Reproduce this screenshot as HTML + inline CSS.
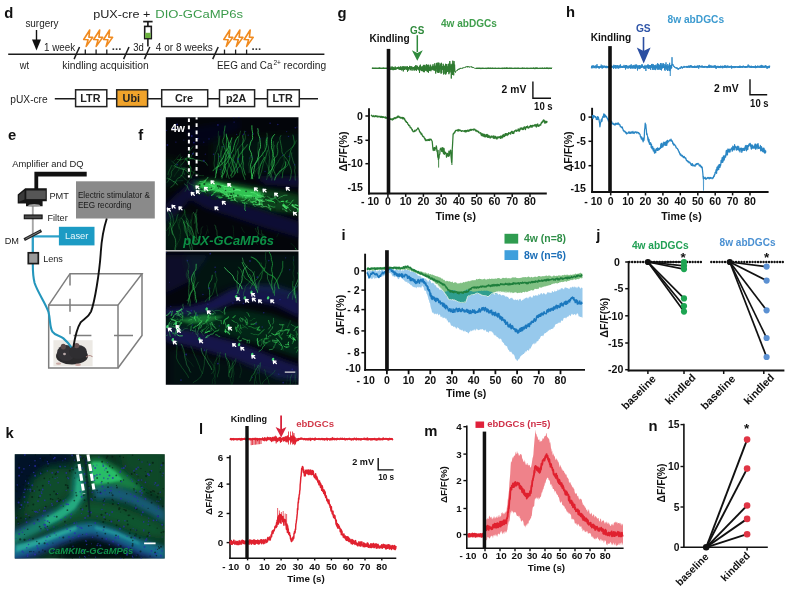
<!DOCTYPE html>
<html lang="en">
<head>
<meta charset="utf-8">
<title>Figure panels d-n</title>
<style>
html,body{margin:0;padding:0;background:#fff;}
body{width:791px;height:590px;overflow:hidden;font-family:"Liberation Sans", sans-serif;}
svg{display:block;font-family:"Liberation Sans", sans-serif;will-change:transform;}
</style>
</head>
<body>
<svg width="791" height="590" viewBox="0 0 791 590">
<defs>
<clipPath id="cf1"><rect x="165.8" y="117.2" width="132.7" height="132.9"/></clipPath>
<clipPath id="cf2"><rect x="165.8" y="251.4" width="132.7" height="133.3"/></clipPath>
<filter id="b1" x="-30%" y="-30%" width="160%" height="160%"><feGaussianBlur stdDeviation="1.2"/></filter>
<filter id="b2" x="-30%" y="-30%" width="160%" height="160%"><feGaussianBlur stdDeviation="2.4"/></filter>
<filter id="b4" x="-30%" y="-30%" width="160%" height="160%"><feGaussianBlur stdDeviation="4.5"/></filter>
<filter id="b03" x="-10%" y="-10%" width="120%" height="120%"><feGaussianBlur stdDeviation="0.35"/></filter>
<clipPath id="ck"><rect x="14.8" y="454.3" width="149.9" height="104.3"/></clipPath>
<filter id="kb1" x="-30%" y="-30%" width="160%" height="160%"><feGaussianBlur stdDeviation="1.3"/></filter>
<filter id="kb2" x="-30%" y="-30%" width="160%" height="160%"><feGaussianBlur stdDeviation="2.4"/></filter>
<filter id="kb5" x="-30%" y="-30%" width="160%" height="160%"><feGaussianBlur stdDeviation="4.5"/></filter>
</defs>
<rect x="0" y="0" width="791" height="590" fill="#ffffff"/>
<g id="panel-d">
<text x="4.3" y="17.5" font-size="14.8" fill="#111" font-weight="700" >d</text>
<text x="25.4" y="26.9" font-size="10.5" fill="#1c1c1c" textLength="33.1" lengthAdjust="spacingAndGlyphs" >surgery</text>
<line x1="36.5" y1="30" x2="36.5" y2="42" stroke="#111" stroke-width="1.4" />
<path d="M32 39.6 L41 39.6 L36.5 50.5 Z" fill="#111" />
<text x="93.2" y="18.3" font-size="10.9" fill="#1c1c1c" textLength="57.2" lengthAdjust="spacingAndGlyphs" >pUX-cre +</text>
<text x="155.3" y="18.3" font-size="10.9" fill="#3A9A4A" textLength="87.8" lengthAdjust="spacingAndGlyphs" >DIO-GCaMP6s</text>
<line x1="8.2" y1="54.2" x2="324.4" y2="54.2" stroke="#1c1c1c" stroke-width="1.4" />
<text x="44" y="51" font-size="10.5" fill="#1c1c1c" textLength="31.2" lengthAdjust="spacingAndGlyphs" >1 week</text>
<line x1="74.1" y1="59.1" x2="79.5" y2="47" stroke="#1c1c1c" stroke-width="1.5" />
<line x1="123.6" y1="59.1" x2="129" y2="47" stroke="#1c1c1c" stroke-width="1.5" />
<line x1="144.4" y1="59.1" x2="149.8" y2="47" stroke="#1c1c1c" stroke-width="1.5" />
<line x1="212.7" y1="59.1" x2="218.2" y2="47" stroke="#1c1c1c" stroke-width="1.5" />
<line x1="85.3" y1="49.6" x2="85.3" y2="54.2" stroke="#1c1c1c" stroke-width="1.3" />
<line x1="96.1" y1="49.6" x2="96.1" y2="54.2" stroke="#1c1c1c" stroke-width="1.3" />
<line x1="106.8" y1="49.6" x2="106.8" y2="54.2" stroke="#1c1c1c" stroke-width="1.3" />
<line x1="224.5" y1="49.6" x2="224.5" y2="54.2" stroke="#1c1c1c" stroke-width="1.3" />
<line x1="235.6" y1="49.6" x2="235.6" y2="54.2" stroke="#1c1c1c" stroke-width="1.3" />
<line x1="246.6" y1="49.6" x2="246.6" y2="54.2" stroke="#1c1c1c" stroke-width="1.3" />
<path d="M89.7 30 L83.7 39.5 L88.1 39.7 L86.2 46.4 L92.7 37.4 L88.9 37.3 Z" fill="#fff" stroke="#F08A1E" stroke-width="1.6" stroke-linejoin="round"/>
<path d="M99.7 30 L93.7 39.5 L98.1 39.7 L96.2 46.4 L102.7 37.4 L98.9 37.3 Z" fill="#fff" stroke="#F08A1E" stroke-width="1.6" stroke-linejoin="round"/>
<path d="M109.6 30 L103.6 39.5 L108 39.7 L106.1 46.4 L112.6 37.4 L108.8 37.3 Z" fill="#fff" stroke="#F08A1E" stroke-width="1.6" stroke-linejoin="round"/>
<path d="M229.8 30 L223.8 39.5 L228.2 39.7 L226.3 46.4 L232.8 37.4 L229 37.3 Z" fill="#fff" stroke="#F08A1E" stroke-width="1.6" stroke-linejoin="round"/>
<path d="M239.9 30 L233.9 39.5 L238.3 39.7 L236.4 46.4 L242.9 37.4 L239.1 37.3 Z" fill="#fff" stroke="#F08A1E" stroke-width="1.6" stroke-linejoin="round"/>
<path d="M250.2 30 L244.2 39.5 L248.6 39.7 L246.7 46.4 L253.2 37.4 L249.4 37.3 Z" fill="#fff" stroke="#F08A1E" stroke-width="1.6" stroke-linejoin="round"/>
<text x="111.8" y="49.6" font-size="11.5" fill="#333" font-weight="700" >...</text>
<text x="251.6" y="49.6" font-size="11.5" fill="#333" font-weight="700" >...</text>
<text x="133.2" y="51" font-size="10.5" fill="#1c1c1c" textLength="10.6" lengthAdjust="spacingAndGlyphs" >3d</text>
<text x="155.8" y="51" font-size="10.5" fill="#1c1c1c" textLength="56.9" lengthAdjust="spacingAndGlyphs" >4 or 8 weeks</text>
<line x1="143.2" y1="21.6" x2="152.6" y2="21.6" stroke="#1c1c1c" stroke-width="1.7" />
<line x1="147.9" y1="21.6" x2="147.9" y2="27" stroke="#1c1c1c" stroke-width="1.7" />
<rect x="144.7" y="26.4" width="6.6" height="12.2" fill="#fff" stroke="#1c1c1c" stroke-width="1.6" />
<rect x="145.2" y="32.8" width="5.5" height="5.3" fill="#6CB33F" />
<line x1="147.9" y1="38.6" x2="147.9" y2="46.4" stroke="#1c1c1c" stroke-width="1.6" />
<text x="19.8" y="69.2" font-size="10.5" fill="#1c1c1c" textLength="9.4" lengthAdjust="spacingAndGlyphs" >wt</text>
<text x="62.3" y="69.2" font-size="10.5" fill="#1c1c1c" textLength="86.4" lengthAdjust="spacingAndGlyphs" >kindling acquisition</text>
<text x="217" y="69.2" font-size="10.5" fill="#1c1c1c" textLength="55.4" lengthAdjust="spacingAndGlyphs" >EEG and Ca</text>
<text x="273.4" y="65" font-size="6.6" fill="#1c1c1c" >2+</text>
<text x="283.6" y="69.2" font-size="10.5" fill="#1c1c1c" textLength="42.6" lengthAdjust="spacingAndGlyphs" >recording</text>
<text x="10.3" y="102.6" font-size="10.5" fill="#1c1c1c" textLength="37.4" lengthAdjust="spacingAndGlyphs" >pUX-cre</text>
<line x1="54.8" y1="98.7" x2="318" y2="98.7" stroke="#1c1c1c" stroke-width="1.5" />
<rect x="75.6" y="89.8" width="31.2" height="16.8" fill="#fff" stroke="#222" stroke-width="1.5" />
<text x="90.4" y="101.9" font-size="10.8" fill="#222" font-weight="700" text-anchor="middle" >LTR</text>
<rect x="116.7" y="89.8" width="30.9" height="16.8" fill="#F0A32B" stroke="#222" stroke-width="1.5" />
<text x="131.3" y="101.9" font-size="10.8" fill="#222" font-weight="700" text-anchor="middle" >Ubi</text>
<rect x="161.7" y="89.8" width="46" height="16.8" fill="#fff" stroke="#222" stroke-width="1.5" />
<text x="183.9" y="101.9" font-size="10.8" fill="#222" font-weight="700" text-anchor="middle" >Cre</text>
<rect x="219.5" y="89.8" width="35.1" height="16.8" fill="#fff" stroke="#222" stroke-width="1.5" />
<text x="236.2" y="101.9" font-size="10.8" fill="#222" font-weight="700" text-anchor="middle" >p2A</text>
<rect x="267.5" y="89.8" width="31.8" height="16.8" fill="#fff" stroke="#222" stroke-width="1.5" />
<text x="282.6" y="101.9" font-size="10.8" fill="#222" font-weight="700" text-anchor="middle" >LTR</text>
</g>
<g id="panel-e">
<text x="8" y="140.3" font-size="14.8" fill="#111" font-weight="700" >e</text>
<text x="138.2" y="140.3" font-size="14.8" fill="#111" font-weight="700" >f</text>
<text x="12.3" y="166.8" font-size="9.4" fill="#222" textLength="71.3" lengthAdjust="spacingAndGlyphs" >Amplifier and DQ</text>
<path d="M34.4 171.8 L86.7 171.8 L86.7 176.5 L38.2 176.5 L38.2 190 L34.4 190 Z" fill="#111" />
<line x1="32.8" y1="205" x2="32.8" y2="253" stroke="#a6a6a6" stroke-width="1.9" />
<path d="M17.7 194.4 L25.2 188.3 L46.8 188.3 L46.8 201.2 L42.6 201.2 L42.6 206.2 L26 206.2 L26 203.4 L17.7 203.4 Z" fill="#161616" />
<rect x="26.3" y="190.5" width="19.4" height="8.6" fill="#565656" />
<path d="M19 195.2 L24.5 190.8 L24.5 199.4 L19 201.8 Z" fill="#3a3a3a" />
<ellipse cx="34.2" cy="205.3" rx="6.2" ry="1.2" fill="#9a9a9a"/>
<text x="49.4" y="198.5" font-size="9.4" fill="#222" textLength="19.5" lengthAdjust="spacingAndGlyphs" >PMT</text>
<rect x="24.3" y="215" width="17.8" height="3.7" fill="#4a4a4a" stroke="#111" stroke-width="1.1" />
<text x="47.5" y="221" font-size="9.4" fill="#222" textLength="20.2" lengthAdjust="spacingAndGlyphs" >Filter</text>
<line x1="32.8" y1="236.4" x2="59" y2="236.4" stroke="#2AA0C8" stroke-width="2.2" />
<line x1="32.8" y1="236.4" x2="32.8" y2="253" stroke="#2AA0C8" stroke-width="2.2" />
<line x1="24.2" y1="239.6" x2="41.4" y2="230.6" stroke="#222" stroke-width="3" />
<line x1="25.5" y1="238.9" x2="40.2" y2="231.2" stroke="#888" stroke-width="0.9" />
<text x="4.7" y="243.6" font-size="9.4" fill="#222" textLength="14.3" lengthAdjust="spacingAndGlyphs" >DM</text>
<rect x="58.9" y="226.8" width="35.6" height="18.6" fill="#1C9BC4" />
<text x="76.7" y="239.2" font-size="9.4" fill="#e8f6fb" text-anchor="middle" textLength="23.5" lengthAdjust="spacingAndGlyphs" >Laser</text>
<rect x="76" y="181.3" width="78.8" height="37.2" fill="#8a8a8a" />
<text x="77.9" y="198.3" font-size="8.2" fill="#1a1a1a" textLength="72" lengthAdjust="spacingAndGlyphs" >Electric stimulator &amp;</text>
<text x="77.9" y="207.8" font-size="8.2" fill="#1a1a1a" textLength="53.5" lengthAdjust="spacingAndGlyphs" >EEG recording</text>
<rect x="48.7" y="305.1" width="69.3" height="62.9" fill="none" stroke="#7e7e7e" stroke-width="1.5" />
<path d="M48.7 305.1 L70 273.7 L142 273.7 L118 305.1" fill="none" stroke="#7e7e7e" stroke-width="1.5" />
<path d="M142 273.7 L142 335.5 L118 368" fill="none" stroke="#7e7e7e" stroke-width="1.5" />
<line x1="70" y1="273.7" x2="70" y2="335.5" stroke="#7e7e7e" stroke-width="1.5" stroke-dasharray="11.9 13.1 13 14.3 8.3 100"/>
<line x1="70" y1="335.5" x2="142" y2="335.5" stroke="#7e7e7e" stroke-width="1.5" stroke-dasharray="0 3.6 17.8 22.6 19 100"/>
<rect x="53.4" y="340.2" width="39.2" height="26.1" fill="#ece9e4" />
<ellipse cx="72" cy="356" rx="16" ry="8.6" fill="#2b2a2c"/>
<ellipse cx="66" cy="353" rx="9" ry="8" fill="#343236"/>
<ellipse cx="78" cy="352" rx="9" ry="7" fill="#2f2e31"/>
<ellipse cx="63.3" cy="346.6" rx="2.6" ry="2.9" fill="#5a4a4a"/>
<ellipse cx="76.6" cy="345.6" rx="2.8" ry="2.6" fill="#6a5555"/>
<ellipse cx="64.5" cy="354" rx="1.4" ry="1.2" fill="#b9a9a9"/>
<ellipse cx="58.5" cy="363.6" rx="2.6" ry="1.2" fill="#c9a9a4"/>
<ellipse cx="78" cy="364.8" rx="3" ry="1.2" fill="#c9a9a4"/>
<path d="M86 357 Q90 354 92.5 357" fill="none" stroke="#b08a86" stroke-width="1.1"/>
<path d="M32.8 263.8 C32.8 272 33 277 34.6 283 C38 293 45.5 303 48.5 312 C50.5 320 49.6 327 52.4 331.6 C55 335.6 60 335.4 63.4 338.4 C66.6 341.2 69.6 344.6 71.4 347.4" fill="none" stroke="#2496BC" stroke-width="2.1"/>
<path d="M106.8 218.5 C103.4 229 101.6 240 100.8 252 C100 265 98.6 275 96.8 286 C95 297 93.6 305 91 311.6 C88.4 317.6 83.4 319 80.6 322.4 C77.2 327.6 74.8 338 73.4 347" fill="none" stroke="#111" stroke-width="1.9"/>
<rect x="28.3" y="252.8" width="10" height="10.8" fill="#9a9a9a" stroke="#1a1a1a" stroke-width="1.7" />
<text x="43.2" y="262.4" font-size="9.4" fill="#222" textLength="19.7" lengthAdjust="spacingAndGlyphs" >Lens</text>
</g>
<g id="panel-f">
<rect x="165.8" y="250.1" width="132.7" height="1.4" fill="#b5b5b5" />
<g clip-path="url(#cf1)">
<rect x="165" y="116.5" width="134" height="134.5" fill="#03050a" />
<g filter="url(#b2)">
<path d="M163 206.7 L176.9 193.9 L194.3 177.7 L201.3 184.7 L190.9 198.6 L176.9 214.8 L163 224.1 Z" fill="#0f0f3a" opacity="0.82"/>
<path d="M190.9 188.1 L209.4 191.6 L232.7 202.1 L260.5 209 L300 221.8 L300 238.1 L260.5 226.4 L232.7 217.2 L204.8 207.9 L188.5 198.6 Z" fill="#10103e" opacity="0.82"/>
<path d="M255.9 176.5 L300 176.5 L300 187 L265.2 184.7 Z" fill="#111140" opacity="0.8"/>
<path d="M186.2 128.9 L239.6 119.6 L239.6 128.9 L209.4 142.9 L190.9 145.2 Z" fill="#0c0c34" opacity="0.3"/>
</g>
<g filter="url(#b4)">
<path d="M211.8 140.5 L300 133.6 L300 173 L214.1 173 Z" fill="#0c4a1c" opacity="0.2"/>
<path d="M163 156.8 L186.2 163.8 L188.5 180 L163 189.3 Z" fill="#0c4a1c" opacity="0.25"/>
<path d="M163 217.2 L190.9 212.5 L193.2 252 L163 252 Z" fill="#0c4a1c" opacity="0.25"/>
</g>
<g filter="url(#b2)">
<path d="M194.3 181.9 L209.4 179.5 L232.7 183.7 L260.5 188.8 L262.8 205.6 L255.9 205.1 L232.7 200 L209.4 192.1 L194.3 189.3 Z" fill="#15802f" opacity="0.85"/>
<path d="M255.9 187.4 L283.7 191.6 L300 195.1 L300 213.7 L274.4 211.4 L255.9 206 Z" fill="#127028" opacity="0.55"/>
</g>
<g filter="url(#b1)">
<path d="M197.8 182.8 L216.4 182.3 L237.3 187.4 L255.9 190.7 L265.2 195.1 L255.9 199 L237.3 196.3 L218.7 191.6 L200.1 187.4 Z" fill="#38d85c" opacity="0.8"/>
</g>
<g fill="none" stroke-linecap="round"><path d="M237.6 172.7 L237.6 170.7 L237.4 168.7 L236.6 166.9 L236 165 L235 163.2 L234.1 161.5 L232.8 159.9 L231.4 158.5 L230.1 157 L229.4 155.1 L228.4 153.4 L227.2 151.8 L226.4 149.9 L226.3 147.9 L226.3 145.9 L226.2 143.9 L226.6 142 L226.4 140 L226.7 138 L226.6 136" stroke="#28b548" stroke-width="0.8" opacity="0.7"/><path d="M259 178.1 L259.1 176.1 L258.8 174.1 L259 172.1 L259.2 170.2 L259.7 168.2 L260.2 166.3 L260.7 164.4 L261.6 162.5 L262.4 160.7 L263.5 159.1 L264.5 157.3" stroke="#28b548" stroke-width="1" opacity="0.7"/><path d="M230.4 175.8 L231.5 174.1 L232.3 172.3 L233.7 170.8 L234.5 169 L235.3 167.2 L236.3 165.5 L236.9 163.6 L237.6 161.7 L237.7 159.7 L238.2 157.8 L239.1 156 L240 154.2 L241.4 152.7 L242.4 151 L243.7 149.4 L244.9 147.9 L246.2 146.3 L247.3 144.7" stroke="#1f9a3c" stroke-width="1.1" opacity="0.6"/><path d="M268.4 173.5 L269.6 171.9 L271 170.5 L272 168.7 L272.8 166.9 L273.8 165.2 L274.1 163.2 L274.4 161.2 L274.4 159.2 L274 157.3 L273.2 155.4 L273.1 153.4 L272.6 151.5 L272.1 149.5 L271.6 147.6 L271.8 145.6 L271.6 143.6 L271.5 141.6 L271.5 139.6 L272.2 137.7 L273.2 136 L274.6 134.5" stroke="#33cc55" stroke-width="0.9" opacity="0.9"/><path d="M270.1 176.2 L269.6 174.3 L269.4 172.3 L268.6 170.4 L268.4 168.5 L267.8 166.6 L267 164.7 L266 163 L265.2 161.2 L264.6 159.2 L264 157.3 L263 155.6 L262.6 153.6 L262.9 151.7" stroke="#1d8436" stroke-width="0.9" opacity="0.4"/><path d="M289.7 180.4 L290.4 178.5 L290.9 176.6 L291 174.6 L291.4 172.7 L291.4 170.7 L290.9 168.7 L290.3 166.8 L289.6 164.9 L289 163 L288.1 161.2 L287 159.6 L285.8 158 L284.5 156.4 L283.5 154.7 L282.3 153.1 L281.8 151.2 L281.8 149.2 L281.5 147.2 L281.1 145.3 L280.7 143.3 L280.4 141.3 L279.9 139.4 L280 137.4 L280.9 135.6" stroke="#2aa845" stroke-width="0.8" opacity="0.6"/><path d="M221.3 176.8 L222 174.9 L222.6 173 L222.8 171 L223.6 169.2 L224.2 167.2 L224.9 165.4 L226.1 163.8 L227.4 162.2 L228.3 160.5 L229.3 158.7 L229.7 156.7 L230.5 154.9 L231.2 153.1 L232.4 151.4 L233.2 149.6 L233.6 147.7 L234.1 145.7 L234.6 143.8 L235.2 141.9 L235.9 140 L236.9 138.3 L238.1 136.6" stroke="#28b548" stroke-width="1" opacity="0.8"/><path d="M275.3 175.2 L274.9 173.2 L274.1 171.4 L273.3 169.6 L272.4 167.8 L271.9 165.9 L272.2 163.9 L272.3 161.9 L273.1 160.1 L274.3 158.5 L275.8 157.1 L276.9 155.5 L277.6 153.6 L277.8 151.6 L277.7 149.6 L277.2 147.7 L277.1 145.7 L277.5 143.7 L278.4 141.9" stroke="#2aa845" stroke-width="1" opacity="0.6"/><path d="M266.5 179.7 L267.1 177.8 L267.2 175.8 L267.9 173.9 L268.4 172 L269 170.1 L269.1 168.1 L269.7 166.2 L270.6 164.4 L271.3 162.5 L272.2 160.7 L272.5 158.8" stroke="#28b548" stroke-width="0.6" opacity="0.5"/><path d="M222 178.1 L222.4 176.1 L223.3 174.3 L224.3 172.6 L224.8 170.7 L225.4 168.7 L225.3 166.7 L224.7 164.8 L224.8 162.8 L225 160.9 L225.3 158.9 L226 157 L226.6 155.1 L227.4 153.3 L228.5 151.6 L229 149.7 L229.2 147.7 L229 145.7 L228.5 143.7 L228.3 141.7 L227.8 139.8 L227.3 137.9 L226.4 136.1 L226.3 134.1" stroke="#33cc55" stroke-width="1" opacity="0.7"/><path d="M282.1 177.9 L282.5 176 L282.6 174 L282.8 172 L283.6 170.2 L284.8 168.5 L286 166.9 L287.4 165.5 L288.3 163.7 L288.8 161.8 L289.6 159.9 L289.8 158 L289.7 156 L290 154 L290.4 152 L290.9 150.1 L291.8 148.3 L293.1 146.8 L293.9 144.9 L294.3 143 L294.2 141 L293.7 139 L293.5 137 L292.9 135.1" stroke="#1f9a3c" stroke-width="0.8" opacity="0.7"/><path d="M254.1 176.5 L254.5 174.5 L254.9 172.6 L255.8 170.8 L256.8 169.1 L258.1 167.6 L259.7 166.3 L260.8 164.7 L261.9 163 L263.3 161.5 L264.8 160.2 L265.8 158.5 L266.1 156.5 L266.5 154.5 L266.3 152.6 L265.8 150.6 L265 148.8 L264.7 146.8 L264.8 144.8 L265.5 142.9 L265.7 140.9 L266.2 139" stroke="#1d8436" stroke-width="0.7" opacity="0.5"/><path d="M220.7 174.4 L221.1 172.5 L221.1 170.5 L221.2 168.5 L220.9 166.5 L221 164.5 L221.7 162.6 L222 160.7 L222.3 158.7 L222.2 156.7 L221.7 154.8 L221.1 152.9 L220.4 151 L219.8 149.1 L219.5 147.1 L219.1 145.1 L218.9 143.1 L218.4 141.2 L218.6 139.2 L218.2 137.2 L218.4 135.3 L218.3 133.3 L218.6 131.3" stroke="#1f9a3c" stroke-width="0.7" opacity="0.4"/><path d="M278.8 175.8 L279.7 173.9 L280.8 172.3 L281.5 170.4 L281.6 168.4 L282.4 166.5 L283.1 164.7 L284 162.9 L284.3 160.9 L284 158.9 L284.1 156.9 L284.2 154.9" stroke="#1f9a3c" stroke-width="0.7" opacity="0.4"/><path d="M216.3 172.5 L216.1 170.6 L215.5 168.6 L214.4 166.9 L214.2 165 L214 163 L214.3 161 L214.7 159.1 L214.5 157.1 L214.7 155.1 L215.3 153.2 L216.4 151.5 L217.1 149.6 L217.2 147.6 L217.9 145.7 L218.6 143.9 L219.2 142 L219.4 140 L219.5 138 L219.8 136" stroke="#33cc55" stroke-width="0.7" opacity="0.4"/><path d="M231 171.3 L231.1 169.3 L231.2 167.3 L232 165.4 L232.2 163.5 L232.9 161.6 L233.4 159.6 L233.9 157.7 L234.9 155.9 L235.6 154.1 L236.3 152.2 L237.1 150.4 L238.4 148.9 L239.4 147.2 L240.7 145.6 L242 144.1 L243.4 142.6 L244.4 140.9 L245.2 139.1 L245.4 137.1 L245.2 135.1 L244.5 133.2 L244.4 131.2" stroke="#33cc55" stroke-width="0.8" opacity="0.4"/><path d="M268.5 176.1 L269.6 174.4 L270.8 172.9 L271.5 171 L271.9 169 L272.1 167 L271.8 165.1 L271.6 163.1 L271.4 161.1 L272.1 159.2 L272.6 157.3 L272.6 155.3 L273.3 153.4 L273.7 151.4 L273.8 149.4 L273.9 147.4 L273.7 145.5 L273.4 143.5 L273.5 141.5" stroke="#28b548" stroke-width="0.8" opacity="0.4"/><path d="M232.2 172 L231.5 170.1 L230.7 168.3 L229.7 166.5 L228.9 164.7 L228.4 162.7 L228.2 160.8 L228.2 158.8 L228.5 156.8 L229.2 154.9 L229.6 152.9 L229.7 150.9 L230.3 149 L230.4 147 L230.7 145.1 L231.1 143.1 L230.8 141.1" stroke="#1d8436" stroke-width="1" opacity="0.7"/><path d="M274.7 179.9 L275.2 178 L276.1 176.2 L277.2 174.6 L278.5 173.1 L279.8 171.5 L281.3 170.2 L282.8 168.9 L284.3 167.6 L285.4 165.9 L285.7 163.9 L285.7 161.9" stroke="#33cc55" stroke-width="1.1" opacity="0.6"/><path d="M249.1 172.5 L249.3 170.5 L249.2 168.5 L249.2 166.5 L248.7 164.5 L249 162.6 L249.8 160.7 L250 158.7 L250.3 156.8 L251 154.9" stroke="#2aa845" stroke-width="0.7" opacity="0.4"/><path d="M232.3 177.2 L233.6 175.6 L234.7 173.9 L235.6 172.2 L236.5 170.4 L237.5 168.6 L238.8 167.1 L240 165.6 L241.4 164 L242.1 162.2 L242.4 160.2 L242.5 158.2 L243 156.3" stroke="#33cc55" stroke-width="0.9" opacity="0.5"/><path d="M252 176.2 L251.6 174.2 L251.2 172.2 L251.2 170.2 L250.9 168.2 L250.6 166.3 L250.7 164.3 L251.4 162.4 L252 160.5 L252.3 158.5 L251.9 156.5 L251.6 154.6 L251.1 152.6 L250.2 150.9 L249.4 149 L249.4 147 L250 145.1 L250.4 143.1 L251.1 141.3 L252.3 139.6 L252.7 137.7 L252.4 135.7 L252.6 133.7 L252.4 131.7 L252 129.7 L251.9 127.7 L251.9 125.7" stroke="#33cc55" stroke-width="1" opacity="0.8"/><path d="M229.2 178.4 L228.5 176.5 L227.8 174.6 L227.2 172.7 L226.5 170.9 L225.5 169.1 L224.4 167.4 L223.3 165.8 L222.8 163.8 L221.8 162.1 L221.2 160.2 L221.2 158.2 L220.7 156.3 L220.7 154.3 L221.1 152.3 L221.8 150.4 L222.1 148.4 L222.1 146.4" stroke="#2aa845" stroke-width="0.7" opacity="0.8"/><path d="M215.2 177.9 L215.8 176 L215.8 174 L216.3 172 L216.9 170.1 L217.2 168.2 L218.2 166.4 L219 164.6 L219.7 162.7 L220.7 161 L221.9 159.4 L223.1 157.8 L223.6 155.8 L224.4 154 L225.2 152.2 L226.4 150.6 L227.6 149 L228.4 147.1 L228.6 145.1 L229.6 143.4 L230.4 141.5 L231.3 139.8 L231.8 137.8" stroke="#33cc55" stroke-width="0.8" opacity="0.9"/><path d="M258.1 173.9 L258 171.9 L258.2 169.9 L258.6 168 L258.9 166 L258.8 164 L258.7 162 L258.9 160 L258.6 158 L258.6 156 L258.1 154.1 L257.7 152.1 L257.8 150.1 L258 148.1 L258.2 146.1 L258.1 144.1 L258.4 142.2" stroke="#2aa845" stroke-width="0.6" opacity="0.5"/><path d="M216.5 173.2 L216.3 171.2 L216.3 169.2 L216.8 167.3 L217.5 165.4 L218 163.5 L218.3 161.5 L218.6 159.5 L218.7 157.5 L218.7 155.5 L218.1 153.6" stroke="#33cc55" stroke-width="0.8" opacity="0.6"/><path d="M270.5 177.4 L270.8 175.5 L271.7 173.7 L272.5 171.8 L273.4 170.1 L274.3 168.3 L274.9 166.4 L275.9 164.6 L277.4 163.3 L278.3 161.5 L279.2 159.7 L280.3 158.1 L281.7 156.6 L283.4 155.5 L284.9 154.3 L285.9 152.5 L287.3 151.1 L289 150 L290.5 148.7 L291.9 147.3 L293.1 145.7 L294.6 144.3 L295.6 142.6 L296.2 140.7" stroke="#1d8436" stroke-width="0.6" opacity="0.8"/><path d="M271.8 180.1 L272 178.1 L271.6 176.1 L270.8 174.3 L270.3 172.4 L269.2 170.7 L268.7 168.8 L268.8 166.8 L269 164.8 L269.2 162.8 L269.3 160.8 L269.7 158.8 L269.5 156.8 L269 154.9 L269.3 152.9 L269 150.9 L268.5 149 L268.5 147 L267.8 145.1 L267.3 143.2 L267.5 141.2 L267.4 139.2 L267 137.2 L267.2 135.2 L266.9 133.2" stroke="#46e06a" stroke-width="0.6" opacity="0.5"/><path d="M295.3 180.1 L295.1 178.1 L295.2 176.1 L295.2 174.1 L294.8 172.1 L294.6 170.2 L295.1 168.2 L295 166.2 L294.4 164.3 L293.6 162.4 L292.9 160.6 L292.5 158.6 L291.8 156.7 L291.6 154.8 L291.7 152.8" stroke="#46e06a" stroke-width="0.5" opacity="0.6"/><path d="M226.4 177.2 L226.5 175.2 L227.2 173.3 L227.3 171.3 L227.6 169.3 L228.1 167.4 L229 165.6 L229.8 163.8 L231 162.1 L231.5 160.2 L232.1 158.3 L233.2 156.6 L233.6 154.7" stroke="#1f9a3c" stroke-width="1.1" opacity="0.5"/><path d="M213 170.8 L214.3 169.2 L215.7 167.8 L217.4 166.8 L219.3 166.1 L220.9 165 L222.2 163.4 L223.7 162.1 L225.4 161 L226.4 159.3 L227.6 157.7 L228.6 156 L229.5 154.2 L230.1 152.3 L230.4 150.3 L230.2 148.3 L229.9 146.3" stroke="#33cc55" stroke-width="0.8" opacity="0.8"/><path d="M259.1 178.7 L259.6 176.8 L260.5 175 L260.9 173.1 L261.6 171.2 L262 169.2 L262.4 167.3 L262.9 165.3 L263.2 163.4 L263.9 161.5 L264.5 159.6 L265.4 157.8 L265.9 155.8 L266.6 154 L267.2 152.1 L267.7 150.1" stroke="#2aa845" stroke-width="0.5" opacity="0.9"/><path d="M231.5 177.3 L231.5 175.3 L232.1 173.4 L232.8 171.5 L233 169.5 L233.6 167.6 L233.9 165.6 L233.8 163.6 L233.2 161.7 L233.1 159.7 L233.6 157.7 L234.2 155.8 L235.3 154.1 L235.6 152.2 L235.6 150.2 L235.6 148.2 L236.2 146.3 L237.2 144.6 L238 142.7 L238.4 140.8 L238.7 138.8 L238.9 136.8 L239.7 135 L240 133 L240.6 131.1" stroke="#1d8436" stroke-width="0.7" opacity="0.7"/><path d="M222 172.6 L222.7 170.8 L223.5 168.9 L224.2 167.1 L224.7 165.1 L224.8 163.1 L224.8 161.1 L225.1 159.2 L225.4 157.2 L225.7 155.2 L225.7 153.2 L225.6 151.2 L225.1 149.3 L224.3 147.5 L223.9 145.5 L223.2 143.6 L222.7 141.7 L223 139.7 L223.8 137.9 L224.2 135.9 L224.1 133.9 L224.1 131.9 L224.6 130 L224.8 128 L225.1 126" stroke="#1d8436" stroke-width="1" opacity="0.8"/><path d="M234.9 173.6 L234.7 171.6 L234.6 169.6 L234 167.7 L233.3 165.8 L232.5 164 L232.4 162 L232 160.1 L231.1 158.3 L230.1 156.5 L229.1 154.8 L228.3 153 L227.9 151 L227.1 149.2" stroke="#2aa845" stroke-width="1.1" opacity="0.5"/><path d="M251.3 178.8 L251.6 176.9 L251.8 174.9 L251.7 172.9 L251.4 170.9 L251.9 169 L252.6 167.1 L253.8 165.5 L254.8 163.8 L256.2 162.4 L257.5 160.8 L258.4 159 L259.6 157.4 L261.2 156.2 L262.2 154.5 L263.4 152.8 L264.6 151.2 L265.4 149.4 L266.1 147.6 L266.4 145.6 L266.5 143.6 L266.4 141.6 L266.6 139.6 L267.2 137.7" stroke="#28b548" stroke-width="1" opacity="0.8"/><path d="M245.3 174.9 L244.7 173 L244.1 171.1 L243.6 169.1 L243.1 167.2 L243.1 165.2 L243.3 163.2 L242.9 161.2 L242.7 159.3 L242.7 157.3 L242.5 155.3 L242.1 153.3 L242.4 151.3 L242.8 149.4 L243 147.4 L242.6 145.4 L242.6 143.4 L243 141.5 L243.3 139.5 L242.9 137.5 L242.8 135.5" stroke="#33cc55" stroke-width="0.9" opacity="0.6"/><path d="M244.9 179.5 L244.5 177.6 L243.6 175.8 L243 173.9 L242.4 172 L242.2 170 L241.6 168.1 L240.6 166.3 L239.4 164.7 L238.8 162.8 L238.2 160.9 L237.8 159 L238 157 L238.5 155 L238.4 153 L238.2 151.1 L237.6 149.1" stroke="#28b548" stroke-width="1.1" opacity="0.5"/><path d="M252.7 178.8 L252.3 176.8 L252.6 174.8 L253.4 173 L254 171.1 L254 169.1 L254.5 167.2 L254.8 165.2 L255.6 163.4 L256.3 161.5 L257.4 159.8 L257.8 157.8 L258.5 156 L258.7 154 L258.8 152 L259.3 150.1 L260.2 148.2 L260.5 146.3 L260.4 144.3 L260.2 142.3 L260 140.3 L259.8 138.3 L259.2 136.4 L258.4 134.6 L258 132.6 L258.2 130.6 L257.8 128.6" stroke="#46e06a" stroke-width="1" opacity="0.7"/><path d="M268.8 175.7 L269.6 173.9 L270.6 172.2 L271.7 170.5 L272.4 168.6 L272.8 166.6 L273 164.7 L273.1 162.7 L273.2 160.7 L273 158.7 L272.3 156.8 L272.4 154.8 L272.6 152.8 L272.7 150.8 L273 148.8 L273.7 147 L274.7 145.3" stroke="#2aa845" stroke-width="0.7" opacity="0.4"/></g>
<g fill="none" stroke-linecap="round"><path d="M173.7 165.5 L173 167.4 L172.7 169.3 L171.6 171 L170.7 172.8 L169.4 174.3 L168.7 176.2 L167.5 177.8 L165.8 178.9 L164.1 179.9" stroke="#28b548" stroke-width="0.4" opacity="0.3"/><path d="M180.6 175.4 L182.4 176.1 L183.9 177.4 L185.1 179 L186.7 180.1 L188.2 181.5 L189.2 183.2 L190.9 184.3 L192.8 185 L194.4 186.1 L196.4 186.7 L198 187.8 L199.9 188.5" stroke="#2aa845" stroke-width="0.5" opacity="0.5"/><path d="M188.7 160.8 L190 159.2 L190.8 157.4 L191.6 155.6 L192.8 153.9 L193.7 152.1" stroke="#33cc55" stroke-width="0.8" opacity="0.4"/><path d="M185.1 157.9 L186.2 159.6 L187.3 161.3 L188.4 163 L189 164.9 L190.4 166.4 L191.1 168.2" stroke="#1d8436" stroke-width="0.8" opacity="0.6"/><path d="M174.1 165.8 L175.7 164.6 L177.2 163.3 L178.3 161.6 L179.7 160.3 L180.6 158.4 L181.9 157" stroke="#33cc55" stroke-width="0.5" opacity="0.7"/><path d="M187.4 182.5 L188.6 180.9 L189.6 179.1 L190.8 177.6 L192 176 L193.1 174.3 L193.7 172.4 L194.4 170.5 L195.5 168.9 L196 166.9 L196.1 164.9" stroke="#46e06a" stroke-width="0.6" opacity="0.3"/><path d="M173.7 161.2 L175.2 159.9 L176.6 158.5 L177.6 156.8 L179.1 155.5 L180.4 153.9" stroke="#28b548" stroke-width="0.6" opacity="0.3"/><path d="M168 174.6 L168.4 172.6 L169.2 170.8 L170.1 169 L170.9 167.1 L171.9 165.4" stroke="#2aa845" stroke-width="0.7" opacity="0.5"/><path d="M177.3 159.5 L179.3 159.8 L181.3 159.7 L183.2 159 L185.2 159.1 L187.1 158.4 L189 158 L191 158.5 L193 158.4" stroke="#28b548" stroke-width="0.6" opacity="0.6"/><path d="M181.5 167 L182.7 168.6 L183.3 170.5 L183.7 172.5 L184.3 174.3" stroke="#46e06a" stroke-width="0.4" opacity="0.6"/><path d="M184.1 168.5 L183.5 170.4 L182.7 172.3 L182.4 174.2 L181.4 176 L179.9 177.3 L178.1 178.2 L176.7 179.5 L175.9 181.4 L174.9 183.1 L173.7 184.7 L172.4 186.2 L170.7 187.2" stroke="#33cc55" stroke-width="0.5" opacity="0.7"/><path d="M188 157 L189.7 158.2 L191.6 158.8 L193.6 158.9 L195.4 159.8 L197.4 160.1 L199.3 160.3 L201.3 160.8 L203.3 161.1 L205 162 L206.4 163.5 L207.4 165.2" stroke="#46e06a" stroke-width="0.6" opacity="0.6"/><path d="M182.8 180.4 L180.8 180.7 L178.8 180.7 L176.8 181.1 L174.9 181.4 L172.9 181.8" stroke="#28b548" stroke-width="0.5" opacity="0.3"/><path d="M167 182.5 L168.3 181 L169.2 179.2 L170.4 177.6 L171.2 175.8 L171.6 173.8 L171.6 171.8 L172.5 170.1 L174 168.7 L175.1 167.1" stroke="#46e06a" stroke-width="0.8" opacity="0.3"/><path d="M187.3 182.1 L187.1 184.1 L187.5 186 L187.1 188 L186.2 189.7 L185.1 191.4" stroke="#1d8436" stroke-width="0.7" opacity="0.5"/><path d="M167.7 178.4 L169.5 179.2 L171.4 179.9 L172.8 181.3 L174.7 182.1 L176.3 183.2 L177.4 184.9" stroke="#46e06a" stroke-width="0.6" opacity="0.6"/><path d="M180.7 155.4 L180.6 157.4 L180.5 159.4 L180.9 161.3 L181 163.3 L180.7 165.3 L179.7 167.1 L178.7 168.8 L178.1 170.7" stroke="#2aa845" stroke-width="0.4" opacity="0.4"/><path d="M184.5 184 L186.1 185.2 L187.4 186.7 L188.2 188.5 L189.1 190.3" stroke="#46e06a" stroke-width="0.5" opacity="0.7"/><path d="M171.7 161 L173 162.5 L174.7 163.6 L176 165.1 L177.1 166.7" stroke="#1f9a3c" stroke-width="0.7" opacity="0.4"/><path d="M174.9 166.4 L176.7 167.2 L178.6 167.8 L180.5 168.4 L182.4 169.1 L184.4 169.4 L186 170.5 L187.5 171.8 L188.6 173.5 L190.2 174.7" stroke="#46e06a" stroke-width="0.7" opacity="0.6"/><path d="M181.4 165 L182.6 163.4 L183.9 161.9 L185 160.2 L186 158.5 L187.4 157 L188.4 155.2 L189 153.4 L189.6 151.4 L190.5 149.7 L191.8 148.1 L193 146.6" stroke="#33cc55" stroke-width="0.5" opacity="0.6"/><path d="M186.7 159.1 L187.3 161 L188.2 162.8 L189.4 164.4 L189.8 166.4 L190.7 168.2 L190.9 170.2 L190.4 172.1 L190.6 174.1 L190.8 176.1 L191.5 178" stroke="#28b548" stroke-width="0.8" opacity="0.6"/><path d="M183.7 167.6 L185.6 168.2 L187.2 169.4 L188.9 170.5 L190.9 170.9 L192.6 171.9 L194.4 172.8 L196.3 173.3 L197.9 174.6 L199.6 175.5 L201.6 175.7 L203.6 175.7" stroke="#1d8436" stroke-width="0.6" opacity="0.6"/><path d="M188.4 167.5 L186.6 168.3 L184.6 168.6 L182.6 168.9 L180.7 169.2 L178.9 170.1 L177.4 171.4 L176.3 173.1 L175.1 174.7 L174.2 176.5" stroke="#1d8436" stroke-width="0.4" opacity="0.5"/></g>
<g fill="none" stroke-linecap="round"><path d="M191 219.8 L191.1 221.8 L191.2 223.8 L191.1 225.8 L191.1 227.8 L190.9 229.8 L190.1 231.6 L189.9 233.6 L189.5 235.6" stroke="#1f9a3c" stroke-width="0.6" opacity="0.5"/><path d="M197 209.6 L196.7 211.6 L195.9 213.4 L195.2 215.3 L195.2 217.3 L195.1 219.3 L195 221.3 L194.6 223.2" stroke="#46e06a" stroke-width="0.4" opacity="0.6"/><path d="M178.1 214.2 L177.2 216 L176.9 218 L176.5 219.9 L175.7 221.7 L174.6 223.4 L173.6 225.1 L172.5 226.8 L171.9 228.8 L171.6 230.7 L171.9 232.7 L172.7 234.5" stroke="#2aa845" stroke-width="0.7" opacity="0.6"/><path d="M184.7 210.7 L184.5 212.7 L183.7 214.5 L182.6 216.2 L181.2 217.6 L180.1 219.3 L179.8 221.3 L179.1 223.1 L179.1 225.1 L178.9 227.1 L179.2 229.1" stroke="#1d8436" stroke-width="0.7" opacity="0.4"/><path d="M196.7 214.4 L196.2 216.3 L195.8 218.3 L195.8 220.3 L195.7 222.3 L196.1 224.2 L196 226.2 L196.1 228.2 L195.7 230.2 L195.6 232.2 L195.8 234.1 L196.2 236.1 L196.7 238 L197.5 239.9 L198.7 241.4 L199.5 243.3 L200.3 245.1" stroke="#28b548" stroke-width="0.7" opacity="0.4"/><path d="M181.7 218.4 L182.9 220 L184.2 221.5 L185.6 223 L187.2 224.1 L188.6 225.5 L190.1 226.9 L191 228.7 L191.8 230.5 L192.8 232.2 L193.6 234.1 L194.2 236 L195.2 237.7 L196.7 239.1 L198.2 240.4 L199.5 241.9 L200.6 243.6 L201.1 245.5" stroke="#28b548" stroke-width="0.7" opacity="0.4"/><path d="M171.3 222.7 L170.4 224.5 L169.6 226.3 L168.5 228 L167.3 229.6 L165.9 231 L164.3 232.2 L162.6 233.4" stroke="#28b548" stroke-width="0.6" opacity="0.4"/><path d="M168.9 221.7 L169.4 223.7 L169.8 225.6 L169.7 227.6 L169.6 229.6 L169.4 231.6 L169.3 233.6 L168.6 235.5" stroke="#1d8436" stroke-width="0.6" opacity="0.5"/><path d="M183.4 222.1 L184.3 223.8 L185.1 225.7 L185.7 227.6 L185.9 229.6 L186.4 231.5 L187.1 233.4 L187.1 235.4 L187.9 237.2 L188.6 239.1 L189.1 241 L190.3 242.7 L191.3 244.4 L192 246.3 L192.1 248.3 L192.7 250.2 L192.6 252.2" stroke="#46e06a" stroke-width="0.6" opacity="0.6"/><path d="M171 212.3 L171.8 214.1 L172.4 216 L173 217.9 L173.2 219.9 L173.4 221.9 L173 223.8 L173 225.8" stroke="#33cc55" stroke-width="0.6" opacity="0.5"/><path d="M192.4 213.5 L192.1 215.4 L192 217.4 L191.9 219.4 L191.1 221.3 L190.2 223 L189.1 224.7 L188.3 226.5 L187.8 228.4 L187.6 230.4 L187.3 232.4" stroke="#1d8436" stroke-width="0.4" opacity="0.7"/><path d="M179 217.4 L179.4 219.4 L180.4 221.1 L181.7 222.6 L182.5 224.4 L183.2 226.3 L183.4 228.3 L184.3 230.1 L185.1 231.9 L185.7 233.9 L186.4 235.7 L187.5 237.4 L188.2 239.3 L188.5 241.2" stroke="#1d8436" stroke-width="0.4" opacity="0.3"/><path d="M186.3 218.5 L186.4 220.5 L186.8 222.4 L187.7 224.2 L188 226.2 L189 227.9 L189.4 229.9 L190.4 231.6 L191.5 233.3 L192.3 235.1 L192.5 237.1 L193.2 239 L194.5 240.5 L196.2 241.6 L197.6 243" stroke="#46e06a" stroke-width="0.8" opacity="0.3"/><path d="M184.3 209.6 L184.9 211.5 L184.9 213.5 L185.2 215.5 L186.1 217.3 L187.2 218.9 L188.1 220.7 L188.4 222.7 L188 224.7 L187.9 226.7 L188.1 228.7 L189 230.5 L189.6 232.4 L190.6 234.1 L192 235.6 L193.7 236.6 L195.6 237.3" stroke="#1d8436" stroke-width="0.7" opacity="0.7"/><path d="M193.4 212.3 L194.4 214.1 L195.2 215.9 L196.1 217.7 L196.6 219.6 L196.6 221.6 L196.9 223.6 L196.9 225.6 L196.8 227.6 L197.4 229.5 L197.6 231.5 L198.2 233.4" stroke="#46e06a" stroke-width="0.7" opacity="0.5"/><path d="M195.7 212.9 L195.9 214.9 L196.6 216.7 L196.8 218.7 L196.4 220.7 L196.6 222.7 L197 224.6 L196.8 226.6 L197 228.6 L196.6 230.6 L196.1 232.5 L196.3 234.5 L196.5 236.5 L196.5 238.5 L196.4 240.5" stroke="#1d8436" stroke-width="0.5" opacity="0.7"/><path d="M170.1 223.4 L170.8 225.3 L171.1 227.3 L171.5 229.2 L172.3 231.1 L172.7 233.1 L173.4 234.9 L174.3 236.7 L175.1 238.5 L175.6 240.5 L175.7 242.5 L175.8 244.5 L175.4 246.4 L175 248.4 L175.4 250.3 L176.4 252.1 L176.8 254" stroke="#46e06a" stroke-width="0.6" opacity="0.7"/><path d="M178.3 219.4 L177.8 221.3 L177.8 223.3 L178.5 225.2 L179.3 227 L180.1 228.8 L180.6 230.8 L180.6 232.8 L180 234.7 L180.2 236.7 L179.9 238.7 L179.2 240.5 L178.2 242.2 L177.2 244 L176.8 245.9 L175.9 247.8 L174.8 249.4 L173.7 251.1" stroke="#2aa845" stroke-width="0.6" opacity="0.3"/><path d="M183.8 221.1 L183.8 223.1 L184.3 225 L184.6 227 L184.8 229 L185.1 231 L185.8 232.8 L186.9 234.5 L187.5 236.4 L187.7 238.4 L188 240.4 L189 242.1 L189.4 244.1 L189.6 246.1 L190.1 248 L190.6 249.9" stroke="#33cc55" stroke-width="0.8" opacity="0.5"/><path d="M181.4 217.9 L182.4 219.6 L183.1 221.5 L184 223.3 L184.7 225.2 L185.5 227 L186.3 228.9 L187.4 230.5 L189 231.8" stroke="#2aa845" stroke-width="0.6" opacity="0.3"/><path d="M186.3 220.9 L187.2 222.7 L188 224.6 L189.3 226 L191 227.1 L192 228.9 L192.4 230.8 L192.9 232.8 L193.3 234.7 L194.1 236.6 L194.5 238.5 L195 240.5 L194.9 242.4 L194.6 244.4" stroke="#46e06a" stroke-width="0.8" opacity="0.4"/><path d="M167.7 212.1 L168.9 213.7 L169.9 215.4 L170.3 217.3 L170.8 219.3 L170.8 221.3 L170.2 223.2" stroke="#1f9a3c" stroke-width="0.8" opacity="0.6"/></g>
<g fill="none" stroke-linecap="round"><path d="M291 243.3 L292.3 244.8 L293.9 245.9 L295 247.6 L296 249.3" stroke="#28b548" stroke-width="0.7" opacity="0.2"/><path d="M295.4 248.2 L296.4 249.9 L297.5 251.5" stroke="#46e06a" stroke-width="0.9" opacity="0.4"/><path d="M202.6 226.7 L201.4 228.3 L201 230.3 L201.1 232.3 L200.7 234.3 L199.6 236 L198.5 237.6" stroke="#33cc55" stroke-width="0.7" opacity="0.3"/><path d="M263.7 234.6 L264.2 236.5 L264.9 238.4 L265.6 240.3 L265.7 242.3 L265.2 244.2" stroke="#1f9a3c" stroke-width="0.7" opacity="0.4"/><path d="M278.5 233.2 L277.6 234.9 L276.8 236.8" stroke="#1d8436" stroke-width="0.5" opacity="0.3"/><path d="M207.6 229.7 L206.9 231.6 L206.4 233.5 L205.4 235.2 L204.4 237 L203.3 238.7 L202.8 240.6" stroke="#28b548" stroke-width="0.8" opacity="0.2"/><path d="M243.4 236.3 L243.7 238.3 L244.3 240.2 L245.6 241.8" stroke="#46e06a" stroke-width="0.9" opacity="0.3"/><path d="M214.8 225.1 L215.8 226.8 L215.9 228.8 L216.8 230.6 L217 232.6 L217 234.6 L217.5 236.5 L218.1 238.4 L218.9 240.2" stroke="#33cc55" stroke-width="0.8" opacity="0.4"/><path d="M241.5 227.2 L242.2 229 L243.1 230.8 L244.4 232.4" stroke="#1d8436" stroke-width="0.9" opacity="0.2"/><path d="M262.4 233.9 L262.5 235.9 L262.1 237.9 L261.1 239.6 L260.6 241.6 L260.5 243.5" stroke="#1f9a3c" stroke-width="0.9" opacity="0.3"/><path d="M255.5 228.3 L256 230.3 L256.9 232 L258.3 233.4 L260.1 234.4 L261.6 235.7 L262.9 237.2 L264.4 238.5" stroke="#28b548" stroke-width="0.5" opacity="0.4"/><path d="M261.3 230.2 L261.5 232.2 L261.6 234.2" stroke="#1d8436" stroke-width="0.9" opacity="0.3"/><path d="M232.9 225.8 L233.3 227.8 L233.6 229.7 L233.4 231.7 L233.7 233.7 L233.7 235.7 L233.9 237.7 L234 239.7 L233.2 241.5" stroke="#1f9a3c" stroke-width="0.5" opacity="0.3"/><path d="M257.9 226.9 L257.8 228.9 L258.4 230.8 L258.4 232.8 L258 234.8 L257.1 236.6" stroke="#33cc55" stroke-width="0.8" opacity="0.4"/><path d="M256 239 L256.2 241 L256.5 243 L257.5 244.7" stroke="#46e06a" stroke-width="0.5" opacity="0.3"/><path d="M206.8 225.3 L207.5 227.1 L207.5 229.1 L208.4 230.9 L208.6 232.9" stroke="#1d8436" stroke-width="0.5" opacity="0.2"/></g>
<g fill="none" stroke-linecap="round"><path d="M258.4 200.3 L259.9 200.1 L261.5 200.6 L262.9 201.3 L264.5 201.3 L266 200.8" stroke="#5cf07c" stroke-width="1.1" opacity="0.9"/><path d="M208.9 184.3 L210.4 185.1 L211.9 185.5 L213.3 186.3 L214.7 187.1" stroke="#5cf07c" stroke-width="0.7" opacity="0.9"/><path d="M292.5 204.6 L294.1 204.8 L295.7 204.8 L297.2 205.5 L298.4 206.5 L299.9 207.1" stroke="#46e06a" stroke-width="1.3" opacity="0.9"/><path d="M283 205.1 L284.1 206.2 L285.1 207.5 L286.4 208.5" stroke="#46e06a" stroke-width="1.4" opacity="1"/><path d="M223 191.2 L224.5 191.8 L226.1 191.8 L227.7 191.8" stroke="#33cc55" stroke-width="1.1" opacity="0.6"/><path d="M240.3 194.3 L241.8 195 L242.6 196.4 L242.8 198" stroke="#46e06a" stroke-width="0.6" opacity="0.8"/><path d="M224.7 195 L226.2 195.4 L227.7 195.9 L229.3 195.9 L230.9 195.9" stroke="#5cf07c" stroke-width="0.8" opacity="0.5"/><path d="M209.2 187.4 L210.8 187.7 L212.2 188.5" stroke="#5cf07c" stroke-width="0.7" opacity="0.8"/><path d="M292 205.2 L293.3 206.1 L294.6 207.1 L296.1 207.6 L297.5 208.4 L298.7 209.4" stroke="#5cf07c" stroke-width="1.3" opacity="0.8"/><path d="M255.4 200.8 L257 200.3 L258.5 200 L260.1 199.9 L261.7 199.6 L263.2 199.1" stroke="#46e06a" stroke-width="0.9" opacity="0.6"/><path d="M253 204.6 L254.5 204.1 L256.1 204.5 L257.7 204.5 L259.2 204.3 L260.8 203.8 L262.4 204" stroke="#46e06a" stroke-width="0.8" opacity="0.9"/><path d="M213.8 184.6 L215.4 185 L216.9 185.5 L218.4 186" stroke="#33cc55" stroke-width="1.2" opacity="0.8"/><path d="M297.7 209.6 L298.7 210.9 L300 211.8 L301.5 212.3" stroke="#33cc55" stroke-width="1.3" opacity="0.9"/><path d="M250.1 200.9 L251.5 201.7 L252.6 202.8 L253.6 204.1 L254.1 205.6 L255.2 206.7" stroke="#46e06a" stroke-width="0.6" opacity="0.9"/><path d="M257 199 L258.1 200.1 L258.9 201.5 L259.2 203.1 L259.6 204.7" stroke="#5cf07c" stroke-width="1.3" opacity="0.8"/><path d="M226.9 191 L228.5 191.2 L230.1 191.5 L231.6 191 L233.2 191" stroke="#5cf07c" stroke-width="0.9" opacity="0.7"/><path d="M252.1 202.1 L253.6 201.9 L255.2 202.2 L256.8 202.3" stroke="#33cc55" stroke-width="1.3" opacity="1"/><path d="M218.5 190.3 L220 190.9 L221.4 191.6" stroke="#5cf07c" stroke-width="0.8" opacity="0.8"/><path d="M229.4 195.1 L230.9 195.7 L232.5 196 L234 196.3 L235.6 195.8 L237.2 195.7" stroke="#5cf07c" stroke-width="1.4" opacity="0.8"/><path d="M250.9 192.4 L252.5 192.6 L254.1 192.8 L255.5 193.5" stroke="#5cf07c" stroke-width="1" opacity="0.7"/><path d="M260.9 206.5 L262.4 207 L264 206.8 L265.6 206.4 L267.1 206.8" stroke="#5cf07c" stroke-width="1" opacity="0.6"/><path d="M288.2 207.8 L289 209.2 L290 210.4 L291.4 211.2 L293 211.7 L294.4 212.3 L295.9 213" stroke="#46e06a" stroke-width="0.9" opacity="0.5"/><path d="M254.9 193.3 L256.3 194.1 L257.6 195.1 L259.1 195.3 L260.7 194.7" stroke="#33cc55" stroke-width="1.2" opacity="0.5"/><path d="M228.6 198 L230.2 198 L231.8 198.1 L233.3 198.4 L234.9 198.4" stroke="#33cc55" stroke-width="1.3" opacity="0.8"/><path d="M212.3 186.1 L213.8 186.6 L215.3 187.2" stroke="#46e06a" stroke-width="0.7" opacity="0.6"/><path d="M250.6 202.1 L252.2 202 L253.6 201.3 L255.2 201.3 L256.8 201.1 L258.4 201.4" stroke="#5cf07c" stroke-width="0.8" opacity="0.5"/><path d="M261.3 204.7 L262.7 205.6 L263.9 206.6" stroke="#46e06a" stroke-width="0.6" opacity="0.9"/><path d="M256.7 205.2 L258.3 205 L259.7 204.2 L261.3 204.2 L262.7 204.8" stroke="#5cf07c" stroke-width="0.6" opacity="0.9"/><path d="M243.8 195.3 L245.3 195.8 L246.9 195.5 L248.5 195.5 L250.1 195.7 L251.7 195.9" stroke="#5cf07c" stroke-width="0.8" opacity="0.9"/><path d="M246.7 200.9 L248.3 200.5 L249.6 199.6" stroke="#5cf07c" stroke-width="0.9" opacity="0.7"/><path d="M231.7 199 L233.1 199.6 L234.7 200 L236 200.9 L237.4 201.7" stroke="#5cf07c" stroke-width="0.8" opacity="0.6"/><path d="M221.8 185.7 L223.4 185.9 L224.9 186.5 L226.5 186.4" stroke="#5cf07c" stroke-width="1" opacity="0.9"/><path d="M253.9 198 L255.3 198.7 L256.8 199.1" stroke="#5cf07c" stroke-width="0.9" opacity="1"/><path d="M218.8 197.5 L220.4 197.7 L222 197.4" stroke="#33cc55" stroke-width="1.4" opacity="0.8"/><path d="M242.3 202.7 L243.8 203.1 L245.4 202.9 L247 203.3" stroke="#33cc55" stroke-width="1" opacity="0.8"/><path d="M225.1 196.3 L226.7 196.5 L228.3 196.4 L229.9 196.1 L231.3 195.3" stroke="#46e06a" stroke-width="1.2" opacity="0.6"/><path d="M216.8 196.3 L218.4 196.1 L220 196.2 L221.6 195.7 L223.1 195.5 L224.5 194.7 L225.7 193.6" stroke="#33cc55" stroke-width="0.9" opacity="0.7"/><path d="M283.1 203.8 L284.3 204.8 L285.1 206.3 L286.4 207.2 L287.8 207.9" stroke="#33cc55" stroke-width="1.2" opacity="0.9"/><path d="M200.4 190.5 L202 190.5 L203.4 191.3 L205 191.3 L206.6 191 L208.1 190.5 L209.7 190.3" stroke="#46e06a" stroke-width="1.2" opacity="0.5"/><path d="M201.9 183.5 L203.4 182.9 L204.5 181.8 L205.6 180.7" stroke="#33cc55" stroke-width="1.4" opacity="0.8"/><path d="M220.8 191.8 L222.3 192.4 L223.8 193.1 L224.9 194.2 L226.4 194.7 L227.7 195.6 L229 196.5" stroke="#46e06a" stroke-width="1.3" opacity="0.8"/><path d="M268.1 207.7 L269.7 208.1 L271 209" stroke="#5cf07c" stroke-width="1.2" opacity="0.5"/><path d="M268 199.8 L269.5 200.3 L271.1 200.3 L272.5 201.1 L273.9 201.8 L274.9 203.1" stroke="#33cc55" stroke-width="1" opacity="0.8"/><path d="M282.6 205.8 L284.1 205.7 L285.7 206 L287.1 206.7 L288.4 207.8" stroke="#5cf07c" stroke-width="1.2" opacity="0.5"/><path d="M268.8 205.5 L270.3 206 L271.8 206.6 L273.3 207.1 L274.9 207" stroke="#46e06a" stroke-width="0.7" opacity="0.7"/><path d="M207.2 190.9 L208.7 190.4 L210.2 189.9 L211.8 189.7 L213.1 188.7 L214.5 188.1" stroke="#46e06a" stroke-width="1.3" opacity="0.7"/><path d="M228.1 198.4 L229.5 197.7 L231.1 197.5 L232.7 197.3 L234.3 197.5" stroke="#46e06a" stroke-width="1.1" opacity="0.6"/><path d="M296.7 211.6 L298.3 212 L299.8 211.6" stroke="#5cf07c" stroke-width="0.8" opacity="0.5"/><path d="M226.2 188.8 L227.8 189 L229.4 189 L231 189.1" stroke="#5cf07c" stroke-width="0.8" opacity="0.8"/><path d="M202.4 187.7 L203.1 189.1 L204.1 190.4 L204.8 191.8 L205.9 193" stroke="#33cc55" stroke-width="1" opacity="0.7"/><path d="M217 191.6 L218.5 191.1 L220 190.7 L221.6 190.9 L223.2 191.1 L224.8 190.7 L226.2 189.9" stroke="#46e06a" stroke-width="1.2" opacity="0.5"/><path d="M237.7 190.4 L239.3 190.5 L240.8 191.1 L242.2 191.9 L243.8 191.9 L245.4 192.3 L247 192.3" stroke="#33cc55" stroke-width="0.9" opacity="0.6"/><path d="M281.2 201.5 L282.8 201.3 L284.3 201.7 L285.9 201.6 L287.3 200.8" stroke="#33cc55" stroke-width="1.2" opacity="1"/><path d="M298.8 206.1 L300.2 205.3 L301.8 204.9" stroke="#5cf07c" stroke-width="1.1" opacity="0.8"/><path d="M212.2 186.4 L213.6 185.8 L215.2 185.9 L216.7 186.4 L218.3 186.7" stroke="#46e06a" stroke-width="1.2" opacity="0.5"/><path d="M282.7 209 L284.2 209.6 L285.6 210.5 L286.9 211.4" stroke="#5cf07c" stroke-width="1.3" opacity="0.5"/><path d="M198.7 193.5 L200.2 192.9 L201.3 191.8 L202.8 191.1 L204.3 190.8 L205.9 190.5" stroke="#5cf07c" stroke-width="0.7" opacity="0.7"/><path d="M244.3 202.9 L244.9 204.4 L244.9 206 L244.9 207.6 L244.7 209.2 L245.5 210.6" stroke="#33cc55" stroke-width="0.9" opacity="0.8"/><path d="M254.9 197.6 L256.4 197 L258 197.2 L259.6 197.3 L261.2 197.7" stroke="#46e06a" stroke-width="0.8" opacity="0.9"/><path d="M267.7 196.4 L268.8 197.5 L270.2 198.3 L271.8 198.6 L273.4 198.9" stroke="#5cf07c" stroke-width="0.7" opacity="0.6"/><path d="M287.7 205.8 L289.1 205 L290 203.7 L291.2 202.6 L292.1 201.3 L293.2 200.1" stroke="#33cc55" stroke-width="1" opacity="0.8"/><path d="M268.2 204.5 L268.9 205.9 L269.5 207.4 L269.7 209 L270.7 210.3" stroke="#33cc55" stroke-width="1" opacity="0.9"/><path d="M274.3 197.3 L275.7 198.1 L276.7 199.3 L277.8 200.5 L279.2 201.2 L280 202.6" stroke="#33cc55" stroke-width="1" opacity="0.5"/><path d="M235.5 196.3 L237 195.8 L238.6 195.6" stroke="#46e06a" stroke-width="1" opacity="0.6"/><path d="M211.5 195.4 L212.8 194.5 L213.7 193.1 L215 192.2 L216.2 191.1 L217.3 190 L218.8 189.4" stroke="#33cc55" stroke-width="1.1" opacity="0.9"/><path d="M210.2 188 L211.4 189.1 L212.9 189.5 L214.4 190.1 L216 190.2 L217.6 190.5 L218.9 191.4" stroke="#46e06a" stroke-width="0.6" opacity="1"/><path d="M222.3 190.1 L223.3 191.4 L224.4 192.6" stroke="#46e06a" stroke-width="1" opacity="0.5"/><path d="M223.9 187.7 L224.8 189 L225.3 190.6 L225.8 192.1 L226.8 193.3 L227.1 194.9" stroke="#5cf07c" stroke-width="1.4" opacity="0.5"/><path d="M232.4 189.4 L233.8 190.2 L235.4 190.2 L237 189.7 L238.5 189.9 L240.1 190.4" stroke="#5cf07c" stroke-width="1.3" opacity="1"/><path d="M267.8 200.5 L269.4 200.3 L270.9 199.8 L272.5 199.4 L273.9 198.7 L275.1 197.7 L276.5 196.9" stroke="#46e06a" stroke-width="0.7" opacity="0.7"/><path d="M245.1 197.7 L246.5 197 L248.1 196.6 L249.6 196.1" stroke="#46e06a" stroke-width="0.8" opacity="0.9"/><path d="M259.3 201.3 L260.8 201.9 L262.4 201.9" stroke="#5cf07c" stroke-width="0.9" opacity="0.8"/><path d="M256.9 194.2 L257.9 195.4 L259.4 196 L261 196.2 L262.5 196.4 L264.1 196.8 L265.7 196.7" stroke="#5cf07c" stroke-width="1.2" opacity="0.6"/><path d="M278.3 198.5 L279.7 197.6 L280.9 196.7 L282.5 196.2 L283.8 195.4 L285.4 195.2 L287 195.2" stroke="#5cf07c" stroke-width="0.6" opacity="0.7"/><path d="M230.5 200.3 L232.1 200.2 L233.6 199.8 L235.1 199.2" stroke="#46e06a" stroke-width="0.8" opacity="0.9"/><path d="M265.6 199.5 L267.1 200.2 L268.5 200.9 L270.1 201 L271.6 201.4 L273.2 201.4" stroke="#33cc55" stroke-width="1" opacity="1"/><path d="M232.2 199.8 L233.8 199.8 L235.4 200" stroke="#5cf07c" stroke-width="0.9" opacity="0.9"/><path d="M241.1 200.8 L242.7 200.8 L244.2 200.3 L245.6 199.4 L246.4 198.1" stroke="#46e06a" stroke-width="1.1" opacity="0.6"/><path d="M199.9 181.5 L201.4 181.4 L203 181.3 L204.5 180.7 L205.9 179.9 L207 178.7 L207.9 177.4" stroke="#46e06a" stroke-width="0.7" opacity="0.9"/><path d="M286.3 202.8 L287.8 202.3 L289.4 202.5" stroke="#33cc55" stroke-width="0.9" opacity="0.5"/></g>
<g fill="#062a10" opacity="0.75"><circle cx="230.3" cy="200.8" r="0.5"/><circle cx="246.9" cy="200.2" r="1"/><circle cx="215.5" cy="197.7" r="1"/><circle cx="206.6" cy="192.2" r="1"/><circle cx="297.6" cy="207.2" r="1.1"/><circle cx="286" cy="199.2" r="0.7"/><circle cx="263.9" cy="199.1" r="0.7"/><circle cx="269.6" cy="208.1" r="0.6"/><circle cx="199.7" cy="184.7" r="0.8"/><circle cx="282.7" cy="203.6" r="0.7"/><circle cx="232.6" cy="198.4" r="1"/><circle cx="213.3" cy="199.1" r="0.8"/><circle cx="221.1" cy="195.2" r="1"/><circle cx="246.1" cy="191.3" r="0.9"/><circle cx="263.6" cy="202.6" r="0.9"/><circle cx="254.3" cy="197.9" r="0.8"/><circle cx="225.5" cy="190.5" r="0.8"/><circle cx="207.9" cy="195.4" r="1.1"/><circle cx="213" cy="193.7" r="0.7"/><circle cx="296.7" cy="215.1" r="0.9"/><circle cx="210.2" cy="191.8" r="0.6"/><circle cx="276.3" cy="200.8" r="0.9"/><circle cx="272.3" cy="209.7" r="1"/><circle cx="284.2" cy="210.2" r="0.8"/><circle cx="233.3" cy="199" r="0.8"/><circle cx="284.7" cy="201.8" r="1"/><circle cx="288.8" cy="205.2" r="0.6"/><circle cx="277.6" cy="197.5" r="0.9"/><circle cx="199.4" cy="193.7" r="1"/><circle cx="265.9" cy="200.1" r="0.6"/><circle cx="235.8" cy="202.5" r="0.7"/><circle cx="264.2" cy="207.4" r="0.5"/><circle cx="199.9" cy="192.3" r="0.6"/><circle cx="233.6" cy="193.2" r="0.8"/><circle cx="226" cy="200.1" r="0.8"/><circle cx="296.9" cy="212.9" r="0.8"/><circle cx="292.1" cy="211.6" r="1.1"/><circle cx="211.6" cy="188.5" r="0.6"/><circle cx="198.2" cy="194.4" r="0.6"/><circle cx="230.1" cy="196.8" r="1.1"/><circle cx="219.2" cy="186.2" r="1"/><circle cx="283.8" cy="209.5" r="0.5"/><circle cx="276" cy="203.4" r="0.8"/><circle cx="211.9" cy="198.1" r="0.9"/><circle cx="279.1" cy="199.7" r="1"/><circle cx="211.3" cy="188.4" r="0.8"/><circle cx="233.3" cy="199.6" r="0.8"/><circle cx="237.9" cy="195.4" r="0.9"/><circle cx="265" cy="200.6" r="0.7"/><circle cx="288.2" cy="208.1" r="0.6"/><circle cx="261.2" cy="194.1" r="0.6"/><circle cx="257.9" cy="201.9" r="0.9"/><circle cx="271.4" cy="196.6" r="1"/><circle cx="204.3" cy="184.1" r="1.1"/><circle cx="295.9" cy="208.7" r="0.5"/><circle cx="220.4" cy="193.9" r="0.9"/><circle cx="252.9" cy="207.2" r="0.8"/><circle cx="282.6" cy="212.6" r="0.5"/><circle cx="295.8" cy="213.7" r="1.1"/><circle cx="220.4" cy="186.8" r="0.9"/><circle cx="199.4" cy="185.5" r="1.1"/><circle cx="217.7" cy="185.9" r="1"/><circle cx="294" cy="204.4" r="0.7"/><circle cx="202" cy="188.9" r="0.7"/><circle cx="231.2" cy="194" r="1.1"/><circle cx="273.1" cy="200.3" r="0.8"/><circle cx="252.4" cy="197.9" r="0.6"/><circle cx="274.7" cy="209.8" r="1"/><circle cx="288.5" cy="208.9" r="0.6"/><circle cx="248.4" cy="206.2" r="0.9"/><circle cx="271.6" cy="210.9" r="1"/><circle cx="264.8" cy="195.9" r="0.9"/><circle cx="201.2" cy="192.7" r="0.7"/><circle cx="254.2" cy="202.8" r="0.8"/><circle cx="265.3" cy="201.5" r="0.8"/><circle cx="245.6" cy="200.5" r="0.8"/><circle cx="232.4" cy="196.3" r="0.7"/><circle cx="281.1" cy="209.8" r="1"/><circle cx="233.7" cy="189.3" r="1.1"/><circle cx="224.7" cy="196.5" r="1"/><circle cx="205.1" cy="194.7" r="0.9"/><circle cx="291.1" cy="211.4" r="0.7"/><circle cx="282.8" cy="211.1" r="0.7"/><circle cx="257.4" cy="201.7" r="1.1"/><circle cx="204.5" cy="193.9" r="0.7"/><circle cx="218.5" cy="187.9" r="0.7"/><circle cx="265.9" cy="197.1" r="0.9"/><circle cx="215.8" cy="199.1" r="1"/><circle cx="263.7" cy="208.1" r="0.7"/><circle cx="234.4" cy="201.5" r="0.8"/></g>
<g fill="#22228a" opacity="0.7"><circle cx="219.6" cy="156.5" r="0.7"/><circle cx="213.6" cy="154.3" r="0.8"/><circle cx="205.3" cy="154.2" r="0.6"/><circle cx="203.8" cy="142.2" r="0.6"/><circle cx="249.3" cy="158" r="0.6"/><circle cx="233.8" cy="117.7" r="0.6"/><circle cx="230" cy="154.1" r="0.8"/><circle cx="234.6" cy="162" r="0.6"/><circle cx="238.9" cy="117.4" r="0.6"/><circle cx="243.5" cy="134.4" r="0.8"/><circle cx="286.7" cy="131.6" r="0.6"/><circle cx="223.3" cy="146.6" r="0.7"/><circle cx="177.1" cy="124.5" r="1"/><circle cx="203.8" cy="160.8" r="1"/><circle cx="260.3" cy="138.3" r="0.5"/><circle cx="265" cy="171.4" r="0.7"/><circle cx="245.7" cy="131.6" r="0.6"/><circle cx="277.8" cy="124.5" r="0.8"/><circle cx="294.7" cy="164.8" r="0.8"/><circle cx="173.7" cy="128.6" r="0.9"/><circle cx="175.9" cy="142.1" r="0.7"/><circle cx="220.2" cy="169.5" r="0.8"/><circle cx="270.1" cy="123.3" r="0.8"/><circle cx="289.1" cy="156.4" r="0.7"/><circle cx="297" cy="127.1" r="0.5"/><circle cx="217.9" cy="124.9" r="0.9"/><circle cx="166.6" cy="130.3" r="0.6"/><circle cx="237" cy="168.9" r="0.6"/><circle cx="209" cy="138.9" r="0.7"/><circle cx="177.2" cy="164.6" r="0.8"/><circle cx="167.4" cy="145" r="0.9"/><circle cx="193.9" cy="142.6" r="0.9"/><circle cx="191.8" cy="136" r="0.9"/><circle cx="238.2" cy="159" r="0.9"/><circle cx="183.9" cy="140" r="0.5"/><circle cx="248.2" cy="135.2" r="0.6"/><circle cx="295.3" cy="127.7" r="0.8"/><circle cx="234.1" cy="122.1" r="0.7"/><circle cx="253.2" cy="134" r="0.7"/><circle cx="282.6" cy="155.3" r="0.7"/><circle cx="198.2" cy="138.5" r="0.7"/><circle cx="236.7" cy="134.3" r="0.6"/><circle cx="192.8" cy="153.7" r="1"/><circle cx="252.2" cy="156.9" r="0.6"/><circle cx="288.5" cy="136.4" r="0.7"/></g>
<line x1="188.9" y1="118.5" x2="188.9" y2="177.4" stroke="#fff" stroke-width="2" stroke-dasharray="3.6 3.5"/>
<line x1="196.6" y1="116" x2="196.6" y2="176.2" stroke="#fff" stroke-width="2" stroke-dasharray="3.6 3.7"/>
<text x="171" y="131.9" font-size="10.5" fill="#fff" font-weight="700" >4w</text>
<path d="M167.4 208.3 l3.0 2.8 M167.4 208.3 l2.7 0.3 M167.4 208.3 l0.3 2.7" stroke="#fff" stroke-width="1.35" fill="none" stroke-linecap="round"/>
<path d="M172.1 205.3 l3.0 2.8 M172.1 205.3 l2.7 0.3 M172.1 205.3 l0.3 2.7" stroke="#fff" stroke-width="1.35" fill="none" stroke-linecap="round"/>
<path d="M179 206.9 l3.0 2.8 M179 206.9 l2.7 0.3 M179 206.9 l0.3 2.7" stroke="#fff" stroke-width="1.35" fill="none" stroke-linecap="round"/>
<path d="M191.3 192.5 l3.0 2.8 M191.3 192.5 l2.7 0.3 M191.3 192.5 l0.3 2.7" stroke="#fff" stroke-width="1.35" fill="none" stroke-linecap="round"/>
<path d="M196 186 l3.0 2.8 M196 186 l2.7 0.3 M196 186 l0.3 2.7" stroke="#fff" stroke-width="1.35" fill="none" stroke-linecap="round"/>
<path d="M196.4 190.7 l3.0 2.8 M196.4 190.7 l2.7 0.3 M196.4 190.7 l0.3 2.7" stroke="#fff" stroke-width="1.35" fill="none" stroke-linecap="round"/>
<path d="M204.6 187.4 l3.0 2.8 M204.6 187.4 l2.7 0.3 M204.6 187.4 l0.3 2.7" stroke="#fff" stroke-width="1.35" fill="none" stroke-linecap="round"/>
<path d="M211.1 180.9 l3.0 2.8 M211.1 180.9 l2.7 0.3 M211.1 180.9 l0.3 2.7" stroke="#fff" stroke-width="1.35" fill="none" stroke-linecap="round"/>
<path d="M215 206.9 l3.0 2.8 M215 206.9 l2.7 0.3 M215 206.9 l0.3 2.7" stroke="#fff" stroke-width="1.35" fill="none" stroke-linecap="round"/>
<path d="M222.4 201.4 l3.0 2.8 M222.4 201.4 l2.7 0.3 M222.4 201.4 l0.3 2.7" stroke="#fff" stroke-width="1.35" fill="none" stroke-linecap="round"/>
<path d="M227.8 183.7 l3.0 2.8 M227.8 183.7 l2.7 0.3 M227.8 183.7 l0.3 2.7" stroke="#fff" stroke-width="1.35" fill="none" stroke-linecap="round"/>
<path d="M254.5 187.9 l3.0 2.8 M254.5 187.9 l2.7 0.3 M254.5 187.9 l0.3 2.7" stroke="#fff" stroke-width="1.35" fill="none" stroke-linecap="round"/>
<path d="M263.1 189.1 l3.0 2.8 M263.1 189.1 l2.7 0.3 M263.1 189.1 l0.3 2.7" stroke="#fff" stroke-width="1.35" fill="none" stroke-linecap="round"/>
<path d="M274.7 193.2 l3.0 2.8 M274.7 193.2 l2.7 0.3 M274.7 193.2 l0.3 2.7" stroke="#fff" stroke-width="1.35" fill="none" stroke-linecap="round"/>
<path d="M286.3 187.4 l3.0 2.8 M286.3 187.4 l2.7 0.3 M286.3 187.4 l0.3 2.7" stroke="#fff" stroke-width="1.35" fill="none" stroke-linecap="round"/>
<path d="M293.5 212.3 l3.0 2.8 M293.5 212.3 l2.7 0.3 M293.5 212.3 l0.3 2.7" stroke="#fff" stroke-width="1.35" fill="none" stroke-linecap="round"/>
<text x="183.3" y="245.4" font-size="12.6" fill="#0c8f45" font-weight="700" font-style="italic" textLength="90.6" lengthAdjust="spacingAndGlyphs" >pUX-GCaMP6s</text>
</g>
<g clip-path="url(#cf2)">
<rect x="165" y="251" width="134" height="134.5" fill="#03050c" />
<g filter="url(#b2)">
<path d="M164.9 309 L189.5 306 L209.2 301.1 L231.3 288.8 L253.4 284.4 L275.5 284.9 L300.1 293 L300.1 317.6 L275.5 305.3 L253.4 301.1 L233.7 302.8 L209.2 313.4 L189.5 315.9 L164.9 315.4 Z" fill="#181858" opacity="0.85"/>
<path d="M164.9 325 L196.9 331.6 L233.7 340.9 L265.7 353.2 L287.8 361.8 L300.1 365.5 L300.1 380.3 L278 379 L258.3 369.9 L233.7 359.4 L196.9 348.3 L164.9 340.9 Z" fill="#171754" opacity="0.85"/>
<path d="M164.9 254.9 L209.2 254.9 L189.5 281.9 L164.9 294.2 Z" fill="#0c0c3a" opacity="0.6"/>
</g>
<g filter="url(#b4)">
<path d="M184.6 254.9 L300.1 254.9 L300.1 296.7 L233.7 286.9 L196.9 299.2 Z" fill="#0c4a1c" opacity="0.2"/>
<path d="M169.8 348.3 L300.1 377.8 L300.1 387.6 L169.8 387.6 Z" fill="#0c4a1c" opacity="0.18"/>
</g>
<g filter="url(#b2)">
<path d="M164.9 318.3 L187 313.9 L209.2 310.9 L238.6 309 L270.6 314.4 L300.1 325 L300.1 358.1 L270.6 348.3 L241.1 339 L209.2 331.6 L187 329.1 L164.9 326.7 Z" fill="#0f5a22" opacity="0.38"/>
</g>
<g filter="url(#b1)">
<path d="M177.2 320 L204.2 314.4 L223.9 316.4 L209.2 322.5 L189.5 323.7 Z" fill="#2ab84c" opacity="0.5"/>
</g>
<g fill="none" stroke-linecap="round"><path d="M237.1 293.6 L237.8 291.8 L238.7 290 L239.1 288 L239.6 286.1 L240.3 284.2 L241.4 282.6 L241.9 280.6 L242.2 278.6 L242 276.7 L242.4 274.7 L243.2 272.8 L243.3 270.9 L244.2 269.1 L245.6 267.6 L247 266.3" stroke="#46e06a" stroke-width="0.9" opacity="0.7"/><path d="M279 288.6 L278.3 286.7 L278 284.7 L277.4 282.9 L276.8 280.9 L275.8 279.2 L274.5 277.7 L273.1 276.3 L271.3 275.3 L269.4 274.7 L267.8 273.6 L266.2 272.3 L264.7 270.9 L264 269.1 L262.7 267.6 L261.2 266.2 L260.1 264.5 L259.2 262.8 L257.7 261.4 L256.4 259.9 L254.8 258.7 L253 257.8 L251.2 257" stroke="#1f9a3c" stroke-width="1.1" opacity="0.8"/><path d="M187.1 300.7 L188.4 299.1 L189.5 297.5 L189.9 295.5 L190.6 293.6 L191.7 291.9 L192.3 290.1 L192.5 288.1 L192.5 286.1 L193.2 284.2 L194.3 282.6 L194.9 280.6 L195.1 278.6 L194.8 276.6 L194.1 274.8 L194.2 272.8" stroke="#28b548" stroke-width="0.9" opacity="0.5"/><path d="M243.3 296.1 L243.6 294.1 L243.8 292.1 L244.8 290.4 L244.9 288.4 L245.6 286.5 L246.9 284.9 L248.1 283.4 L249.7 282.2 L250.6 280.4 L251 278.4 L252 276.7 L253.1 275 L254.2 273.3 L254.5 271.4" stroke="#28b548" stroke-width="0.6" opacity="0.5"/><path d="M272.5 289.4 L271.6 287.7 L270.9 285.8 L269.9 284 L269.2 282.2 L268.3 280.4 L267.5 278.5 L267.5 276.5 L267.3 274.5" stroke="#46e06a" stroke-width="0.6" opacity="0.6"/><path d="M256.4 287.5 L256.2 285.5 L255.5 283.6 L255 281.7 L254.6 279.7 L254.5 277.7 L254.1 275.8 L253.7 273.8 L252.7 272.1 L251.2 270.7 L249.6 269.6 L248.1 268.2 L246.6 266.9 L245.5 265.2 L244.4 263.6 L243.3 261.9 L242.9 259.9 L242.4 258" stroke="#46e06a" stroke-width="0.6" opacity="0.8"/><path d="M194.6 300.3 L194.9 298.3 L194.8 296.3 L195.4 294.4 L195.4 292.4 L194.8 290.5 L194 288.7 L193.3 286.8 L192.2 285.2 L190.9 283.6 L189.7 282 L188.8 280.2 L187.7 278.6 L186.6 276.9 L186.2 274.9 L186.7 273 L187.3 271.1 L188 269.2 L188.8 267.4 L188.9 265.4 L188.3 263.5 L187.3 261.8 L187 259.8" stroke="#1d8436" stroke-width="0.7" opacity="0.4"/><path d="M253.2 285.4 L252 283.8 L250.4 282.6 L248.9 281.2 L247.4 279.9 L245.7 279 L244.5 277.3 L243.7 275.5 L242.5 273.9 L241.9 272 L241.1 270.2 L239.8 268.7 L238.6 267.1" stroke="#1f9a3c" stroke-width="1" opacity="0.6"/><path d="M274.5 295.2 L274.4 293.2 L274.5 291.2 L274.8 289.2 L274.5 287.2 L274.4 285.2 L275.1 283.4 L276.1 281.7 L277.3 280 L278.1 278.2 L279.2 276.5 L280.1 274.7 L280.8 272.9 L281.9 271.2 L282.2 269.2 L282.8 267.3 L282.7 265.3 L282.7 263.3 L282.8 261.3" stroke="#28b548" stroke-width="1.1" opacity="0.5"/><path d="M273.3 292.9 L273.1 290.9 L272.4 289 L272 287.1 L271.7 285.1 L271.8 283.1 L271.7 281.1 L272.2 279.2 L272.6 277.2 L272.5 275.2 L272.4 273.2 L271.8 271.3 L271.6 269.3 L271.9 267.3 L272.4 265.4 L272.5 263.4 L272 261.4 L271.3 259.5 L271.3 257.5 L270.9 255.6 L270.1 253.8 L269.2 252 L269.1 250" stroke="#1f9a3c" stroke-width="0.9" opacity="0.9"/><path d="M217.6 295.8 L217.1 293.8 L216.6 291.9 L216.3 289.9 L216.1 287.9 L215.6 286 L215.7 284 L216.4 282.1 L217 280.2 L216.7 278.2 L215.9 276.4 L215.7 274.4 L214.9 272.6" stroke="#1d8436" stroke-width="0.7" opacity="0.6"/><path d="M258.8 290 L258.6 288 L258.9 286 L258.9 284 L259.3 282 L260.1 280.2 L261.3 278.6 L261.9 276.7 L261.9 274.7 L262 272.7 L262.3 270.8 L262.4 268.8 L262 266.8 L261.2 265 L261.1 263" stroke="#33cc55" stroke-width="0.6" opacity="0.4"/><path d="M239.3 294.5 L238.5 292.7 L238 290.7 L237.6 288.8 L237.2 286.8 L237.2 284.8 L237 282.8 L237 280.8 L237.6 278.9 L237.3 276.9 L237.6 274.9 L238 273 L237.7 271" stroke="#2aa845" stroke-width="0.6" opacity="0.8"/><path d="M187.8 304 L188.5 302.1 L188.9 300.1 L189 298.1 L189.9 296.3 L190 294.3 L190.7 292.5 L191.8 290.7 L193.1 289.3 L193.8 287.4 L194.1 285.4 L194.2 283.4 L193.7 281.5 L193.2 279.6 L193.5 277.6 L194.3 275.8 L194.7 273.8" stroke="#1d8436" stroke-width="1" opacity="0.6"/><path d="M196.2 302.3 L196.3 300.3 L195.7 298.4 L195.6 296.4 L195 294.5 L195 292.5 L194.5 290.5 L193.9 288.6 L193.8 286.6 L193.3 284.7 L192.4 282.9 L191.7 281 L191.5 279 L191.8 277.1 L192.4 275.1 L193.4 273.4 L194.3 271.6 L195.6 270.1 L196.1 268.2 L196.1 266.2 L196.2 264.2" stroke="#33cc55" stroke-width="1" opacity="0.7"/><path d="M205.2 301.8 L206.2 300.1 L207.6 298.7 L209.2 297.5 L210.8 296.3 L212.1 294.8 L212.8 292.9 L213.5 291.1 L214 289.1 L214.5 287.2 L214.9 285.2 L214.8 283.2" stroke="#1f9a3c" stroke-width="0.9" opacity="0.4"/><path d="M294.2 297.8 L294.2 295.8 L294 293.8 L294.2 291.8 L293.6 289.9 L293.2 288 L292.7 286 L293 284 L293.7 282.2 L293.9 280.2 L294.1 278.2 L293.6 276.2 L293.1 274.3 L293.1 272.3 L293.6 270.4 L294 268.4 L294 266.4 L293.5 264.5 L293.2 262.5 L293.6 260.5 L293.3 258.5 L293.5 256.6" stroke="#1f9a3c" stroke-width="0.5" opacity="0.5"/><path d="M188.3 301.3 L188.7 299.4 L189.1 297.4 L189.7 295.5 L190.6 293.7 L191.6 292 L192.8 290.4 L194.1 288.8 L195.6 287.5 L196.3 285.7 L197.2 283.8 L198.3 282.2" stroke="#46e06a" stroke-width="0.6" opacity="0.5"/><path d="M256.9 290.7 L257.1 288.7 L257.7 286.8 L257.9 284.8 L258.4 282.9 L259.3 281.1 L260.5 279.5 L261.2 277.6 L261.6 275.7 L262.4 273.9 L262.8 271.9 L263.7 270.1 L265 268.6 L265.5 266.7 L265.6 264.7 L266 262.7 L266 260.7 L265.5 258.8 L265.5 256.8 L265.4 254.8 L265.8 252.8 L265.6 250.8 L265.2 248.9" stroke="#1d8436" stroke-width="1" opacity="0.4"/><path d="M250.1 288.6 L250.9 286.7 L251.9 285 L252.6 283.1 L253.8 281.6 L255.3 280.3 L257 279.1 L258.4 277.7 L259.1 275.9 L260.2 274.2 L261.2 272.5 L262.7 271.1 L264 269.5 L264.7 267.7" stroke="#1f9a3c" stroke-width="0.6" opacity="0.8"/><path d="M296.6 302.5 L296.5 300.5 L296.2 298.6 L296.2 296.6 L295.9 294.6 L295.4 292.7 L294.9 290.7 L294.2 288.8 L293.7 286.9" stroke="#1f9a3c" stroke-width="0.9" opacity="0.4"/><path d="M209.2 300.1 L209.5 298.1 L209.9 296.1 L209.6 294.2 L209.7 292.2 L209.5 290.2 L208.7 288.3 L208.5 286.4 L208.8 284.4 L209.6 282.5 L210.7 280.9 L211.7 279.1 L212 277.2 L212.3 275.2" stroke="#33cc55" stroke-width="1" opacity="0.5"/><path d="M287.8 298.1 L288.2 296.1 L289.1 294.3 L290.4 292.8 L291.8 291.4 L293.3 290 L294.9 288.8 L296.2 287.3 L297.6 285.9 L298.3 284 L298.8 282.1 L299.2 280.1 L298.9 278.2 L298.6 276.2 L298.7 274.2 L299 272.2 L298.9 270.2 L299.6 268.3 L300.5 266.5 L301.1 264.6 L301.9 262.8 L302.7 261" stroke="#46e06a" stroke-width="0.5" opacity="0.7"/><path d="M242.1 288.8 L241.5 286.9 L240.4 285.2 L239 283.8 L237.4 282.6 L235.9 281.3 L234.6 279.8 L233.7 278 L233 276.1 L231.7 274.6 L230.3 273.2 L228.8 271.9 L227.2 270.6 L225.9 269.1 L224.6 267.6" stroke="#46e06a" stroke-width="0.8" opacity="0.9"/><path d="M257.6 292.4 L257.2 290.4 L256.1 288.7 L255.7 286.8 L254.8 285 L253.8 283.2 L252.5 281.7 L251.3 280.1 L250.3 278.4 L248.9 277 L248.1 275.1 L247.3 273.3 L246.4 271.5 L245.8 269.6 L244.9 267.8 L243.8 266.2 L243 264.3 L242.2 262.5" stroke="#33cc55" stroke-width="0.9" opacity="0.8"/><path d="M190 306 L190 304 L190.3 302 L190 300.1 L189.5 298.1 L188.9 296.2 L188.7 294.2 L188.8 292.2 L188.7 290.2 L189 288.3 L188.9 286.3 L189.2 284.3 L189.1 282.3 L189.4 280.3 L189.1 278.4 L188.2 276.5 L188 274.5 L188.5 272.6 L188.4 270.6" stroke="#28b548" stroke-width="0.9" opacity="0.5"/><path d="M256.1 288.9 L255.6 287 L254.6 285.3 L253.6 283.5 L252.9 281.6 L252.2 279.8 L251.3 278 L250.5 276.2 L249.6 274.4" stroke="#1d8436" stroke-width="0.8" opacity="0.9"/><path d="M292.4 299.4 L292.5 297.4 L292.9 295.5 L293.3 293.5 L293.3 291.5 L292.9 289.5 L292.7 287.5 L292.6 285.5 L292.6 283.5 L292.6 281.5" stroke="#28b548" stroke-width="0.6" opacity="0.5"/><path d="M295.4 302.1 L295.4 300.1 L295.3 298.1 L295.2 296.1 L295.4 294.1 L295.2 292.1 L295.2 290.1 L294.7 288.2 L293.9 286.4" stroke="#1d8436" stroke-width="0.6" opacity="0.5"/><path d="M295.6 297.9 L295.3 295.9 L294.5 294.1 L294.4 292.1 L294.6 290.1 L294.7 288.1 L295.2 286.2 L296 284.3 L296.9 282.6 L297.6 280.7 L298.4 278.8 L298.8 276.9 L298.6 274.9 L297.9 273" stroke="#46e06a" stroke-width="0.7" opacity="0.7"/></g>
<g fill="none" stroke-linecap="round"><path d="M264.6 369.6 L265.2 371.4 L265.2 373.4 L265.9 375.3 L267 377 L267.8 378.9 L268.5 380.7 L268.8 382.7 L269.4 384.6 L269.4 386.6 L270.1 388.5 L271.1 390.3" stroke="#1d8436" stroke-width="0.7" opacity="0.5"/><path d="M231.8 360.2 L232.5 362.1 L232.8 364.1 L233.3 366 L233.3 368 L233.5 370 L233.8 372 L234 374 L233.6 375.9 L233.1 377.8 L233 379.8 L233 381.8 L232.3 383.7 L231.8 385.7 L231.9 387.7 L231.4 389.6 L230.7 391.5 L230.1 393.4 L230.3 395.4 L230.1 397.4" stroke="#1f9a3c" stroke-width="0.6" opacity="0.4"/><path d="M217.9 352.5 L217.7 354.5 L217.1 356.4 L216.5 358.3 L216.5 360.3 L216.1 362.3 L215.2 364.1 L214.8 366.1 L215.1 368 L215.3 370 L215.4 372 L215.4 374 L214.7 375.9 L213.9 377.7 L212.8 379.4 L212.6 381.4 L212.3 383.4 L211.6 385.3" stroke="#1f9a3c" stroke-width="0.6" opacity="0.3"/><path d="M181.1 344.2 L182.3 345.8 L182.9 347.7 L183.7 349.6 L184.1 351.5 L184.6 353.5 L184.6 355.5 L184.9 357.4 L185.4 359.4 L186.1 361.3 L186.3 363.2 L186.9 365.2 L188 366.9 L189 368.6 L189.5 370.5 L190.6 372.2" stroke="#46e06a" stroke-width="0.8" opacity="0.4"/><path d="M275 370.3 L274.1 372.1 L272.7 373.6 L271.1 374.7 L269.5 375.9 L268.1 377.3 L266.6 378.7 L265 379.9 L263.6 381.3 L262.5 383 L262 384.9 L261.2 386.7 L259.8 388.2 L258.7 389.9 L258.2 391.8 L258.1 393.8 L258.1 395.8 L258.2 397.8 L257.6 399.7" stroke="#1f9a3c" stroke-width="0.6" opacity="0.5"/><path d="M206.9 349.5 L206 351.3 L205.8 353.3 L205.6 355.3 L204.8 357.1 L204.4 359.1 L204.4 361.1 L204.4 363.1 L204.2 365.1 L203.8 367 L203.4 369 L203 370.9 L202.6 372.9 L201.6 374.6 L200.8 376.5 L199.6 378.1 L198 379.3 L196.5 380.6 L194.7 381.5 L193.1 382.7" stroke="#33cc55" stroke-width="0.6" opacity="0.4"/><path d="M291.9 374.5 L291 376.3 L290.3 378.2 L290.2 380.1 L290.4 382.1 L290.2 384.1 L289.2 385.9 L288 387.5" stroke="#33cc55" stroke-width="0.8" opacity="0.3"/><path d="M287.8 375.1 L287.3 377.1 L287.2 379.1 L287.1 381.1 L286.5 383 L285.9 384.9 L285 386.7 L284.7 388.7 L283.7 390.4 L282.5 392 L281.9 393.9 L281 395.7 L280 397.4 L279.1 399.2 L278.8 401.2 L278.4 403.1 L278.5 405.1 L278.8 407.1 L278.4 409.1 L278.5 411.1" stroke="#28b548" stroke-width="0.4" opacity="0.3"/><path d="M260.7 362.5 L260.1 364.4 L259.5 366.3 L258.5 368.1 L258 370 L257.2 371.8 L256.7 373.8 L255.7 375.5 L255.5 377.5 L254.8 379.4 L254.7 381.4 L254.6 383.4 L254.5 385.4 L254.9 387.4" stroke="#33cc55" stroke-width="0.5" opacity="0.4"/><path d="M239.8 363.9 L240.2 365.9 L241 367.8 L241.3 369.7 L241.3 371.7 L240.8 373.7 L240.1 375.5 L239.9 377.5" stroke="#2aa845" stroke-width="0.4" opacity="0.4"/><path d="M259.9 363.3 L260.5 365.3 L260.2 367.2 L259.6 369.1 L259.5 371.1 L259.2 373.1 L259.3 375.1 L259.5 377.1 L259.6 379.1 L260 381.1 L260.4 383 L261 384.9 L261.1 386.9" stroke="#33cc55" stroke-width="0.5" opacity="0.4"/><path d="M181.6 344.3 L181.8 346.3 L182 348.3 L182.4 350.3 L183.3 352 L184 353.9 L185.1 355.6 L185.8 357.5 L186.9 359.1 L188.2 360.7 L189.8 361.9 L191.3 363.2 L192.3 365 L193.6 366.4" stroke="#1f9a3c" stroke-width="0.5" opacity="0.3"/><path d="M220.4 352.3 L219.8 354.2 L219 356 L217.9 357.7 L216.5 359.1 L215.4 360.8 L214.6 362.7 L214 364.6 L214.1 366.6 L214.2 368.6 L213.9 370.5 L212.8 372.2 L211.5 373.8" stroke="#1d8436" stroke-width="0.8" opacity="0.4"/><path d="M201.3 348.4 L201.5 350.3 L202.1 352.2 L202.9 354.1 L203.9 355.9 L205.2 357.4 L206 359.2 L207.1 360.9 L207.9 362.7 L208.9 364.4 L210.1 366 L211 367.8 L211.8 369.7" stroke="#46e06a" stroke-width="0.7" opacity="0.6"/><path d="M234.6 360.6 L233.5 362.3 L232.4 363.9 L231.9 365.8 L231.9 367.8 L232.2 369.8 L232.2 371.8 L231.9 373.8 L231.7 375.8 L231 377.6" stroke="#33cc55" stroke-width="0.5" opacity="0.6"/><path d="M226.3 358.6 L226.6 360.6 L227.5 362.3 L227.7 364.3 L228.4 366.2 L228.7 368.2 L228.5 370.2 L228.6 372.2 L229.3 374 L229.2 376 L230 377.9 L230.4 379.8 L231 381.8 L231.2 383.7 L231.6 385.7" stroke="#28b548" stroke-width="0.5" opacity="0.4"/><path d="M177.3 341.2 L177.1 343.2 L176.8 345.2 L177 347.2 L176.9 349.2 L176.6 351.1 L176.7 353.1 L176.6 355.1 L176.3 357.1 L176.8 359 L177.7 360.8 L178.5 362.7 L179.7 364.2 L180.9 365.8 L181.9 367.6 L183.2 369.1 L184.3 370.8 L185.5 372.4 L186.6 374.1 L187.7 375.7 L188.5 377.5" stroke="#1f9a3c" stroke-width="0.7" opacity="0.5"/><path d="M219.9 355.3 L219.9 357.3 L219.4 359.2 L219 361.2 L218.9 363.2 L219.3 365.1 L219.2 367.1 L219.2 369.1 L218.8 371.1 L218.3 373 L217.5 374.9 L217.6 376.9" stroke="#1f9a3c" stroke-width="0.8" opacity="0.4"/><path d="M235.8 358.8 L235.8 360.8 L235.5 362.7 L234.5 364.5 L233.3 366.1 L232.2 367.7 L230.8 369.2 L229.9 371 L228.9 372.7 L228.5 374.7 L228.7 376.7" stroke="#2aa845" stroke-width="0.5" opacity="0.6"/><path d="M294.1 373.7 L294.5 375.6 L294.8 377.6 L294.5 379.5 L293.8 381.4 L292.7 383.1 L291.7 384.8 L290.4 386.4 L289.7 388.2 L289.1 390.1 L288.7 392.1 L288.9 394.1 L289 396.1 L289.3 398 L290.2 399.9 L291.5 401.4 L292.6 403 L294.1 404.4 L294.9 406.2 L295.6 408.1" stroke="#2aa845" stroke-width="0.4" opacity="0.3"/><path d="M206.4 350.6 L206.5 352.6 L206.9 354.6 L207.5 356.5 L208.1 358.4 L209.2 360.1 L210.7 361.3 L211.6 363.1 L212.7 364.8 L213.7 366.5 L214.1 368.5 L213.8 370.5 L213.7 372.5 L214.2 374.4 L215 376.3 L215.1 378.2 L214.8 380.2 L215.1 382.2 L215 384.2 L215.2 386.2" stroke="#2aa845" stroke-width="0.4" opacity="0.5"/><path d="M258.3 365.3 L257.6 367.2 L256.4 368.8 L255.3 370.5 L254.6 372.3 L253.6 374.1 L252.2 375.5 L251.4 377.3 L250.8 379.3 L249.8 381" stroke="#33cc55" stroke-width="0.7" opacity="0.6"/><path d="M225.4 353.6 L225.4 355.6 L226 357.5 L227 359.2 L228.2 360.8 L229 362.7 L229.3 364.6 L229.8 366.6 L230.1 368.5 L229.8 370.5 L229.6 372.5" stroke="#28b548" stroke-width="0.8" opacity="0.6"/><path d="M190.9 346 L191.5 347.9 L192.6 349.6 L193 351.6 L194 353.3 L194.4 355.2 L195.4 357 L196.3 358.8 L197 360.6 L197.8 362.5 L198.4 364.4 L199.5 366.1 L199.7 368 L200.5 369.9 L201.6 371.6 L202.3 373.4" stroke="#1f9a3c" stroke-width="0.5" opacity="0.6"/><path d="M296 370.9 L296.2 372.9 L295.8 374.8 L295.5 376.8 L295.7 378.8 L295.8 380.8 L295.7 382.8 L295.8 384.8 L295.6 386.8 L295.2 388.7 L294.7 390.7 L294.4 392.6 L293.7 394.5 L292.9 396.3 L292.2 398.2 L291.1 399.9 L290.6 401.8 L289.8 403.7" stroke="#28b548" stroke-width="0.5" opacity="0.4"/><path d="M254.4 364.3 L254.5 366.3 L254.9 368.2 L255.2 370.2 L255.1 372.2 L254.9 374.2 L255.1 376.2 L255.8 378.1 L255.7 380.1 L256.4 381.9 L257.1 383.8 L257.1 385.8 L257.5 387.8 L257.7 389.8 L257.8 391.8 L257.5 393.8 L257.3 395.7" stroke="#1d8436" stroke-width="0.5" opacity="0.5"/></g>
<g fill="none" stroke-linecap="round"><path d="M176.9 334.3 L178 335.3 L179.4 335.9 L180.9 335.9 L182.4 335.8" stroke="#46e06a" stroke-width="1" opacity="0.8"/><path d="M264.5 339.6 L264.1 341 L263.7 342.5 L263.6 344" stroke="#46e06a" stroke-width="0.6" opacity="0.7"/><path d="M276.6 342.2 L275.2 341.8 L273.7 341.9 L272.4 341.1" stroke="#46e06a" stroke-width="0.6" opacity="0.8"/><path d="M246.4 319 L245.6 320.3 L245.9 321.8 L246.2 323.2 L246.5 324.7" stroke="#46e06a" stroke-width="0.8" opacity="0.5"/><path d="M223.2 312.8 L221.9 312.1 L220.7 311.1 L219.3 310.6 L217.8 310.6 L216.3 310.4 L214.8 310.7" stroke="#33cc55" stroke-width="0.6" opacity="0.5"/><path d="M208 335.3 L207 336.5 L205.8 337.4" stroke="#46e06a" stroke-width="1" opacity="0.7"/><path d="M287.3 346.9 L285.8 347 L284.4 346.5" stroke="#46e06a" stroke-width="0.8" opacity="0.8"/><path d="M195.7 319.6 L194.6 318.5 L193.3 317.8 L191.9 317.3 L190.6 316.6" stroke="#33cc55" stroke-width="0.8" opacity="0.6"/><path d="M249.8 320.9 L251.2 320.6 L252.4 319.7 L253.5 318.7 L255 318.4" stroke="#28b548" stroke-width="0.5" opacity="0.5"/><path d="M201.9 320.8 L200.8 321.8 L199.8 322.9 L199.2 324.3 L197.9 325.1 L196.7 326" stroke="#46e06a" stroke-width="1" opacity="0.8"/><path d="M170.1 318.9 L171.5 318.5 L172.7 317.7" stroke="#28b548" stroke-width="1" opacity="0.5"/><path d="M247.3 328.5 L246.2 327.4 L244.9 326.7 L243.6 325.9 L242.5 325" stroke="#28b548" stroke-width="0.6" opacity="0.7"/><path d="M201.6 329.5 L202.7 330.5 L204 331.3" stroke="#28b548" stroke-width="0.8" opacity="0.4"/><path d="M235.3 322.6 L234.3 321.5 L232.8 321 L231.8 320" stroke="#28b548" stroke-width="0.9" opacity="0.7"/><path d="M273.7 346.6 L274.8 345.5 L275.3 344.1 L276.1 342.8 L277 341.7" stroke="#33cc55" stroke-width="0.7" opacity="0.7"/><path d="M179.2 321.7 L180.2 320.6 L181.1 319.4" stroke="#33cc55" stroke-width="1" opacity="0.5"/><path d="M289.1 329.3 L288.5 330.7 L288.1 332.1 L287.3 333.4" stroke="#33cc55" stroke-width="1.1" opacity="0.6"/><path d="M201.2 332.9 L202.3 331.9 L202.7 330.4 L203.8 329.4 L205.1 328.8 L206.1 327.7 L206.9 326.4" stroke="#28b548" stroke-width="0.7" opacity="0.7"/><path d="M283.9 324.8 L282.4 324.7 L280.9 324.9 L279.5 324.4" stroke="#46e06a" stroke-width="0.9" opacity="0.6"/><path d="M212.3 334.1 L210.8 334.2 L209.5 335 L208.5 336.2 L207.3 337.1 L205.9 337.6" stroke="#46e06a" stroke-width="0.7" opacity="0.8"/><path d="M283 332.8 L282.2 334.1 L281.3 335.2" stroke="#33cc55" stroke-width="0.8" opacity="0.6"/><path d="M170.1 326.4 L169.9 324.9 L169.7 323.4" stroke="#28b548" stroke-width="1.2" opacity="0.4"/><path d="M239.3 336.4 L238.6 337.7 L237.5 338.7" stroke="#28b548" stroke-width="1.2" opacity="0.5"/><path d="M213 333.8 L213.8 332.5 L214.9 331.5 L216.3 331 L217.8 330.7 L218.9 329.7" stroke="#28b548" stroke-width="1" opacity="0.8"/><path d="M206 321.4 L207 320.2 L208.2 319.3 L209.1 318.2 L210.4 317.3" stroke="#28b548" stroke-width="1" opacity="0.8"/><path d="M297.4 347.2 L296 347.6 L294.6 348.2" stroke="#28b548" stroke-width="0.8" opacity="0.4"/><path d="M281.3 345.3 L279.9 344.8 L278.7 343.9" stroke="#33cc55" stroke-width="0.7" opacity="0.7"/><path d="M215.7 328.4 L214.7 327.3 L213.8 326.1 L212.6 325.3 L212.1 323.8 L211.8 322.4" stroke="#46e06a" stroke-width="0.9" opacity="0.8"/><path d="M272.7 324 L273.4 322.7 L273.7 321.2 L273.4 319.8 L273.5 318.3" stroke="#46e06a" stroke-width="0.7" opacity="0.5"/><path d="M200.5 328 L201.2 326.6 L201.4 325.1 L202.5 324.1 L203.9 323.7" stroke="#46e06a" stroke-width="0.7" opacity="0.8"/><path d="M298 328.9 L298.8 327.7 L299.6 326.4" stroke="#33cc55" stroke-width="0.5" opacity="0.6"/><path d="M281.7 339.6 L281.3 338.2 L280.4 337 L279.8 335.6 L279.5 334.1 L278.7 332.8" stroke="#33cc55" stroke-width="1.1" opacity="0.4"/><path d="M190.4 313.3 L189 313.9 L188 315" stroke="#33cc55" stroke-width="1.1" opacity="0.5"/><path d="M242.2 321.8 L242.8 320.5 L243.2 319" stroke="#28b548" stroke-width="0.7" opacity="0.4"/><path d="M175.8 333.9 L175.9 332.4 L176 330.9" stroke="#46e06a" stroke-width="1.2" opacity="0.6"/><path d="M171.6 319.7 L173.1 319.8 L174.5 320.2 L175.7 321.1 L177.2 321.5" stroke="#46e06a" stroke-width="1.2" opacity="0.8"/><path d="M298.1 337.4 L297.9 338.9 L298.3 340.4 L299 341.7 L300 342.8 L301.2 343.7" stroke="#33cc55" stroke-width="0.5" opacity="0.7"/><path d="M175.6 322.7 L174.7 323.8 L173.4 324.6" stroke="#33cc55" stroke-width="1.1" opacity="0.8"/><path d="M264.1 329.5 L263.2 330.7 L261.8 331.3 L261.1 332.7 L259.8 333.5 L258.8 334.6" stroke="#28b548" stroke-width="0.8" opacity="0.8"/><path d="M249.4 316.3 L248.7 314.9 L248.1 313.6 L247 312.5" stroke="#33cc55" stroke-width="0.9" opacity="0.6"/><path d="M208.4 312.2 L209.6 313.2 L210.9 313.8 L212.4 314.1 L213.9 313.8" stroke="#46e06a" stroke-width="0.9" opacity="0.7"/><path d="M190.7 313.2 L189.7 312.1 L188.2 311.7 L186.9 311.1" stroke="#33cc55" stroke-width="0.6" opacity="0.9"/><path d="M277.8 341.8 L276.4 342.3 L274.9 342.5" stroke="#28b548" stroke-width="1.2" opacity="0.6"/><path d="M293.9 330.7 L294.8 329.5 L295.5 328.2 L296.5 327.1 L298 326.7 L299.3 325.9" stroke="#46e06a" stroke-width="1" opacity="0.6"/><path d="M168.7 329.7 L170 330.4 L171.1 331.4 L172.3 332.3 L173.5 333.2 L174.4 334.4 L175.3 335.6" stroke="#28b548" stroke-width="1.1" opacity="0.4"/><path d="M264.5 338.6 L266 338.6 L267.5 338.5 L268.9 338" stroke="#28b548" stroke-width="0.9" opacity="0.6"/><path d="M171.6 327 L173.1 326.6 L174.5 327 L176 326.6 L177.4 326.1" stroke="#33cc55" stroke-width="1" opacity="0.5"/><path d="M264.2 345 L265 343.7 L266.4 343.2 L267.7 342.5 L268.8 341.4 L270.2 340.9" stroke="#28b548" stroke-width="1.1" opacity="0.4"/><path d="M182.4 313.2 L181.9 311.8 L180.9 310.7" stroke="#33cc55" stroke-width="0.7" opacity="0.8"/><path d="M227.1 325.7 L226.4 327 L225.4 328.2" stroke="#46e06a" stroke-width="0.6" opacity="0.6"/><path d="M266.9 342.6 L265.4 342.7 L264.1 342 L263.3 340.7" stroke="#46e06a" stroke-width="1.1" opacity="0.4"/><path d="M215.5 313.1 L214.3 312.2 L213.4 311 L212 310.5" stroke="#46e06a" stroke-width="0.9" opacity="0.4"/><path d="M257 329.8 L258.5 330 L260 330.1" stroke="#33cc55" stroke-width="1.1" opacity="0.8"/><path d="M193.3 328 L194.5 327.2 L195.6 326.1" stroke="#28b548" stroke-width="1.2" opacity="0.7"/><path d="M194.8 316 L194.5 317.4 L195 318.9" stroke="#33cc55" stroke-width="0.6" opacity="0.9"/><path d="M247.6 325.1 L247.4 323.6 L247.5 322.1 L247.3 320.6 L246.7 319.2 L246 317.9 L244.9 316.9" stroke="#28b548" stroke-width="0.7" opacity="0.6"/><path d="M247.9 323.1 L246.5 322.5 L245.2 321.8" stroke="#33cc55" stroke-width="0.7" opacity="0.7"/><path d="M204.8 333.4 L205.5 332 L205.9 330.6 L207 329.6 L207.8 328.3 L208.9 327.2" stroke="#28b548" stroke-width="0.7" opacity="0.7"/><path d="M215.6 319.2 L217.1 319.6 L218.4 320.3 L219.9 320.3 L221.4 320.6" stroke="#46e06a" stroke-width="0.8" opacity="0.4"/><path d="M285.1 329.8 L286.6 329.6 L288.1 329.9 L289.5 330.1" stroke="#28b548" stroke-width="1" opacity="0.6"/><path d="M194.9 331.2 L193.4 330.9 L192 330.3" stroke="#46e06a" stroke-width="1" opacity="0.4"/><path d="M176.9 314.9 L178.4 315.2 L179.8 314.8 L181.1 314" stroke="#46e06a" stroke-width="1.2" opacity="0.6"/><path d="M276.3 338.5 L277.4 339.6 L278.4 340.7 L279.4 341.8 L280.2 343.1 L281.2 344.2 L281.4 345.6" stroke="#46e06a" stroke-width="0.8" opacity="0.8"/><path d="M235.2 315.7 L234.1 316.8 L232.9 317.7" stroke="#28b548" stroke-width="1.1" opacity="0.7"/><path d="M294.9 337.6 L294.2 339 L293.7 340.3 L293.2 341.8" stroke="#46e06a" stroke-width="0.6" opacity="0.6"/><path d="M241.1 340 L240.2 341.1 L239.2 342.3" stroke="#46e06a" stroke-width="0.9" opacity="0.4"/><path d="M179 323.9 L179 322.4 L178.9 320.9 L178.2 319.6 L177.3 318.4 L176.6 317.1" stroke="#28b548" stroke-width="0.6" opacity="0.4"/><path d="M285.5 344.6 L287 344.7 L288.4 344.3" stroke="#28b548" stroke-width="0.9" opacity="0.8"/><path d="M294.1 335.9 L292.7 335.2 L291.5 334.4" stroke="#28b548" stroke-width="0.8" opacity="0.5"/><path d="M248.7 326.6 L250.2 326.6 L251.6 327 L252.9 327.8 L254.4 328.2 L255.9 328.2 L257.3 327.7" stroke="#28b548" stroke-width="0.6" opacity="0.9"/><path d="M210.6 323.3 L210.8 324.8 L210.9 326.3 L211.3 327.8 L211 329.2 L211.2 330.7" stroke="#33cc55" stroke-width="0.7" opacity="0.7"/><path d="M196.3 312.7 L195.7 314 L195.4 315.5 L195.7 317" stroke="#33cc55" stroke-width="1.1" opacity="0.4"/><path d="M236.8 327.9 L237.5 326.6 L238.1 325.2" stroke="#33cc55" stroke-width="0.8" opacity="0.9"/><path d="M235.7 327.2 L235.7 328.7 L236.4 330 L236.7 331.5" stroke="#33cc55" stroke-width="1.2" opacity="0.6"/><path d="M246 325.1 L246.6 323.7 L246.9 322.2 L247.2 320.8 L247.6 319.3" stroke="#33cc55" stroke-width="0.5" opacity="0.4"/><path d="M200.5 317.6 L199.5 318.7 L198.8 320 L198.5 321.5" stroke="#28b548" stroke-width="0.6" opacity="0.6"/><path d="M197 317 L195.5 317.3 L194.1 317.8" stroke="#33cc55" stroke-width="0.5" opacity="0.8"/><path d="M173.7 326.9 L175 327.6 L176.5 327.5 L177.8 328.2 L178.9 329.2 L180 330.2 L181.5 330.3" stroke="#28b548" stroke-width="0.8" opacity="0.5"/><path d="M249.6 340.1 L249.6 341.6 L249.2 343.1" stroke="#46e06a" stroke-width="0.8" opacity="0.6"/><path d="M224.8 314.2 L224.8 312.7 L224.2 311.3 L224.4 309.9 L225 308.5 L225.7 307.1" stroke="#46e06a" stroke-width="1" opacity="0.6"/><path d="M258.2 335 L256.8 334.6 L255.3 334.3 L253.8 334.5 L252.5 333.8 L251 333.5" stroke="#33cc55" stroke-width="0.8" opacity="0.4"/><path d="M224.2 320.9 L224.9 322.3 L225.3 323.7 L225.9 325.1 L226.1 326.6 L227 327.8 L227.5 329.2" stroke="#46e06a" stroke-width="1" opacity="0.5"/><path d="M169.3 332.1 L169.7 333.5 L169.9 335 L170.4 336.5" stroke="#28b548" stroke-width="1.1" opacity="0.5"/><path d="M244.1 327.6 L242.6 327.5 L241.2 327.8 L239.9 328.6" stroke="#28b548" stroke-width="0.8" opacity="0.4"/><path d="M288.6 345 L288.1 343.6 L288.5 342.1" stroke="#46e06a" stroke-width="0.9" opacity="0.9"/><path d="M287 335.5 L288.4 335.8 L289.9 335.4" stroke="#33cc55" stroke-width="0.9" opacity="0.4"/><path d="M298 335 L297.2 333.8 L296.3 332.6 L296.1 331.1" stroke="#33cc55" stroke-width="1.1" opacity="0.4"/><path d="M270.5 326 L270.2 324.5 L269.3 323.3 L268.9 321.9 L268.6 320.4" stroke="#33cc55" stroke-width="1" opacity="0.6"/><path d="M292.4 343.5 L293.1 342.2 L293.4 340.8 L293.3 339.3 L292.6 338 L292.1 336.6" stroke="#33cc55" stroke-width="1" opacity="0.5"/><path d="M241.1 321.3 L240.1 320.2 L239.6 318.8" stroke="#46e06a" stroke-width="1.1" opacity="0.4"/><path d="M280.4 344.7 L281.3 345.9 L282.2 347.2 L282.9 348.5 L283.1 350" stroke="#28b548" stroke-width="0.7" opacity="0.4"/><path d="M290.5 333.8 L290.3 335.3 L290.2 336.8" stroke="#28b548" stroke-width="0.7" opacity="0.7"/><path d="M203 329.6 L201.8 330.5 L200.5 331.3" stroke="#28b548" stroke-width="1" opacity="0.5"/><path d="M167.7 335 L166.3 335.6 L165 336.3" stroke="#46e06a" stroke-width="0.5" opacity="0.7"/><path d="M176.3 311.2 L177.5 312.1 L178.3 313.4 L178.8 314.8 L179.5 316.2 L180.8 316.8 L182.1 317.6" stroke="#46e06a" stroke-width="0.6" opacity="0.7"/><path d="M247.9 340.1 L247.3 341.5 L247.1 342.9" stroke="#28b548" stroke-width="0.8" opacity="0.7"/><path d="M295.2 340 L294.1 339.1 L293.2 337.9" stroke="#46e06a" stroke-width="1.2" opacity="0.9"/><path d="M289 346.6 L287.7 347.2 L286.2 347.6" stroke="#28b548" stroke-width="0.9" opacity="0.8"/><path d="M209 314.9 L208.1 316.2 L208 317.7" stroke="#33cc55" stroke-width="1.1" opacity="0.9"/><path d="M170.5 311.3 L169.8 312.6 L168.9 313.8 L167.8 314.8 L166.4 315.4" stroke="#46e06a" stroke-width="0.8" opacity="0.9"/><path d="M195.8 320.9 L195.2 319.5 L194.5 318.2 L194.5 316.7" stroke="#46e06a" stroke-width="0.7" opacity="0.7"/><path d="M236.5 322.3 L237.6 323.4 L238 324.8 L239 326" stroke="#46e06a" stroke-width="0.6" opacity="0.6"/><path d="M196.4 334.6 L196 333.2 L195.7 331.7 L195.5 330.2 L195.3 328.7" stroke="#46e06a" stroke-width="0.6" opacity="0.5"/><path d="M207 319.1 L206.8 320.6 L206.5 322.1 L207.1 323.5 L207.1 325" stroke="#46e06a" stroke-width="0.8" opacity="0.4"/><path d="M240.6 317.9 L241.9 318.8 L242.6 320.1" stroke="#46e06a" stroke-width="0.8" opacity="0.7"/><path d="M197.9 336.6 L197.6 335.1 L198.1 333.6 L197.6 332.2 L197.9 330.8 L198.8 329.5 L198.7 328" stroke="#46e06a" stroke-width="0.8" opacity="0.4"/><path d="M287.6 327.5 L288 326 L288.8 324.8 L289.2 323.3 L290.1 322.1 L290.2 320.6" stroke="#28b548" stroke-width="0.7" opacity="0.4"/><path d="M198.6 328.9 L199.1 327.5 L199.7 326.2 L200 324.7 L200.6 323.3 L201.7 322.2" stroke="#46e06a" stroke-width="1.2" opacity="0.4"/><path d="M191.7 319.6 L190.2 319.7 L188.8 320.2" stroke="#28b548" stroke-width="0.9" opacity="0.8"/><path d="M225.5 332.4 L225.9 331 L225.4 329.5" stroke="#33cc55" stroke-width="1.2" opacity="0.9"/><path d="M256.4 322.3 L255.2 323.3 L254 324.1 L252.5 324.2 L251 324.2" stroke="#33cc55" stroke-width="0.9" opacity="0.8"/><path d="M228.5 316.9 L227.6 318.1 L226.2 318.8 L225 319.6 L224.2 320.8 L223.8 322.3 L223.6 323.8" stroke="#28b548" stroke-width="1.1" opacity="0.9"/><path d="M170.6 321.6 L169.4 322.6 L168.9 324 L168.3 325.4 L167.9 326.8" stroke="#46e06a" stroke-width="0.7" opacity="0.8"/><path d="M241.3 332.5 L240.7 331.1 L239.8 330 L239.1 328.6 L238.7 327.2 L238.3 325.7" stroke="#28b548" stroke-width="0.8" opacity="0.5"/><path d="M287.5 329.8 L286 329.8 L284.7 330.4 L283.3 331 L281.8 330.8 L280.3 331.2" stroke="#46e06a" stroke-width="1.2" opacity="0.5"/><path d="M240.3 324.9 L240.6 326.3 L240.6 327.8 L241.5 329" stroke="#33cc55" stroke-width="0.9" opacity="0.6"/><path d="M288.7 337.4 L289.8 336.4 L290.5 335.1" stroke="#28b548" stroke-width="1.1" opacity="0.7"/><path d="M174.8 318.9 L176.1 319.5 L177.6 319.6" stroke="#28b548" stroke-width="0.8" opacity="0.4"/><path d="M272.6 326.8 L272.2 328.3 L271.2 329.4 L270.3 330.6 L269.5 331.9 L268.6 333.1" stroke="#46e06a" stroke-width="0.8" opacity="0.6"/><path d="M205.6 332.6 L207 332.1 L208.3 331.3 L209.8 331.2" stroke="#33cc55" stroke-width="1.2" opacity="0.9"/><path d="M257.5 338.6 L257.3 340.1 L257.8 341.5 L257.7 343 L258.1 344.5 L258.9 345.8" stroke="#46e06a" stroke-width="1.2" opacity="0.7"/><path d="M229.3 329 L229.3 330.5 L228.8 331.9 L227.8 333" stroke="#46e06a" stroke-width="0.6" opacity="0.9"/><path d="M281.9 330.7 L281.8 329.2 L282.3 327.8 L282.8 326.4 L282.5 325" stroke="#28b548" stroke-width="1" opacity="0.6"/><path d="M221 320.8 L221.3 322.3 L221.6 323.8" stroke="#33cc55" stroke-width="0.7" opacity="0.7"/><path d="M172.5 333.7 L173.9 333.2 L175.4 333.1 L176.7 332.3 L177.8 331.3 L178.9 330.3 L180.1 329.4" stroke="#28b548" stroke-width="0.6" opacity="0.7"/><path d="M257.6 342.5 L258.8 341.6 L259.7 340.4 L261.1 339.8 L262.4 339.1 L263.9 339.1 L265.4 339.1" stroke="#33cc55" stroke-width="0.6" opacity="0.5"/><path d="M297.8 327.5 L296.3 327.3 L294.9 326.6 L293.7 325.8 L292.2 325.3 L291.3 324.2" stroke="#33cc55" stroke-width="0.7" opacity="0.5"/><path d="M176.6 311.8 L178 311.2 L179.4 310.7 L180.6 309.9 L181.7 308.9" stroke="#46e06a" stroke-width="1.1" opacity="0.9"/><path d="M177.8 321.7 L179.3 321.7 L180.7 322.2 L181.8 323.2" stroke="#28b548" stroke-width="1.1" opacity="0.5"/><path d="M238.5 340.1 L239.9 340.8 L241.4 340.7" stroke="#46e06a" stroke-width="0.6" opacity="0.9"/><path d="M270.9 335.7 L269.4 335.8 L268.2 336.8" stroke="#46e06a" stroke-width="0.8" opacity="0.6"/><path d="M181.4 322.9 L180.3 324 L179.7 325.4 L179.3 326.8 L178.2 327.9 L177.2 329" stroke="#46e06a" stroke-width="1.2" opacity="0.6"/><path d="M270.5 326.7 L269.5 327.7 L268.6 329" stroke="#46e06a" stroke-width="1" opacity="0.4"/><path d="M174.6 322.9 L173.1 322.9 L171.6 323" stroke="#46e06a" stroke-width="0.6" opacity="0.5"/><path d="M264.9 345.1 L263.7 346 L262.7 347.1 L262.4 348.6 L261.4 349.7 L260.2 350.6 L259 351.4" stroke="#28b548" stroke-width="0.8" opacity="0.8"/><path d="M201.2 331.3 L201.8 332.6 L202.5 334 L203.2 335.3" stroke="#33cc55" stroke-width="0.6" opacity="0.4"/><path d="M282.1 338.9 L281 338 L279.8 337 L278.9 335.8 L278.1 334.6 L277.2 333.4" stroke="#33cc55" stroke-width="1.1" opacity="0.4"/><path d="M197.2 316.5 L197.7 317.9 L198.5 319.2 L199.7 320.1 L201 320.7" stroke="#28b548" stroke-width="1" opacity="0.6"/><path d="M296.2 334.4 L296.7 335.8 L296.7 337.3" stroke="#33cc55" stroke-width="0.6" opacity="0.6"/><path d="M280.9 330.2 L279.5 330.8 L278.1 331.3 L277.1 332.4 L276.4 333.7 L275.2 334.6" stroke="#46e06a" stroke-width="0.9" opacity="0.7"/><path d="M267.5 339.3 L268.6 340.3 L269.7 341.3" stroke="#28b548" stroke-width="0.6" opacity="0.4"/><path d="M266.3 334.8 L266.6 336.3 L266.2 337.8 L266.1 339.2" stroke="#33cc55" stroke-width="0.7" opacity="0.9"/><path d="M271.7 333.5 L273 334.2 L274.3 334.9 L275.8 334.9 L277.1 334.1 L278.4 333.4 L279.8 332.8" stroke="#33cc55" stroke-width="0.9" opacity="0.9"/><path d="M213.7 330.4 L212.6 329.5 L211.6 328.3" stroke="#46e06a" stroke-width="0.8" opacity="0.5"/><path d="M214.5 324.6 L213.1 324.1 L211.6 324.3 L210.1 324.6" stroke="#28b548" stroke-width="0.7" opacity="0.4"/><path d="M182.9 312.7 L182.8 314.2 L182.8 315.7 L182.3 317.1 L182.6 318.6 L182.3 320.1" stroke="#33cc55" stroke-width="0.6" opacity="0.7"/><path d="M259.3 326.9 L258.3 328 L257.5 329.2" stroke="#33cc55" stroke-width="1.1" opacity="0.8"/><path d="M204.4 323.7 L205.5 322.7 L206.3 321.4 L207.3 320.4 L208.7 319.8" stroke="#33cc55" stroke-width="1.1" opacity="0.4"/><path d="M191.3 326 L191 327.5 L191 329 L190.5 330.4" stroke="#33cc55" stroke-width="1.1" opacity="0.5"/><path d="M215.3 316.5 L215.2 318 L216 319.3" stroke="#28b548" stroke-width="0.9" opacity="0.7"/><path d="M179.9 311.6 L180.9 310.5 L182.3 309.9 L183.1 308.6 L183.3 307.1 L182.8 305.7 L183 304.2" stroke="#46e06a" stroke-width="0.9" opacity="0.4"/><path d="M187.4 328.3 L185.9 328.3 L184.6 328.9 L183.3 329.7 L182.5 330.9 L181 331.3" stroke="#33cc55" stroke-width="0.7" opacity="0.4"/><path d="M208.2 326 L208.9 324.7 L209.5 323.3" stroke="#28b548" stroke-width="0.6" opacity="0.6"/><path d="M283.1 345.7 L282.3 347 L282 348.5 L281.2 349.7" stroke="#33cc55" stroke-width="0.9" opacity="0.6"/><path d="M236.9 327.6 L237 329.1 L237.8 330.4 L238.6 331.6 L239.9 332.4 L240.4 333.8" stroke="#28b548" stroke-width="0.8" opacity="0.6"/><path d="M215.7 334.7 L217.2 335 L218.3 336.1 L219.7 336.4" stroke="#28b548" stroke-width="0.9" opacity="0.8"/><path d="M297.7 349.8 L297.3 351.3 L296.2 352.3" stroke="#28b548" stroke-width="0.8" opacity="0.7"/><path d="M172.5 318.1 L173.5 316.9 L173.9 315.5 L174.9 314.4 L176.2 313.7 L177.6 313.2 L179.1 312.9" stroke="#33cc55" stroke-width="0.9" opacity="0.9"/><path d="M224.6 331.1 L226.1 331.5 L227.6 331.8 L228.6 332.9 L229.6 334" stroke="#46e06a" stroke-width="1.2" opacity="0.7"/><path d="M274.2 347 L273.4 348.3 L272.3 349.3 L270.8 349.5 L269.3 349.7" stroke="#46e06a" stroke-width="1" opacity="0.5"/><path d="M293.3 339.5 L291.9 339 L290.8 337.9 L290 336.7 L289.5 335.3" stroke="#46e06a" stroke-width="0.7" opacity="0.7"/><path d="M261.5 339.3 L261.9 340.7 L262.2 342.2 L261.9 343.6 L261.3 345 L260.5 346.3" stroke="#28b548" stroke-width="0.6" opacity="0.7"/><path d="M248.3 340.4 L246.8 340.2 L245.5 339.4 L244 339.1 L242.7 338.5" stroke="#46e06a" stroke-width="0.8" opacity="0.7"/><path d="M172 326 L171.5 324.6 L170.8 323.3" stroke="#28b548" stroke-width="0.7" opacity="0.5"/><path d="M278.4 340.3 L276.9 340.3 L275.4 340.5 L273.9 340.3 L272.4 340.2" stroke="#46e06a" stroke-width="0.8" opacity="0.7"/><path d="M183.4 317.1 L182.4 316 L181.5 314.8 L180.4 313.8" stroke="#28b548" stroke-width="1" opacity="0.7"/><path d="M194.2 310.8 L194.8 312.1 L195.6 313.4 L196.4 314.7 L197.7 315.4" stroke="#28b548" stroke-width="1.1" opacity="0.4"/><path d="M192.3 322.8 L191.1 323.7 L189.8 324.4 L188.4 324.9 L187.5 326.1" stroke="#46e06a" stroke-width="0.6" opacity="0.4"/><path d="M172.3 311.2 L171.8 312.6 L171.9 314.1 L171.2 315.4" stroke="#28b548" stroke-width="1.2" opacity="0.8"/><path d="M245.3 321.3 L244.6 320 L243.3 319.1 L242.2 318.1" stroke="#46e06a" stroke-width="0.6" opacity="0.6"/></g>
<g fill="#3fd070"><ellipse cx="167.4" cy="326.7" rx="1.2" ry="1.7" transform="rotate(20 167.4 326.7)"/><ellipse cx="176" cy="323.7" rx="1.2" ry="1.7" transform="rotate(20 176 323.7)"/><ellipse cx="177.2" cy="329.1" rx="1.2" ry="1.7" transform="rotate(20 177.2 329.1)"/><ellipse cx="172.8" cy="339.7" rx="1.2" ry="1.7" transform="rotate(20 172.8 339.7)"/><ellipse cx="199.3" cy="339" rx="1.2" ry="1.7" transform="rotate(20 199.3 339)"/><ellipse cx="206.7" cy="309" rx="1.2" ry="1.7" transform="rotate(20 206.7 309)"/><ellipse cx="228.3" cy="325.7" rx="1.2" ry="1.7" transform="rotate(20 228.3 325.7)"/><ellipse cx="239.1" cy="344.6" rx="1.2" ry="1.7" transform="rotate(20 239.1 344.6)"/><ellipse cx="236.2" cy="296.7" rx="1.2" ry="1.7" transform="rotate(20 236.2 296.7)"/><ellipse cx="244.8" cy="297.9" rx="1.2" ry="1.7" transform="rotate(20 244.8 297.9)"/><ellipse cx="251.4" cy="292.3" rx="1.2" ry="1.7" transform="rotate(20 251.4 292.3)"/><ellipse cx="268.1" cy="297.9" rx="1.2" ry="1.7" transform="rotate(20 268.1 297.9)"/><ellipse cx="252.2" cy="354.4" rx="1.2" ry="1.7" transform="rotate(20 252.2 354.4)"/><ellipse cx="273" cy="359.4" rx="1.2" ry="1.7" transform="rotate(20 273 359.4)"/></g>
<g fill="#24248c" opacity="0.7"><circle cx="215.5" cy="271.9" r="0.8"/><circle cx="232.9" cy="303" r="0.7"/><circle cx="171.4" cy="332.6" r="0.6"/><circle cx="210.3" cy="253.7" r="0.9"/><circle cx="243.4" cy="303.5" r="0.8"/><circle cx="289.7" cy="269.7" r="0.7"/><circle cx="259.2" cy="300.9" r="0.9"/><circle cx="285.6" cy="257.8" r="0.6"/><circle cx="204.6" cy="350.2" r="0.9"/><circle cx="258.1" cy="372.9" r="0.6"/><circle cx="217.9" cy="363.6" r="0.9"/><circle cx="181" cy="380.1" r="0.9"/><circle cx="280" cy="299.6" r="0.8"/><circle cx="292.2" cy="369.4" r="0.8"/><circle cx="283.2" cy="382.6" r="0.9"/><circle cx="252.4" cy="377.5" r="0.6"/><circle cx="219.2" cy="325.9" r="0.6"/><circle cx="268.8" cy="260.6" r="0.8"/><circle cx="202.9" cy="294.5" r="0.8"/><circle cx="191.3" cy="310.7" r="0.9"/><circle cx="295.9" cy="286.7" r="0.7"/><circle cx="257.4" cy="277.2" r="0.9"/><circle cx="192.3" cy="325" r="0.7"/><circle cx="166.3" cy="252.6" r="0.5"/><circle cx="209.3" cy="288.3" r="1"/><circle cx="250" cy="261" r="0.9"/><circle cx="196.7" cy="315.2" r="0.9"/><circle cx="278.8" cy="374.3" r="0.7"/><circle cx="207.9" cy="304.2" r="0.7"/><circle cx="263.7" cy="312.8" r="0.8"/><circle cx="186.1" cy="354.4" r="1"/><circle cx="192.8" cy="332.8" r="0.6"/><circle cx="170.8" cy="306.4" r="0.6"/><circle cx="262.2" cy="327" r="0.8"/><circle cx="293.4" cy="260" r="0.5"/><circle cx="170.8" cy="312.3" r="0.9"/><circle cx="256" cy="323.8" r="0.9"/><circle cx="215.1" cy="267.2" r="0.8"/><circle cx="169.5" cy="282.3" r="0.5"/><circle cx="187.4" cy="260.8" r="0.8"/></g>
<path d="M168.4 328.2 l3.0 2.8 M168.4 328.2 l2.7 0.3 M168.4 328.2 l0.3 2.7" stroke="#fff" stroke-width="1.35" fill="none" stroke-linecap="round"/>
<path d="M176.2 325.7 l3.0 2.8 M176.2 325.7 l2.7 0.3 M176.2 325.7 l0.3 2.7" stroke="#fff" stroke-width="1.35" fill="none" stroke-linecap="round"/>
<path d="M177.4 329.6 l3.0 2.8 M177.4 329.6 l2.7 0.3 M177.4 329.6 l0.3 2.7" stroke="#fff" stroke-width="1.35" fill="none" stroke-linecap="round"/>
<path d="M173.3 341.2 l3.0 2.8 M173.3 341.2 l2.7 0.3 M173.3 341.2 l0.3 2.7" stroke="#fff" stroke-width="1.35" fill="none" stroke-linecap="round"/>
<path d="M199.6 339.9 l3.0 2.8 M199.6 339.9 l2.7 0.3 M199.6 339.9 l0.3 2.7" stroke="#fff" stroke-width="1.35" fill="none" stroke-linecap="round"/>
<path d="M207.4 310.9 l3.0 2.8 M207.4 310.9 l2.7 0.3 M207.4 310.9 l0.3 2.7" stroke="#fff" stroke-width="1.35" fill="none" stroke-linecap="round"/>
<path d="M228.6 327.2 l3.0 2.8 M228.6 327.2 l2.7 0.3 M228.6 327.2 l0.3 2.7" stroke="#fff" stroke-width="1.35" fill="none" stroke-linecap="round"/>
<path d="M232.7 343.6 l3.0 2.8 M232.7 343.6 l2.7 0.3 M232.7 343.6 l0.3 2.7" stroke="#fff" stroke-width="1.35" fill="none" stroke-linecap="round"/>
<path d="M240.9 347.3 l3.0 2.8 M240.9 347.3 l2.7 0.3 M240.9 347.3 l0.3 2.7" stroke="#fff" stroke-width="1.35" fill="none" stroke-linecap="round"/>
<path d="M236.7 297.7 l3.0 2.8 M236.7 297.7 l2.7 0.3 M236.7 297.7 l0.3 2.7" stroke="#fff" stroke-width="1.35" fill="none" stroke-linecap="round"/>
<path d="M245.5 299.4 l3.0 2.8 M245.5 299.4 l2.7 0.3 M245.5 299.4 l0.3 2.7" stroke="#fff" stroke-width="1.35" fill="none" stroke-linecap="round"/>
<path d="M251.7 293.3 l3.0 2.8 M251.7 293.3 l2.7 0.3 M251.7 293.3 l0.3 2.7" stroke="#fff" stroke-width="1.35" fill="none" stroke-linecap="round"/>
<path d="M252.4 298.2 l3.0 2.8 M252.4 298.2 l2.7 0.3 M252.4 298.2 l0.3 2.7" stroke="#fff" stroke-width="1.35" fill="none" stroke-linecap="round"/>
<path d="M258.6 299.9 l3.0 2.8 M258.6 299.9 l2.7 0.3 M258.6 299.9 l0.3 2.7" stroke="#fff" stroke-width="1.35" fill="none" stroke-linecap="round"/>
<path d="M270.8 299.9 l3.0 2.8 M270.8 299.9 l2.7 0.3 M270.8 299.9 l0.3 2.7" stroke="#fff" stroke-width="1.35" fill="none" stroke-linecap="round"/>
<path d="M251.9 355.4 l3.0 2.8 M251.9 355.4 l2.7 0.3 M251.9 355.4 l0.3 2.7" stroke="#fff" stroke-width="1.35" fill="none" stroke-linecap="round"/>
<path d="M273.3 360.8 l3.0 2.8 M273.3 360.8 l2.7 0.3 M273.3 360.8 l0.3 2.7" stroke="#fff" stroke-width="1.35" fill="none" stroke-linecap="round"/>
<line x1="284.8" y1="372.2" x2="295.3" y2="372.2" stroke="#ddd" stroke-width="1.3" />
</g>
</g>
<g id="panel-g">
<text x="337.6" y="18.3" font-size="14.8" fill="#111" font-weight="700" >g</text>
<text x="369.4" y="42.1" font-size="10.1" fill="#111" font-weight="700" textLength="40.3" lengthAdjust="spacingAndGlyphs" >Kindling</text>
<text x="410" y="34.1" font-size="10" fill="#2f8a3c" font-weight="700" textLength="14.3" lengthAdjust="spacingAndGlyphs" >GS</text>
<text x="440.9" y="27.1" font-size="10.1" fill="#3f9e4c" font-weight="700" textLength="56" lengthAdjust="spacingAndGlyphs" >4w abDGCs</text>
<line x1="417.3" y1="35.2" x2="417.3" y2="52" stroke="#2f8a3c" stroke-width="1.5" />
<path d="M411.9 50.3 L417.3 53 L422.8 50.3 L417.3 60.8 Z" fill="#2f8a3c" />
<path d="M372.1 68.4 L372.4 67.8 L372.7 68.6 L373 67.9 L373.3 68.6 L373.6 68.3 L373.9 68.7 L374.2 67.9 L374.5 68.6 L374.8 68.3 L375.1 68.6 L375.4 68.4 L375.7 68.1 L376 67.9 L376.3 68.4 L376.6 68.2 L376.9 68.7 L377.2 68.3 L377.5 68.7 L377.8 68 L378.1 68.6 L378.4 67.9 L378.7 68.4 L379 67.9 L379.3 68.8 L379.6 67.6 L379.9 68.7 L380.2 68.4 L380.5 68.4 L380.8 68 L381.1 68.1 L381.4 68.5 L381.7 68.4 L382 68.1 L382.3 68.8 L382.6 68.3 L382.9 68.8 L383.2 67.7 L383.5 68.2 L383.8 67.8 L384.1 68.6 L384.4 68.2 L384.7 68.5 L385 68.1 L385.3 68.4 L385.6 68.2 L385.9 68.7 L386.2 68.1 L386.5 68.6 L386.8 68.1 L387.1 68.3 L387.4 68 L387.7 68.3 L388 68 L388.3 68.4 L388.6 68.2 L388.9 68.7 L389.2 67.9 L389.5 68.7 L389.8 68.1 L390.1 68.8 L390.4 68.6 L390.7 69.8 L391 66.6 L391.3 69.8 L391.6 67.6 L391.9 68.7 L392.2 66.6 L392.5 69.8 L392.8 66.9 L393.1 70.2 L393.4 67.2 L393.7 69.9 L394 68 L394.3 69.5 L394.6 67.5 L394.9 70 L395.2 66.5 L395.5 69.5 L395.8 67.7 L396.1 69.4 L396.4 67.5 L396.7 69.2 L397 67.9 L397.3 68.9 L397.6 67.1 L397.9 68.8 L398.2 66.9 L398.5 69.1 L398.8 66.7 L399.1 69.5 L399.4 67.4 L399.7 69.6 L400 67.3 L400.3 69.9 L400.6 66.4 L400.9 69.7 L401.2 68 L401.5 70.3 L401.8 66.8 L402.1 70.1 L402.4 66.4 L402.7 69.4 L403 68.2 L403.3 71.4 L403.6 66.4 L403.9 68.9 L404.2 66.4 L404.5 70 L404.8 67.2 L405.1 68.8 L405.4 66.5 L405.7 69.3 L406 67.8 L406.3 69.6 L406.6 66.8 L406.9 69.6 L407.2 66 L407.5 71.7 L407.8 67.2 L408.1 69 L408.4 67.1 L408.7 70.5 L409 67.3 L409.3 69 L409.6 65.9 L409.9 69.3 L410.2 68 L410.5 69.9 L410.8 66.2 L411.1 70.5 L411.4 66.6 L411.7 69 L412 66.7 L412.3 69 L412.6 67.6 L412.9 70.6 L413.2 67.1 L413.5 68.6 L413.8 67.1 L414.1 70 L414.4 66.8 L414.7 70.5 L415 66.2 L415.3 70.1 L415.6 65.3 L415.9 69.9 L416.2 67.2 L416.5 70.7 L416.8 65.4 L417.1 69.1 L417.4 66 L417.7 69.4 L418 67.6 L418.3 69.4 L418.6 67 L418.9 70.4 L419.2 66.7 L419.5 72.8 L419.8 65.6 L420.1 70.2 L420.4 64.7 L420.7 69.7 L421 66.4 L421.3 71.1 L421.6 67.2 L421.9 70.8 L422.2 66.6 L422.5 71.2 L422.8 66.3 L423.1 70.5 L423.4 64.9 L423.7 72.1 L424 66 L424.3 72.2 L424.6 64.9 L424.9 71 L425.2 65.5 L425.5 70.3 L425.8 67.6 L426.1 70.5 L426.4 64.3 L426.7 70.8 L427 66.5 L427.3 72.1 L427.6 64.9 L427.9 71.4 L428.2 64.8 L428.5 72.7 L428.8 64.8 L429.1 69.4 L429.4 67 L429.7 71 L430 66.4 L430.3 70.3 L430.6 64.7 L430.9 71.2 L431.2 67.4 L431.5 69.6 L431.8 66.5 L432.1 69.4 L432.4 65.9 L432.7 69.7 L433 64.3 L433.3 70.4 L433.6 66.3 L433.9 69.9 L434.2 66.7 L434.5 70.5 L434.8 63.3 L435.1 70.5 L435.4 65.7 L435.7 73.5 L436 66.4 L436.3 69 L436.6 63.1 L436.9 71.6 L437.2 62.7 L437.5 72.3 L437.8 64.7 L438.1 72.8 L438.4 62.7 L438.7 73 L439 62.8 L439.3 70.5 L439.6 65.8 L439.9 72.4 L440.2 64.7 L440.5 69.3 L440.8 63.6 L441.1 73.7 L441.4 62.8 L441.7 73 L442 66.9 L442.3 69.9 L442.6 66.1 L442.9 69.3 L443.2 63.8 L443.5 74.4 L443.8 65.2 L444.1 73.7 L444.4 66 L444.7 69.6 L445 66.4 L445.3 74.4 L445.6 63.8 L445.9 74.3 L446.2 64.4 L446.5 73.1 L446.8 64 L447.1 69.7 L447.4 66.8 L447.7 72 L448 65.8 L448.3 71.4 L448.6 63.9 L448.9 74.2 L449.2 63.6 L449.5 72.4 L449.8 61.1 L450.1 72.4 L450.4 65.6 L450.7 70.2 L451 63.8 L451.3 78.5 L451.6 65 L451.9 71.1 L452.2 64.1 L452.5 74.8 L452.8 60.7 L453.1 70.5 L453.4 63.5 L453.7 75.3 L454 61.1 L454.3 71.5 L454.6 64.6 L454.9 70.4 L455.2 72 L455.5 72.5 L455.8 71.1 L456.1 71.1 L456.4 70.8 L456.7 70.9 L457 70.3 L457.3 70.7 L457.6 69.6 L457.9 70 L458.2 69.2 L458.5 69.5 L458.8 68.8 L459.1 69.6 L459.4 68.7 L459.7 69 L460 68.4 L460.3 68.9 L460.6 67.9 L460.9 68.5 L461.2 68.4 L461.5 68.4 L461.8 68 L462.1 68.3 L462.4 68 L462.7 68.5 L463 67.4 L463.3 68 L463.6 67.7 L463.9 67.6 L464.2 67.7 L464.5 67.4 L464.8 67.1 L465.1 67.7 L465.4 67.2 L465.7 67.3 L466 66.5 L466.3 67 L466.6 67.1 L466.9 66.8 L467.2 66.1 L467.5 67.3 L467.8 66.2 L468.1 66.7 L468.4 66.3 L468.7 66.7 L469 66.4 L469.3 67.4 L469.6 66.9 L469.9 66.9 L470.2 66.7 L470.5 67.1 L470.8 66.8 L471.1 67.2 L471.4 66.5 L471.7 67.2 L472 66.8 L472.3 67.8 L472.6 67.6 L472.9 68 L473.2 67.1 L473.5 67.7 L473.8 67.7 L474.1 68 L474.4 68 L474.7 68.3 L475 67.9 L475.3 68.5 L475.6 68.5 L475.9 68.5 L476.2 68 L476.5 68.2 L476.8 68.2 L477.1 68.7 L477.4 67.9 L477.7 68.6 L478 67.9 L478.3 68.4 L478.6 68.3 L478.9 68.2 L479.2 67.8 L479.5 68.4 L479.8 68.2 L480.1 68.8 L480.4 67.9 L480.7 68.7 L481 68.4 L481.3 68.6 L481.6 67.9 L481.9 68.6 L482.2 68.1 L482.5 68.6 L482.8 67.8 L483.1 68.3 L483.4 68.4 L483.7 68.4 L484 68.2 L484.3 68.5 L484.6 68.1 L484.9 68.4 L485.2 68.1 L485.5 68.5 L485.8 67.9 L486.1 68.6 L486.4 68.4 L486.7 68.6 L487 68.3 L487.3 68.4 L487.6 67.9 L487.9 68.4 L488.2 67.7 L488.5 68.3 L488.8 68.2 L489.1 68.8 L489.4 67.9 L489.7 68.3 L490 67.9 L490.3 68.5 L490.6 67.8 L490.9 68.3 L491.2 68.2 L491.5 68.5 L491.8 68.1 L492.1 68.4 L492.4 67.8 L492.7 68.5 L493 67.9 L493.3 68.6 L493.6 68.2 L493.9 68.5 L494.2 68.1 L494.5 68.4 L494.8 67.9 L495.1 68.9 L495.4 68.2 L495.7 68.1 L496 67.9 L496.3 68.3 L496.6 68 L496.9 68.5 L497.2 68.1 L497.5 68.5 L497.8 68.2 L498.1 68.3 L498.4 68.2 L498.7 68.4 L499 67.9 L499.3 68.7 L499.6 68 L499.9 68.5 L500.2 68 L500.5 68.8 L500.8 68.4 L501.1 68.4 L501.4 68.3 L501.7 68.4 L502 68.4 L502.3 68.6 L502.6 67.8 L502.9 68.4 L503.2 68.2 L503.5 68.6 L503.8 68.2 L504.1 68.4 L504.4 67.8 L504.7 68.8 L505 67.8 L505.3 68.6 L505.6 68.3 L505.9 68 L506.2 67.7 L506.5 68.7 L506.8 67.7 L507.1 68.3 L507.4 67.8 L507.7 68.6 L508 68 L508.3 68.3 L508.6 67.9 L508.9 68.2 L509.2 68.1 L509.5 68.1 L509.8 67.8 L510.1 68.6 L510.4 68.2 L510.7 68.3 L511 67.8 L511.3 68.9 L511.6 67.9 L511.9 68.3 L512.2 68.2 L512.5 68.7 L512.8 68.2 L513.1 69 L513.4 68.4 L513.7 68.4 L514 68.3 L514.3 68.6 L514.6 67.9 L514.9 68.7 L515.2 67.8 L515.5 68.8 L515.8 68.3 L516.1 68.6 L516.4 68.1 L516.7 68.2 L517 68.2 L517.3 68.6 L517.6 67.9 L517.9 68.1 L518.2 68.2 L518.5 68.1 L518.8 67.9 L519.1 68.4 L519.4 68.4 L519.7 68.6 L520 68 L520.3 68.6 L520.6 68.4 L520.9 68.5 L521.2 68.1 L521.5 68.9 L521.8 68.2 L522.1 68.4 L522.4 67.7 L522.7 68.5 L523 67.9 L523.3 68.6 L523.6 68.1 L523.9 68.1 L524.2 68.1 L524.5 68.1 L524.8 68 L525.1 68.7 L525.4 68 L525.7 68.4 L526 68.4 L526.3 68.8 L526.6 67.9 L526.9 68.9 L527.2 67.8 L527.5 68.7 L527.8 68.5 L528.1 68.5 L528.4 68.5 L528.7 68.6 L529 67.9 L529.3 68.6 L529.6 68.1 L529.9 68.6 L530.2 68 L530.5 68.5 L530.8 67.8 L531.1 68.6 L531.4 68.3 L531.7 68.4 L532 67.9 L532.3 68.5 L532.6 68.5 L532.9 68.6 L533.2 67.9 L533.5 68.8 L533.8 67.6 L534.1 68.6 L534.4 68.2 L534.7 68.8 L535 68.5 L535.3 68.7 L535.6 67.7 L535.9 68.2 L536.2 67.8 L536.5 68.7 L536.8 67.7 L537.1 68.8 L537.4 67.8 L537.7 68.5 L538 68.4 L538.3 68.5 L538.6 68.5 L538.9 68.5 L539.2 68 L539.5 68.4 L539.8 67.9 L540.1 68.8 L540.4 67.9 L540.7 68.4 L541 68 L541.3 68.6 L541.6 68.1 L541.9 68.6 L542.2 67.7 L542.5 68.6 L542.8 67.9 L543.1 68.2 L543.4 68.5 L543.7 68.4 L544 68.1 L544.3 68.6 L544.6 67.7 L544.9 68.6 L545.2 68 L545.5 68.4 L545.8 68 L546.1 68.2 L546.4 67.8 L546.7 68.7 L547 67.6 L547.3 68.2 L547.6 68.2 L547.9 68.3 L548.2 68.5 L548.5 68.8 L548.8 67.8 L549.1 68.2 L549.4 68.4 L549.7 68.8 L550 67.7 L550.3 68.4 L550.6 68.2 L550.9 68.5 L551.2 68.2 L551.5 68.5 L551.8 67.6" fill="none" stroke="#2f7b31" stroke-width="1.0" stroke-linejoin="round"/>
<line x1="372.1" y1="68.3" x2="390" y2="68.3" stroke="#2f7b31" stroke-width="1.4" />
<line x1="476" y1="68.3" x2="552" y2="68.3" stroke="#2f7b31" stroke-width="1.3" />
<text x="501.6" y="92.9" font-size="10.1" fill="#111" font-weight="700" textLength="24.7" lengthAdjust="spacingAndGlyphs" >2 mV</text>
<path d="M532.9 81.5 L532.9 98.2 L551 98.2" fill="none" stroke="#111" stroke-width="1.4" />
<text x="534.1" y="109.7" font-size="10.1" fill="#111" font-weight="700" textLength="18.6" lengthAdjust="spacingAndGlyphs" >10 s</text>
<line x1="369" y1="108.2" x2="369" y2="194.4" stroke="#111" stroke-width="1.9" />
<line x1="368.1" y1="193.5" x2="546.8" y2="193.5" stroke="#111" stroke-width="1.9" />
<line x1="365.4" y1="116" x2="369" y2="116" stroke="#111" stroke-width="1.5" />
<text x="362.8" y="119.6" font-size="10.6" fill="#111" font-weight="700" text-anchor="end" >0</text>
<line x1="365.4" y1="140.3" x2="369" y2="140.3" stroke="#111" stroke-width="1.5" />
<text x="362.8" y="143.9" font-size="10.6" fill="#111" font-weight="700" text-anchor="end" >-5</text>
<line x1="365.4" y1="163.7" x2="369" y2="163.7" stroke="#111" stroke-width="1.5" />
<text x="362.8" y="167.3" font-size="10.6" fill="#111" font-weight="700" text-anchor="end" >-10</text>
<text x="362.8" y="191.3" font-size="10.6" fill="#111" font-weight="700" text-anchor="end" >-15</text>
<text x="370.1" y="205.3" font-size="10.6" fill="#111" font-weight="700" text-anchor="middle" >- 10</text>
<line x1="387.9" y1="193.5" x2="387.9" y2="196.9" stroke="#111" stroke-width="1.5" />
<text x="387.9" y="205.3" font-size="10.6" fill="#111" font-weight="700" text-anchor="middle" >0</text>
<line x1="405.7" y1="193.5" x2="405.7" y2="196.9" stroke="#111" stroke-width="1.5" />
<text x="405.7" y="205.3" font-size="10.6" fill="#111" font-weight="700" text-anchor="middle" >10</text>
<line x1="423.4" y1="193.5" x2="423.4" y2="196.9" stroke="#111" stroke-width="1.5" />
<text x="423.4" y="205.3" font-size="10.6" fill="#111" font-weight="700" text-anchor="middle" >20</text>
<line x1="441.2" y1="193.5" x2="441.2" y2="196.9" stroke="#111" stroke-width="1.5" />
<text x="441.2" y="205.3" font-size="10.6" fill="#111" font-weight="700" text-anchor="middle" >30</text>
<line x1="458.9" y1="193.5" x2="458.9" y2="196.9" stroke="#111" stroke-width="1.5" />
<text x="458.9" y="205.3" font-size="10.6" fill="#111" font-weight="700" text-anchor="middle" >40</text>
<line x1="476.7" y1="193.5" x2="476.7" y2="196.9" stroke="#111" stroke-width="1.5" />
<text x="476.7" y="205.3" font-size="10.6" fill="#111" font-weight="700" text-anchor="middle" >50</text>
<line x1="494.5" y1="193.5" x2="494.5" y2="196.9" stroke="#111" stroke-width="1.5" />
<text x="494.5" y="205.3" font-size="10.6" fill="#111" font-weight="700" text-anchor="middle" >60</text>
<line x1="512.2" y1="193.5" x2="512.2" y2="196.9" stroke="#111" stroke-width="1.5" />
<text x="512.2" y="205.3" font-size="10.6" fill="#111" font-weight="700" text-anchor="middle" >70</text>
<line x1="530" y1="193.5" x2="530" y2="196.9" stroke="#111" stroke-width="1.5" />
<text x="530" y="205.3" font-size="10.6" fill="#111" font-weight="700" text-anchor="middle" >80</text>
<text transform="translate(346.8 151.5) rotate(-90)" font-size="10.6" fill="#111" text-anchor="middle" font-weight="700">&#916;F/F(%)</text>
<text x="455.8" y="219.6" font-size="10.6" fill="#111" font-weight="700" text-anchor="middle" >Time (s)</text>
<path d="M370.9 115.8 L371.2 115.6 L371.5 115.2 L371.8 115.7 L372.1 115.7 L372.4 116.5 L372.7 116.5 L373 116.1 L373.3 116.5 L373.6 116.6 L373.9 115.5 L374.2 116.4 L374.5 116.6 L374.8 116.9 L375.1 116.6 L375.4 116 L375.7 115.6 L376 116.3 L376.3 115.8 L376.6 116.6 L376.9 116.4 L377.2 116.8 L377.5 116.2 L377.8 116 L378.1 117 L378.4 116.8 L378.7 116.3 L379 116.6 L379.3 116.4 L379.6 116.8 L379.9 116.6 L380.2 116.3 L380.5 117.4 L380.8 117.4 L381.1 117.3 L381.4 116.5 L381.7 116.3 L382 117.2 L382.3 117.5 L382.6 117.3 L382.9 116.6 L383.2 117.3 L383.5 117.2 L383.8 116.9 L384.1 117.3 L384.4 117.1 L384.7 117.5 L385 117.7 L385.3 118.2 L385.6 116.9 L385.9 117.5 L386.2 118.2 L386.5 117.9 L386.8 117.8 L387.1 118.3 L387.4 117.1 L387.7 118.3 L388 118.3 L388.3 118.3 L388.6 117.9 L388.9 118.5 L389.2 117.9 L389.5 118.5 L389.8 118.2 L390.1 119.4 L390.4 119.4 L390.7 119 L391 119.5 L391.3 119 L391.6 119.3 L391.9 118.8 L392.2 120 L392.5 119.9 L392.8 119.7 L393.1 118.5 L393.4 119.4 L393.7 118.1 L394 118.7 L394.3 118.5 L394.6 117.7 L394.9 118 L395.2 118.7 L395.5 118.2 L395.8 117.5 L396.1 118.1 L396.4 117.3 L396.7 117.9 L397 117.1 L397.3 116.4 L397.6 117.5 L397.9 116.2 L398.2 116.1 L398.5 117.1 L398.8 116.2 L399.1 116.9 L399.4 117.6 L399.7 117.3 L400 117 L400.3 117.7 L400.6 118 L400.9 117.7 L401.2 117.8 L401.5 117.4 L401.8 117.6 L402.1 118.6 L402.4 118.8 L402.7 117.4 L403 117.6 L403.3 117.7 L403.6 118.8 L403.9 118 L404.2 118.2 L404.5 119.5 L404.8 119.1 L405.1 120.7 L405.4 120.5 L405.7 121.5 L406 121.9 L406.3 121.3 L406.6 122.5 L406.9 122.4 L407.2 122.5 L407.5 122.6 L407.8 124 L408.1 124.3 L408.4 124.3 L408.7 125.5 L409 125 L409.3 125.7 L409.6 125.6 L409.9 126.3 L410.2 127.7 L410.5 127.6 L410.8 127.4 L411.1 127.9 L411.4 128.9 L411.7 128.9 L412 130.2 L412.3 129.4 L412.6 130.9 L412.9 131.1 L413.2 131.8 L413.5 131.5 L413.8 131.4 L414.1 131.2 L414.4 131.6 L414.7 130.5 L415 130.2 L415.3 130.9 L415.6 131 L415.9 130.7 L416.2 130.3 L416.5 129.6 L416.8 129.7 L417.1 129.2 L417.4 128.7 L417.7 128.1 L418 127.9 L418.3 128.3 L418.6 129 L418.9 129.9 L419.2 129.8 L419.5 131.6 L419.8 131.6 L420.1 132.2 L420.4 132.9 L420.7 132.4 L421 133.7 L421.3 134.4 L421.6 133.8 L421.9 133.9 L422.2 135.3 L422.5 136.1 L422.8 136.4 L423.1 136.2 L423.4 136.9 L423.7 136.6 L424 137.1 L424.3 137.9 L424.6 138.9 L424.9 138.4 L425.2 140 L425.5 139.2 L425.8 140.6 L426.1 139.6 L426.4 140.4 L426.7 140.5 L427 140.7 L427.3 140 L427.6 140.2 L427.9 139.6 L428.2 140.4 L428.5 139.3 L428.8 140.4 L429.1 140.1 L429.4 139.2 L429.7 140.5 L430 139.7 L430.3 139.2 L430.6 139.4 L430.9 139.1 L431.2 139.4 L431.5 140.2 L431.8 140.7 L432.1 140.9 L432.4 143.4 L432.7 146.8 L433 149.4 L433.3 150.5 L433.6 149 L433.9 147.8 L434.2 149.8 L434.5 147.6 L434.8 150.4 L435.1 147.9 L435.4 148.8 L435.7 148.5 L436 148.6 L436.3 145.8 L436.6 147.3 L436.9 151.3 L437.2 149.9 L437.5 153.7 L437.8 157.2 L438.1 155.1 L438.4 159.5 L438.7 157.4 L439 158.2 L439.3 154.7 L439.6 154.7 L439.9 153.3 L440.2 149 L440.5 149.5 L440.8 149 L441.1 147.8 L441.4 149.3 L441.7 151.4 L442 151.2 L442.3 151.6 L442.6 147.7 L442.9 151 L443.2 151.3 L443.5 153.6 L443.8 148.2 L444.1 148.8 L444.4 154.3 L444.7 151.6 L445 153.6 L445.3 153.5 L445.6 152.5 L445.9 152.9 L446.2 154 L446.5 157.2 L446.8 155.1 L447.1 156.4 L447.4 153.3 L447.7 155.3 L448 154.8 L448.3 155.5 L448.6 156.4 L448.9 151.2 L449.2 156 L449.5 154.3 L449.8 151.7 L450.1 152.5 L450.4 150.1 L450.7 150.5 L451 156.2 L451.3 158.7 L451.6 162.3 L451.9 157.6 L452.2 150.3 L452.5 145.6 L452.8 140.2 L453.1 134.4 L453.4 133.5 L453.7 133.8 L454 133.3 L454.3 132.5 L454.6 132.8 L454.9 131.5 L455.2 131.8 L455.5 130.9 L455.8 130.3 L456.1 130.6 L456.4 130.4 L456.7 130.4 L457 130.1 L457.3 130.9 L457.6 130.9 L457.9 129.9 L458.2 129.5 L458.5 131 L458.8 130.4 L459.1 129.8 L459.4 129.9 L459.7 130.7 L460 130.1 L460.3 130.3 L460.6 130.8 L460.9 130.4 L461.2 130.9 L461.5 131.4 L461.8 131.3 L462.1 131.1 L462.4 131 L462.7 130.6 L463 131 L463.3 131.1 L463.6 131.1 L463.9 131 L464.2 131.4 L464.5 130.6 L464.8 131.3 L465.1 131.9 L465.4 130.5 L465.7 130.6 L466 131.9 L466.3 130.6 L466.6 131.6 L466.9 131.3 L467.2 130.3 L467.5 131 L467.8 130.1 L468.1 131.2 L468.4 130.4 L468.7 131.3 L469 131.3 L469.3 130 L469.6 130.2 L469.9 129.7 L470.2 130.5 L470.5 129.5 L470.8 129.3 L471.1 129.3 L471.4 130.4 L471.7 129.5 L472 129.4 L472.3 129.6 L472.6 129.7 L472.9 129.4 L473.2 130.2 L473.5 129.2 L473.8 129.2 L474.1 129.8 L474.4 129 L474.7 129 L475 130.2 L475.3 129.7 L475.6 130.7 L475.9 131 L476.2 130.4 L476.5 130.5 L476.8 130.3 L477.1 131.7 L477.4 131.4 L477.7 131.3 L478 131.2 L478.3 131.5 L478.6 132.7 L478.9 131.9 L479.2 132.6 L479.5 133 L479.8 133.1 L480.1 133.2 L480.4 133.1 L480.7 132.6 L481 134.6 L481.3 135.3 L481.6 134.6 L481.9 133.7 L482.2 135.8 L482.5 134.1 L482.8 133.9 L483.1 135.4 L483.4 136.2 L483.7 135.6 L484 134.2 L484.3 136.6 L484.6 134.6 L484.9 134.9 L485.2 136.9 L485.5 136.7 L485.8 136.6 L486.1 134.6 L486.4 136.6 L486.7 135.6 L487 134.4 L487.3 136.6 L487.6 137.4 L487.9 134.9 L488.2 135.8 L488.5 137.3 L488.8 135.9 L489.1 135.6 L489.4 137.1 L489.7 136.3 L490 137.9 L490.3 137.8 L490.6 137.8 L490.9 137.4 L491.2 135.9 L491.5 137.2 L491.8 137.1 L492.1 136.8 L492.4 137.1 L492.7 136.4 L493 136 L493.3 138.1 L493.6 136.9 L493.9 135.9 L494.2 138.5 L494.5 137.5 L494.8 137.9 L495.1 137 L495.4 136.3 L495.7 136.8 L496 138.5 L496.3 137.1 L496.6 138.8 L496.9 137.3 L497.2 138.9 L497.5 137 L497.8 137.6 L498.1 136.8 L498.4 136.8 L498.7 137.8 L499 137.3 L499.3 137.7 L499.6 136.7 L499.9 136.7 L500.2 136.6 L500.5 138.3 L500.8 136 L501.1 136.5 L501.4 137.8 L501.7 137.1 L502 135.9 L502.3 137.8 L502.6 135.4 L502.9 135 L503.2 134.5 L503.5 135.5 L503.8 136.9 L504.1 135.2 L504.4 134.9 L504.7 136.3 L505 134.2 L505.3 133.6 L505.6 135.4 L505.9 133.8 L506.2 134.8 L506.5 133.7 L506.8 134.8 L507.1 135.6 L507.4 134.4 L507.7 133.6 L508 134.4 L508.3 134.7 L508.6 132.7 L508.9 132.9 L509.2 133.2 L509.5 133.5 L509.8 132.8 L510.1 133.7 L510.4 132.5 L510.7 134.2 L511 132.7 L511.3 132 L511.6 131.3 L511.9 131.3 L512.2 131.4 L512.5 133.4 L512.8 132.1 L513.1 131.9 L513.4 133.4 L513.7 133.5 L514 132.8 L514.3 131 L514.6 130.9 L514.9 131.3 L515.2 130.5 L515.5 130.6 L515.8 130.1 L516.1 130 L516.4 131.4 L516.7 131.1 L517 130.5 L517.3 130.3 L517.6 130.6 L517.9 130.8 L518.2 128.8 L518.5 130.9 L518.8 129.9 L519.1 129.4 L519.4 131.1 L519.7 130.6 L520 129.3 L520.3 128 L520.6 129 L520.9 129.1 L521.2 128.8 L521.5 127.9 L521.8 129.1 L522.1 128.2 L522.4 129.5 L522.7 129 L523 128.1 L523.3 129.5 L523.6 128.5 L523.9 127.2 L524.2 127.5 L524.5 126.8 L524.8 127.7 L525.1 129.2 L525.4 129.5 L525.7 128.6 L526 126.9 L526.3 126.8 L526.6 126.6 L526.9 127 L527.2 127.8 L527.5 126 L527.8 127 L528.1 127 L528.4 127.6 L528.7 128.1 L529 126.9 L529.3 127.3 L529.6 126.3 L529.9 126.6 L530.2 127.2 L530.5 125.4 L530.8 126.5 L531.1 126.6 L531.4 125.6 L531.7 125.6 L532 127.3 L532.3 126 L532.6 125.3 L532.9 125.4 L533.2 126.1 L533.5 125.8 L533.8 125.5 L534.1 125.4 L534.4 125 L534.7 125.7 L535 126.1 L535.3 124.5 L535.6 125.8 L535.9 125 L536.2 126.9 L536.5 127 L536.8 124.5 L537.1 125.8 L537.4 124.9 L537.7 123.9 L538 126 L538.3 126.3 L538.6 125.8 L538.9 125.2 L539.2 126 L539.5 124.8 L539.8 124.8 L540.1 124.7 L540.4 125.1 L540.7 125.1 L541 123.3 L541.3 122.7 L541.6 123.3 L541.9 122.8 L542.2 121.5 L542.5 122.2 L542.8 121.6 L543.1 120.5 L543.4 120 L543.7 120.9 L544 120 L544.3 122.1 L544.6 120.8 L544.9 123.3 L545.2 122.9 L545.5 121.7 L545.8 121.2 L546.1 122.3 L546.4 122 L546.7 122.7 L547 120.9" fill="none" stroke="#2f7b31" stroke-width="1.25" stroke-linejoin="round"/>
<path d="M438.3 150 L438.6 167.5 L438.9 150" fill="none" stroke="#2f7b31" stroke-width="0.6" />
<path d="M451.5 152 L451.9 165 L452.3 150" fill="none" stroke="#2f7b31" stroke-width="0.6" />
<rect x="386.7" y="48.9" width="3.6" height="145.3" fill="#111" />
</g>
<g id="panel-h">
<text x="565.9" y="17" font-size="14.8" fill="#111" font-weight="700" >h</text>
<text x="590.7" y="41.3" font-size="10.1" fill="#111" font-weight="700" textLength="40.4" lengthAdjust="spacingAndGlyphs" >Kindling</text>
<text x="635.9" y="32.2" font-size="10" fill="#2f55a8" font-weight="700" textLength="14.8" lengthAdjust="spacingAndGlyphs" >GS</text>
<text x="667.5" y="23.1" font-size="10.1" fill="#3d9bd0" font-weight="700" textLength="56.6" lengthAdjust="spacingAndGlyphs" >8w abDGCs</text>
<line x1="643.5" y1="37" x2="643.5" y2="51" stroke="#2b4fa2" stroke-width="1.6" />
<path d="M636.8 47.4 L643.5 51 L650.6 47.4 L643.7 63.5 Z" fill="#2b4fa2" />
<path d="M591.3 68.1 L591.6 66 L591.9 68.4 L592.2 65.3 L592.5 67.3 L592.8 66.4 L593.1 68.2 L593.4 65.4 L593.7 66.8 L594 66.2 L594.3 67.9 L594.6 66.1 L594.9 68.2 L595.2 65.4 L595.5 66.9 L595.8 65.9 L596.1 68.4 L596.4 65.6 L596.7 67.7 L597 64.2 L597.3 67.6 L597.6 66.2 L597.9 67 L598.2 66.6 L598.5 68 L598.8 66.2 L599.1 68.8 L599.4 66.9 L599.7 67.9 L600 66.5 L600.3 67.2 L600.6 66.3 L600.9 67.9 L601.2 64.6 L601.5 67.3 L601.8 66 L602.1 68.6 L602.4 65.4 L602.7 68.2 L603 66.4 L603.3 67.8 L603.6 65.7 L603.9 67.5 L604.2 65.9 L604.5 67.1 L604.8 65.6 L605.1 67.1 L605.4 66 L605.7 68.1 L606 66 L606.3 67.7 L606.6 65.8 L606.9 68.2 L607.2 66.6 L607.5 67.7 L607.8 66.1 L608.1 67.9 L608.4 66.4 L608.7 68.1 L609 66 L609.3 68.3 L609.6 66 L609.9 67.4 L610.2 65.8 L610.5 68 L610.8 66.3 L611.1 67.7 L611.4 65.4 L611.7 67 L612 65.9 L612.3 67 L612.6 65.9 L612.9 67.8 L613.2 66.2 L613.5 68.9 L613.8 64.8 L614.1 67.5 L614.4 65.4 L614.7 67.8 L615 65.8 L615.3 68.4 L615.6 65 L615.9 68.6 L616.2 66 L616.5 67.4 L616.8 65.2 L617.1 68.3 L617.4 65.2 L617.7 67.8 L618 66.2 L618.3 68.6 L618.6 65.7 L618.9 68.3 L619.2 65.3 L619.5 67.6 L619.8 65.7 L620.1 68.1 L620.4 64.4 L620.7 67.4 L621 65.8 L621.3 67.6 L621.6 66.2 L621.9 67.5 L622.2 66 L622.5 68 L622.8 65.9 L623.1 67.2 L623.4 66.7 L623.7 67.6 L624 64.9 L624.3 67.9 L624.6 66.4 L624.9 67 L625.2 65.4 L625.5 69.5 L625.8 65.1 L626.1 67.5 L626.4 65.1 L626.7 68.3 L627 65.6 L627.3 66.9 L627.6 66.1 L627.9 68.6 L628.2 65.7 L628.5 68.2 L628.8 66.5 L629.1 68.2 L629.4 65.6 L629.7 67.9 L630 65.4 L630.3 67.9 L630.6 65.4 L630.9 69 L631.2 64.3 L631.5 67.8 L631.8 66.6 L632.1 68.1 L632.4 65.8 L632.7 68.6 L633 65.2 L633.3 67.8 L633.6 65.5 L633.9 68.6 L634.2 64.9 L634.5 68.4 L634.8 66 L635.1 67.5 L635.4 64.6 L635.7 69 L636 65.3 L636.3 67.4 L636.6 64.5 L636.9 67.5 L637.2 66 L637.5 70.5 L637.8 65.2 L638.1 68.8 L638.4 66 L638.7 67.3 L639 65.1 L639.3 69.1 L639.6 65.3 L639.9 68.5 L640.2 65.3 L640.5 68.4 L640.8 66.1 L641.1 67.3 L641.4 65.2 L641.7 68 L642 64 L642.3 67.2 L642.6 65.1 L642.9 67 L643.2 66 L643.5 68.1 L643.8 66.2 L644.1 68.9 L644.4 66.4 L644.7 68.5 L645 64.9 L645.3 68.5 L645.6 66 L645.9 71 L646.2 65.8 L646.5 67.4 L646.8 65.4 L647.1 67.2 L647.4 65.1 L647.7 68.2 L648 64.2 L648.3 68.7 L648.6 65 L648.9 68.9 L649.2 65.1 L649.5 68.2 L649.8 65.3 L650.1 68.4 L650.4 65.3 L650.7 69.9 L651 65.1 L651.3 67.4 L651.6 64 L651.9 67.9 L652.2 63.9 L652.5 69.5 L652.8 65 L653.1 70 L653.4 64.3 L653.7 68.2 L654 66.2 L654.3 69.8 L654.6 65.3 L654.9 68.6 L655.2 65.1 L655.5 70.1 L655.8 64.8 L656.1 68.5 L656.4 66.1 L656.7 68.2 L657 64.4 L657.3 69.8 L657.6 63.2 L657.9 68.5 L658.2 64.1 L658.5 69.5 L658.8 63.9 L659.1 69.6 L659.4 65.1 L659.7 68.9 L660 65.2 L660.3 70 L660.6 63 L660.9 67.8 L661.2 63.3 L661.5 70.4 L661.8 65.5 L662.1 68.6 L662.4 64.5 L662.7 68.1 L663 63.1 L663.3 67.9 L663.6 63.6 L663.9 68 L664.2 64.2 L664.5 69.9 L664.8 66 L665.1 70.8 L665.4 64.6 L665.7 68.4 L666 62.4 L666.3 68.7 L666.6 65.2 L666.9 70 L667.2 65.9 L667.5 71 L667.8 64 L668.1 70.4 L668.4 65.5 L668.7 67.6 L669 65.9 L669.3 70.9 L669.6 62.8 L669.9 71.1 L670.2 65 L670.5 69.5 L670.8 65.7 L671.1 68.8 L671.4 64.7 L671.7 68.1 L672 57.2 L672.3 65.3 L672.6 63.9 L672.9 65.5 L673.2 64.5 L673.5 66.5 L673.8 65.8 L674.1 67 L674.4 66.4 L674.7 67.7 L675 66.9 L675.3 67.8 L675.6 67.3 L675.9 68.4 L676.2 67.6 L676.5 68.5 L676.8 67.2 L677.1 68.4 L677.4 67.8 L677.7 69.3 L678 68.3 L678.3 69.7 L678.6 68.2 L678.9 69.2 L679.2 68.1 L679.5 68.6 L679.8 67.4 L680.1 68.2 L680.4 67.8 L680.7 68.9 L681 66.5 L681.3 68 L681.6 66.3 L681.9 68.1 L682.2 67.2 L682.5 68.5 L682.8 66.8 L683.1 67.7 L683.4 66.7 L683.7 67.7 L684 65.9 L684.3 67.5 L684.6 66.3 L684.9 67.6 L685.2 66.5 L685.5 66.9 L685.8 66.3 L686.1 67.7 L686.4 66 L686.7 67.5 L687 65.9 L687.3 67.7 L687.6 66.3 L687.9 67.3 L688.2 66.4 L688.5 67.1 L688.8 65.5 L689.1 67.9 L689.4 65.9 L689.7 67.4 L690 65.7 L690.3 66.9 L690.6 65.3 L690.9 67.4 L691.2 65.4 L691.5 67.3 L691.8 65.8 L692.1 66.8 L692.4 66.2 L692.7 67.9 L693 66.6 L693.3 67.3 L693.6 66 L693.9 67.8 L694.2 66.3 L694.5 67.7 L694.8 65.6 L695.1 67.7 L695.4 66.5 L695.7 67.5 L696 66.3 L696.3 67.8 L696.6 65.9 L696.9 67.7 L697.2 65.9 L697.5 67.3 L697.8 65.4 L698.1 67 L698.4 65.8 L698.7 68.7 L699 65.7 L699.3 67 L699.6 65.2 L699.9 66.9 L700.2 65.9 L700.5 67.2 L700.8 66.1 L701.1 67 L701.4 66 L701.7 67.3 L702 65.3 L702.3 67.5 L702.6 66.4 L702.9 67.2 L703.2 66.3 L703.5 67.5 L703.8 66.2 L704.1 67.4 L704.4 66 L704.7 67.6 L705 65.9 L705.3 67.3 L705.6 66.9 L705.9 66.9 L706.2 66.2 L706.5 67.4 L706.8 66.3 L707.1 68.1 L707.4 66.3 L707.7 67.7 L708 66.2 L708.3 67.1 L708.6 65.4 L708.9 67.9 L709.2 64.7 L709.5 67.6 L709.8 65.8 L710.1 67.6 L710.4 65.6 L710.7 67.2 L711 65.4 L711.3 67.2 L711.6 65.9 L711.9 67.9 L712.2 65.8 L712.5 67.1 L712.8 65.9 L713.1 67.5 L713.4 66.2 L713.7 67.4 L714 65.5 L714.3 67.3 L714.6 65.7 L714.9 67.5 L715.2 65.3 L715.5 67.9 L715.8 65.8 L716.1 69 L716.4 66.4 L716.7 67.5 L717 66.6 L717.3 67.6 L717.6 65.9 L717.9 67.1 L718.2 65.9 L718.5 67.9 L718.8 66.1 L719.1 68.1 L719.4 66.1 L719.7 67.7 L720 66.1 L720.3 67.5 L720.6 65.7 L720.9 68.1 L721.2 66 L721.5 67.1 L721.8 65.9 L722.1 67.6 L722.4 65.9 L722.7 68.3 L723 65.8 L723.3 67.6 L723.6 66.1 L723.9 67.1 L724.2 66.6 L724.5 67.7 L724.8 65.2 L725.1 68 L725.4 65.7 L725.7 67.2 L726 65.6 L726.3 67.4 L726.6 66.3 L726.9 68.1 L727.2 66.4 L727.5 67 L727.8 65.4 L728.1 67.3 L728.4 66.8 L728.7 67.6 L729 66.4 L729.3 67.5 L729.6 66.3 L729.9 67.5 L730.2 65.9 L730.5 67.1 L730.8 66.2 L731.1 67.4 L731.4 65.6 L731.7 68.7 L732 66.4 L732.3 67.3 L732.6 66.3 L732.9 67.7 L733.2 66.2 L733.5 67.3 L733.8 66.8 L734.1 68.1 L734.4 66.5 L734.7 67.3 L735 66 L735.3 67.7 L735.6 66.4 L735.9 67.6 L736.2 66.8 L736.5 67.2 L736.8 66.4 L737.1 67.2 L737.4 66.8 L737.7 67.8 L738 66.4 L738.3 67.6 L738.6 66.3 L738.9 67.9 L739.2 66.3 L739.5 68 L739.8 65.7 L740.1 67 L740.4 65.9 L740.7 67.9 L741 66 L741.3 67.5 L741.6 66 L741.9 67.2 L742.2 66 L742.5 67.7 L742.8 65.9 L743.1 67.4 L743.4 65.7 L743.7 67 L744 66.5 L744.3 67.3 L744.6 66.5 L744.9 67.7 L745.2 66.1 L745.5 68 L745.8 66.3 L746.1 67.3 L746.4 66.2 L746.7 67.7 L747 66.1 L747.3 67.2 L747.6 65.7 L747.9 67.3 L748.2 64.5 L748.5 67 L748.8 66.4 L749.1 67 L749.4 65.6 L749.7 67.5 L750 66.3 L750.3 67.2 L750.6 66.2 L750.9 68 L751.2 65.7 L751.5 67.6 L751.8 66.1 L752.1 67.8 L752.4 66.5 L752.7 67.2 L753 66.1 L753.3 67.7 L753.6 66.2 L753.9 67.5 L754.2 66.7 L754.5 67.7 L754.8 66.5 L755.1 68 L755.4 65.5 L755.7 68.2 L756 66.5 L756.3 67.8 L756.6 66.2 L756.9 67.6 L757.2 66.9 L757.5 67.2 L757.8 65.5 L758.1 67.6 L758.4 66.3 L758.7 67.1 L759 66.4 L759.3 67.5 L759.6 66.1 L759.9 67.6 L760.2 65.4 L760.5 67.5 L760.8 65.9 L761.1 67.6 L761.4 64.9 L761.7 67.9 L762 66.1 L762.3 67.6 L762.6 65.4 L762.9 67.4 L763.2 65.8 L763.5 67.6 L763.8 66.5 L764.1 67.1 L764.4 65.7 L764.7 67.8 L765 66 L765.3 67.2 L765.6 65.2 L765.9 67.3 L766.2 65.7 L766.5 67.5 L766.8 66.5 L767.1 69 L767.4 66.5 L767.7 67.4 L768 66.6 L768.3 67.7 L768.6 66.3 L768.9 68.2 L769.2 65.6 L769.5 67.6 L769.8 65.8" fill="none" stroke="#2a86c4" stroke-width="0.9" stroke-linejoin="round"/>
<line x1="591.3" y1="66.8" x2="671" y2="66.8" stroke="#2a86c4" stroke-width="1.3" />
<line x1="687" y1="66.8" x2="770" y2="66.8" stroke="#2a86c4" stroke-width="1.3" />
<path d="M669.8 66 L670.3 76 L670.8 66" fill="none" stroke="#2a86c4" stroke-width="0.6" />
<text x="714" y="92.4" font-size="10.1" fill="#111" font-weight="700" textLength="24.7" lengthAdjust="spacingAndGlyphs" >2 mV</text>
<path d="M750 79.3 L750 94.8 L767.2 94.8" fill="none" stroke="#111" stroke-width="1.4" />
<text x="750.1" y="106.5" font-size="10.1" fill="#111" font-weight="700" textLength="18.5" lengthAdjust="spacingAndGlyphs" >10 s</text>
<line x1="592.1" y1="107.8" x2="592.1" y2="192.9" stroke="#111" stroke-width="1.9" />
<line x1="591.1" y1="192" x2="768.6" y2="192" stroke="#111" stroke-width="1.9" />
<line x1="588.5" y1="117.1" x2="592.1" y2="117.1" stroke="#111" stroke-width="1.5" />
<text x="585.8" y="120.7" font-size="10.6" fill="#111" font-weight="700" text-anchor="end" >0</text>
<line x1="588.5" y1="141.3" x2="592.1" y2="141.3" stroke="#111" stroke-width="1.5" />
<text x="585.8" y="144.9" font-size="10.6" fill="#111" font-weight="700" text-anchor="end" >-5</text>
<line x1="588.5" y1="165.7" x2="592.1" y2="165.7" stroke="#111" stroke-width="1.5" />
<text x="585.8" y="169.3" font-size="10.6" fill="#111" font-weight="700" text-anchor="end" >-10</text>
<text x="585.8" y="192.2" font-size="10.6" fill="#111" font-weight="700" text-anchor="end" >-15</text>
<text x="593.3" y="204.9" font-size="10.6" fill="#111" font-weight="700" text-anchor="middle" >- 10</text>
<line x1="610.7" y1="192" x2="610.7" y2="195.4" stroke="#111" stroke-width="1.5" />
<text x="610.7" y="204.9" font-size="10.6" fill="#111" font-weight="700" text-anchor="middle" >0</text>
<line x1="628.1" y1="192" x2="628.1" y2="195.4" stroke="#111" stroke-width="1.5" />
<text x="628.1" y="204.9" font-size="10.6" fill="#111" font-weight="700" text-anchor="middle" >10</text>
<line x1="645.5" y1="192" x2="645.5" y2="195.4" stroke="#111" stroke-width="1.5" />
<text x="645.5" y="204.9" font-size="10.6" fill="#111" font-weight="700" text-anchor="middle" >20</text>
<line x1="662.9" y1="192" x2="662.9" y2="195.4" stroke="#111" stroke-width="1.5" />
<text x="662.9" y="204.9" font-size="10.6" fill="#111" font-weight="700" text-anchor="middle" >30</text>
<line x1="680.3" y1="192" x2="680.3" y2="195.4" stroke="#111" stroke-width="1.5" />
<text x="680.3" y="204.9" font-size="10.6" fill="#111" font-weight="700" text-anchor="middle" >40</text>
<line x1="697.8" y1="192" x2="697.8" y2="195.4" stroke="#111" stroke-width="1.5" />
<text x="697.8" y="204.9" font-size="10.6" fill="#111" font-weight="700" text-anchor="middle" >50</text>
<line x1="715.2" y1="192" x2="715.2" y2="195.4" stroke="#111" stroke-width="1.5" />
<text x="715.2" y="204.9" font-size="10.6" fill="#111" font-weight="700" text-anchor="middle" >60</text>
<line x1="732.6" y1="192" x2="732.6" y2="195.4" stroke="#111" stroke-width="1.5" />
<text x="732.6" y="204.9" font-size="10.6" fill="#111" font-weight="700" text-anchor="middle" >70</text>
<line x1="750" y1="192" x2="750" y2="195.4" stroke="#111" stroke-width="1.5" />
<text x="750" y="204.9" font-size="10.6" fill="#111" font-weight="700" text-anchor="middle" >80</text>
<text transform="translate(571.6 151.4) rotate(-90)" font-size="10.6" fill="#111" text-anchor="middle" font-weight="700">&#916;F/F(%)</text>
<text x="681.5" y="220" font-size="10.6" fill="#111" font-weight="700" text-anchor="middle" >Time (s)</text>
<path d="M592.1 115.1 L592.4 115.7 L592.7 117.2 L593 118.4 L593.3 117.8 L593.6 115.5 L593.9 116.3 L594.2 116.5 L594.5 116 L594.8 116.2 L595.1 117.3 L595.4 117 L595.7 116.7 L596 117.2 L596.3 119.3 L596.6 118.4 L596.9 118.9 L597.2 119.7 L597.5 116.7 L597.8 119.3 L598.1 117 L598.4 117 L598.7 119.1 L599 119.5 L599.3 121.6 L599.6 123.5 L599.9 126.8 L600.2 124.9 L600.5 122.9 L600.8 121.9 L601.1 120.5 L601.4 119.2 L601.7 121.5 L602 121.1 L602.3 118.3 L602.6 117.5 L602.9 116.3 L603.2 117.3 L603.5 115.8 L603.8 113.8 L604.1 116.5 L604.4 117.2 L604.7 114.4 L605 115.6 L605.3 115.2 L605.6 116.8 L605.9 116.3 L606.2 116.2 L606.5 116.4 L606.8 117.8 L607.1 117.9 L607.4 118.2 L607.7 119.2 L608 118.9 L608.3 120.9 L608.6 119.7 L608.9 121.1 L609.2 122.1 L609.5 121.4 L609.8 121.5 L610.1 122.5 L610.4 122.7 L610.7 121.2 L611 122.1 L611.3 121.6 L611.6 121.3 L611.9 124 L612.2 123.6 L612.5 123.7 L612.8 123.2 L613.1 123.1 L613.4 124.5 L613.7 123.9 L614 124 L614.3 124.5 L614.6 125 L614.9 124.6 L615.2 123.4 L615.5 124.9 L615.8 123.3 L616.1 123.9 L616.4 124.1 L616.7 123.3 L617 124.4 L617.3 124 L617.6 124.1 L617.9 122.8 L618.2 124.1 L618.5 123.1 L618.8 124.1 L619.1 124.8 L619.4 124.3 L619.7 124.5 L620 124.9 L620.3 126.7 L620.6 126.6 L620.9 126.5 L621.2 127 L621.5 127.6 L621.8 127.2 L622.1 127 L622.4 127.4 L622.7 128.8 L623 129.3 L623.3 130.6 L623.6 130.3 L623.9 131.1 L624.2 131.8 L624.5 131.2 L624.8 131.2 L625.1 131.6 L625.4 131.8 L625.7 133 L626 133.1 L626.3 132.3 L626.6 133.9 L626.9 133.2 L627.2 133.6 L627.5 133.2 L627.8 133.2 L628.1 133.1 L628.4 132.1 L628.7 132 L629 133.2 L629.3 132.6 L629.6 132 L629.9 133.3 L630.2 133.4 L630.5 133.4 L630.8 132.6 L631.1 131.8 L631.4 133.1 L631.7 132.1 L632 132.9 L632.3 133.1 L632.6 132.1 L632.9 131.4 L633.2 132.5 L633.5 133.1 L633.8 132.7 L634.1 133.5 L634.4 132 L634.7 132.8 L635 132.3 L635.3 132.5 L635.6 131.9 L635.9 131.6 L636.2 132.3 L636.5 132.5 L636.8 133.1 L637.1 132.5 L637.4 132.2 L637.7 132.5 L638 132.6 L638.3 132.5 L638.6 132.6 L638.9 133.9 L639.2 133.8 L639.5 133.4 L639.8 134.1 L640.1 134.5 L640.4 136.7 L640.7 137.2 L641 136.8 L641.3 138.8 L641.6 137 L641.9 137.2 L642.2 139.7 L642.5 140.1 L642.8 139.2 L643.1 141.8 L643.4 138.1 L643.7 140.6 L644 140.2 L644.3 136.7 L644.6 129.3 L644.9 128.1 L645.2 123.2 L645.5 125.3 L645.8 124.6 L646.1 128.1 L646.4 130.4 L646.7 134.4 L647 133.5 L647.3 135.4 L647.6 136.2 L647.9 140 L648.2 137.7 L648.5 141.9 L648.8 139.3 L649.1 139.6 L649.4 144 L649.7 142.8 L650 144.4 L650.3 142.9 L650.6 142.6 L650.9 143.6 L651.2 147.4 L651.5 144.3 L651.8 148 L652.1 148.9 L652.4 148.4 L652.7 146.6 L653 149.2 L653.3 151 L653.6 150 L653.9 148.4 L654.2 150.6 L654.5 153.2 L654.8 152.1 L655.1 150.1 L655.4 150.5 L655.7 152.7 L656 149.6 L656.3 148.6 L656.6 150.1 L656.9 149.5 L657.2 150.3 L657.5 147.9 L657.8 149.8 L658.1 150.4 L658.4 148.3 L658.7 149.1 L659 148.6 L659.3 149.6 L659.6 148.4 L659.9 148.2 L660.2 147.5 L660.5 148.5 L660.8 144.5 L661.1 143.7 L661.4 147.3 L661.7 147.5 L662 143.1 L662.3 146.9 L662.6 145.8 L662.9 146.8 L663.2 146 L663.5 144 L663.8 142.2 L664.1 145.2 L664.4 145.2 L664.7 143.8 L665 142.4 L665.3 142.5 L665.6 145.3 L665.9 143.1 L666.2 141.3 L666.5 144.9 L666.8 145.3 L667.1 141 L667.4 140.3 L667.7 142.8 L668 141.3 L668.3 141.4 L668.6 141.7 L668.9 140.7 L669.2 141.1 L669.5 140.2 L669.8 139.9 L670.1 140.4 L670.4 140.1 L670.7 140.9 L671 139.2 L671.3 141.2 L671.6 140.4 L671.9 140.8 L672.2 140.8 L672.5 141.6 L672.8 143.6 L673.1 142.9 L673.4 144.2 L673.7 145.1 L674 145 L674.3 144.2 L674.6 145 L674.9 144.9 L675.2 145.5 L675.5 146.1 L675.8 146.2 L676.1 147.8 L676.4 148 L676.7 147.9 L677 148.2 L677.3 148.4 L677.6 148.8 L677.9 149.9 L678.2 149.6 L678.5 151 L678.8 151 L679.1 152.5 L679.4 152 L679.7 153.6 L680 154.4 L680.3 154.9 L680.6 153.8 L680.9 155.5 L681.2 154.9 L681.5 156 L681.8 155.4 L682.1 155.8 L682.4 155.4 L682.7 156.7 L683 156.2 L683.3 157.5 L683.6 157.6 L683.9 157.2 L684.2 156.5 L684.5 157.1 L684.8 157.8 L685.1 158 L685.4 158.7 L685.7 157.8 L686 158.9 L686.3 160.2 L686.6 160.8 L686.9 160.5 L687.2 160.7 L687.5 160.8 L687.8 161.9 L688.1 161.8 L688.4 161.3 L688.7 161.5 L689 162.8 L689.3 162.3 L689.6 162.6 L689.9 162.2 L690.2 163.2 L690.5 163.2 L690.8 164.4 L691.1 164.9 L691.4 165.2 L691.7 165.4 L692 163.6 L692.3 163.7 L692.6 164.5 L692.9 165.9 L693.2 165.8 L693.5 165.3 L693.8 165.1 L694.1 165.6 L694.4 165.7 L694.7 165.3 L695 166.3 L695.3 164.9 L695.6 164.3 L695.9 164.9 L696.2 163.6 L696.5 164.6 L696.8 164 L697.1 164.1 L697.4 163.7 L697.7 164 L698 163.3 L698.3 163.7 L698.6 164 L698.9 164.3 L699.2 165.7 L699.5 165.1 L699.8 166.1 L700.1 166.1 L700.4 165.2 L700.7 165.6 L701 166.7 L701.3 167.6 L701.6 166.7 L701.9 166.9 L702.2 167.4 L702.5 170.3 L702.8 173 L703.1 176.7 L703.4 178.9 L703.7 178 L704 178.1 L704.3 178.4 L704.6 177.7 L704.9 178.1 L705.2 177.4 L705.5 178.6 L705.8 179.2 L706.1 179.3 L706.4 178.7 L706.7 178.1 L707 178.4 L707.3 178.4 L707.6 177.5 L707.9 178.2 L708.2 178.2 L708.5 177.5 L708.8 177.9 L709.1 178.9 L709.4 178.5 L709.7 177.8 L710 177.5 L710.3 178.3 L710.6 178.2 L710.9 177.6 L711.2 177.9 L711.5 177.8 L711.8 178.2 L712.1 178.8 L712.4 177.8 L712.7 178 L713 178.1 L713.3 177.9 L713.6 176.4 L713.9 175.7 L714.2 176.5 L714.5 174.4 L714.8 174.8 L715.1 172.5 L715.4 173 L715.7 172.3 L716 170.4 L716.3 169.3 L716.6 173.3 L716.9 167.8 L717.2 167.1 L717.5 170.1 L717.8 167.8 L718.1 165.9 L718.4 168.6 L718.7 169.7 L719 164.7 L719.3 166.6 L719.6 164.5 L719.9 167.4 L720.2 165 L720.5 165.9 L720.8 164.2 L721.1 160.4 L721.4 161.2 L721.7 162.5 L722 158.9 L722.3 157.5 L722.6 162.3 L722.9 162.1 L723.2 160 L723.5 155.8 L723.8 158.5 L724.1 160.2 L724.4 158.8 L724.7 157.7 L725 155.4 L725.3 155.8 L725.6 157.2 L725.9 154.4 L726.2 151 L726.5 150.4 L726.8 154.9 L727.1 153.9 L727.4 154.9 L727.7 150.2 L728 149 L728.3 152.1 L728.6 150.9 L728.9 150.7 L729.2 149.1 L729.5 151.9 L729.8 152.2 L730.1 151.7 L730.4 149.7 L730.7 149.5 L731 148.8 L731.3 148.9 L731.6 147.9 L731.9 148.4 L732.2 151.2 L732.5 150.5 L732.8 146.2 L733.1 148.6 L733.4 149.6 L733.7 146.8 L734 149.4 L734.3 149.9 L734.6 144.7 L734.9 147.4 L735.2 146.4 L735.5 146.9 L735.8 147.5 L736.1 149.6 L736.4 148.6 L736.7 150.1 L737 146.6 L737.3 149.5 L737.6 147.5 L737.9 146.1 L738.2 149.7 L738.5 149 L738.8 146.9 L739.1 150.6 L739.4 148.9 L739.7 149.8 L740 151.9 L740.3 148.4 L740.6 149.2 L740.9 149.5 L741.2 148 L741.5 149.4 L741.8 152.3 L742.1 151.2 L742.4 148.5 L742.7 150.4 L743 150.2 L743.3 148.5 L743.6 150 L743.9 148.3 L744.2 150.3 L744.5 148.2 L744.8 150.3 L745.1 147.4 L745.4 146 L745.7 146.7 L746 145.4 L746.3 149.6 L746.6 150.8 L746.9 147.4 L747.2 145.7 L747.5 149.2 L747.8 149.4 L748.1 145.6 L748.4 145.3 L748.7 146.3 L749 144.1 L749.3 144.1 L749.6 145.1 L749.9 143.5 L750.2 143.3 L750.5 146.1 L750.8 144.7 L751.1 148.2 L751.4 149.1 L751.7 147.5 L752 144.9 L752.3 147.5 L752.6 145.4 L752.9 148.3 L753.2 146.1 L753.5 147.4 L753.8 147.9 L754.1 147.8 L754.4 148.1 L754.7 145.7 L755 144.2 L755.3 145.3 L755.6 149.1 L755.9 144.2 L756.2 144.9 L756.5 145.2 L756.8 146.1 L757.1 148.8 L757.4 145.1 L757.7 144.2 L758 143.6 L758.3 145.6 L758.6 148.4 L758.9 147.3 L759.2 148.5 L759.5 148 L759.8 147.2 L760.1 147.5 L760.4 145.5 L760.7 150.8 L761 150.4 L761.3 146.7 L761.6 147 L761.9 150.6 L762.2 149.7 L762.5 151.2 L762.8 151.6 L763.1 148.1 L763.4 151.8 L763.7 148.8 L764 148.2 L764.3 151.9 L764.6 153 L764.9 150.2 L765.2 150.5 L765.5 152.8 L765.8 150.6" fill="none" stroke="#2a86c4" stroke-width="1.25" stroke-linejoin="round"/>
<path d="M703.3 176 L703.5 190.5 L703.7 176" fill="none" stroke="#2a86c4" stroke-width="0.6" />
<rect x="608.2" y="46.1" width="3.6" height="146.6" fill="#111" />
</g>
<g id="panel-i">
<text x="341.6" y="239.7" font-size="14.8" fill="#111" font-weight="700" >i</text>
<rect x="504.5" y="233.8" width="13.7" height="9.8" fill="#2f9c50" />
<text x="524" y="242.1" font-size="10.4" fill="#2f8f48" font-weight="700" textLength="42" lengthAdjust="spacingAndGlyphs" >4w (n=8)</text>
<rect x="504.5" y="250.2" width="13.7" height="9.8" fill="#3f9fdc" />
<text x="524" y="258.7" font-size="10.4" fill="#1c6fb8" font-weight="700" textLength="42" lengthAdjust="spacingAndGlyphs" >8w (n=6)</text>
<path d="M367 270.9 L367.5 270.7 L368 270 L368.5 271.5 L369 269.9 L369.5 270.6 L370 271.8 L370.5 270.2 L371 270.8 L371.5 271.1 L372 269.8 L372.5 270.2 L373 271.1 L373.5 270.8 L374 271.3 L374.5 270.1 L375 270 L375.5 269.6 L376 270.4 L376.5 271.7 L377 271.2 L377.5 271.5 L378 270.7 L378.5 271.3 L379 269.9 L379.5 269.9 L380 270.8 L380.5 271.2 L381 270.6 L381.5 269.6 L382 269.7 L382.5 269.6 L383 269.7 L383.5 271 L384 270 L384.5 271.3 L385 271.6 L385.5 269.5 L386 269.4 L386.5 269.4 L387 268.1 L387.5 268.4 L388 269.4 L388.5 267.6 L389 268 L389.5 267.3 L390 268.3 L390.5 269.5 L391 268.4 L391.5 267.7 L392 267.8 L392.5 269 L393 268.1 L393.5 268.1 L394 269.1 L394.5 270.4 L395 269.7 L395.5 269.5 L396 270 L396.5 268.9 L397 269.8 L397.5 269.1 L398 270 L398.5 271.1 L399 269.3 L399.5 270.1 L400 270.4 L400.5 269.4 L401 269.3 L401.5 271 L402 271.5 L402.5 269.5 L403 270.3 L403.5 271.1 L404 269.6 L404.5 270 L405 268.7 L405.5 269.1 L406 269.9 L406.5 269.9 L407 270.3 L407.5 268.7 L408 269.1 L408.5 270.6 L409 270.6 L409.5 270.5 L410 270.5 L410.5 272 L411 271.7 L411.5 270.4 L412 272.1 L412.5 271.7 L413 272 L413.5 271.7 L414 272.3 L414.5 272.4 L415 272.1 L415.5 273.4 L416 272.8 L416.5 274.5 L417 273.4 L417.5 275 L418 275.8 L418.5 275.5 L419 276.1 L419.5 275.4 L420 276.6 L420.5 276.4 L421 276.1 L421.5 278 L422 277.4 L422.5 277.4 L423 278.7 L423.5 278.1 L424 278.8 L424.5 278 L425 279.6 L425.5 278.8 L426 278.3 L426.5 280.5 L427 279.4 L427.5 281.1 L428 281.9 L428.5 281.4 L429 280 L429.5 279.9 L430 280.3 L430.5 281.1 L431 282.2 L431.5 283.6 L432 282.9 L432.5 282.4 L433 283.6 L433.5 283.2 L434 283.2 L434.5 284.7 L435 285.7 L435.5 284.8 L436 285.7 L436.5 286.9 L437 287.7 L437.5 287.3 L438 288.6 L438.5 287.5 L439 288.8 L439.5 289.5 L440 290.2 L440.5 289.7 L441 288.8 L441.5 288.7 L442 290 L442.5 289.8 L443 291.1 L443.5 290.4 L444 292 L444.5 291.2 L445 290.3 L445.5 290.4 L446 291 L446.5 291.4 L447 291 L447.5 290.3 L448 290.8 L448.5 292 L449 291.3 L449.5 292 L450 289.9 L450.5 291.6 L451 291.8 L451.5 290.9 L452 290.6 L452.5 290.4 L453 291.2 L453.5 289.4 L454 290.4 L454.5 290.6 L455 290.2 L455.5 291.2 L456 291.6 L456.5 290.4 L457 291.5 L457.5 291.4 L458 291.6 L458.5 292.1 L459 291 L459.5 292.1 L460 292 L460.5 293.2 L461 292.2 L461.5 293 L462 292.8 L462.5 292.3 L463 292.6 L463.5 290.5 L464 291 L464.5 291 L465 290.9 L465.5 290.1 L466 288.8 L466.5 288.6 L467 289.3 L467.5 288.7 L468 288.4 L468.5 289.2 L469 289.8 L469.5 290.4 L470 289.4 L470.5 291.1 L471 290.7 L471.5 291.8 L472 290.5 L472.5 292.5 L473 292.4 L473.5 293.2 L474 293.4 L474.5 293 L475 291.1 L475.5 291 L476 290.6 L476.5 291.8 L477 290.6 L477.5 290.3 L478 289.9 L478.5 289.7 L479 291.5 L479.5 292.1 L480 290.9 L480.5 291.4 L481 290.9 L481.5 290.9 L482 290.5 L482.5 291 L483 290.2 L483.5 290 L484 290.6 L484.5 290 L485 290.4 L485.5 291.8 L486 289.9 L486.5 289.6 L487 291.2 L487.5 289.8 L488 289.9 L488.5 291.4 L489 291.5 L489.5 290.7 L490 290.2 L490.5 290.7 L491 291 L491.5 292.5 L492 293.4 L492.5 293.4 L493 293.8 L493.5 294.1 L494 294.2 L494.5 294.5 L495 294.8 L495.5 292.9 L496 293 L496.5 292.9 L497 293.9 L497.5 294 L498 293.8 L498.5 295 L499 294.5 L499.5 293.9 L500 294.1 L500.5 294.7 L501 295.3 L501.5 295.5 L502 295.4 L502.5 294.8 L503 295.3 L503.5 295.3 L504 295.1 L504.5 296 L505 295.6 L505.5 296.8 L506 297.1 L506.5 296.1 L507 297.1 L507.5 296.8 L508 297.1 L508.5 297.7 L509 298.4 L509.5 299 L510 298.9 L510.5 297.8 L511 298.3 L511.5 298.1 L512 297.4 L512.5 298.6 L513 298.9 L513.5 300 L514 299.2 L514.5 300.3 L515 300 L515.5 299 L516 300.3 L516.5 299.8 L517 300.3 L517.5 299.5 L518 299.2 L518.5 301.3 L519 299.6 L519.5 299.3 L520 299.1 L520.5 298.8 L521 300.3 L521.5 301.1 L522 300.4 L522.5 299.4 L523 300.2 L523.5 299.5 L524 298.2 L524.5 299.1 L525 298.4 L525.5 297.9 L526 297.8 L526.5 297.8 L527 297.2 L527.5 297.9 L528 298.7 L528.5 298.1 L529 296.4 L529.5 297.4 L530 296 L530.5 296.6 L531 297.6 L531.5 297.3 L532 297.7 L532.5 297.4 L533 296 L533.5 295.2 L534 295.7 L534.5 296.2 L535 295.3 L535.5 295.1 L536 296 L536.5 295.2 L537 295.5 L537.5 295.3 L538 296.1 L538.5 294.1 L539 293.8 L539.5 295 L540 295.1 L540.5 293.6 L541 293.2 L541.5 293.1 L542 293.8 L542.5 294.8 L543 293.4 L543.5 292.8 L544 293.7 L544.5 293.3 L545 294.1 L545.5 294.6 L546 294.5 L546.5 293.9 L547 293.1 L547.5 291.7 L548 293 L548.5 292.3 L549 292.2 L549.5 292.5 L550 293.2 L550.5 292.4 L551 293 L551.5 293.1 L552 291 L552.5 290.9 L553 292.1 L553.5 292.1 L554 292.4 L554.5 290.6 L555 290.8 L555.5 291.7 L556 291 L556.5 291 L557 291.6 L557.5 289.8 L558 288.9 L558.5 290.4 L559 290.1 L559.5 289.1 L560 290.2 L560.5 289.1 L561 288.3 L561.5 288.4 L562 287.7 L562.5 288.3 L563 289.3 L563.5 288.7 L564 289.8 L564.5 287.8 L565 287.4 L565.5 287.2 L566 288.1 L566.5 287.4 L567 288.3 L567.5 288.1 L568 288.2 L568.5 288.8 L569 288.7 L569.5 289 L570 287.2 L570.5 287.1 L571 288.4 L571.5 287.4 L572 286.8 L572.5 287 L573 286.3 L573.5 287.6 L574 287.4 L574.5 286 L575 287.7 L575.5 287.3 L576 286.6 L576.5 287.4 L577 288.5 L577.5 287.5 L578 286.5 L578.5 286.7 L579 286.5 L579.5 287.7 L580 287.6 L580.5 289 L581 287.9 L581.5 287.2 L582 288.2 L582.5 287.8 L582.5 317.2 L582 318.1 L581.5 316.7 L581 317.1 L580.5 316.9 L580 316.8 L579.5 316.2 L579 316.8 L578.5 315.7 L578 313.5 L577.5 313.6 L577 313.5 L576.5 313.9 L576 315.4 L575.5 314.9 L575 313.9 L574.5 313.9 L574 314.5 L573.5 315.1 L573 314.4 L572.5 314.4 L572 313.6 L571.5 314.2 L571 315.1 L570.5 316.3 L570 316 L569.5 314.7 L569 315.5 L568.5 316.6 L568 316.8 L567.5 316.6 L567 317.2 L566.5 317.5 L566 318.7 L565.5 317.7 L565 317.6 L564.5 318.1 L564 318 L563.5 318.4 L563 320.5 L562.5 320.8 L562 321.1 L561.5 320.2 L561 321 L560.5 322.7 L560 322.9 L559.5 322.5 L559 322.4 L558.5 322.7 L558 323.6 L557.5 323.4 L557 323.7 L556.5 324 L556 323.9 L555.5 324.5 L555 325.1 L554.5 327.4 L554 326.6 L553.5 328 L553 328.8 L552.5 328.5 L552 329 L551.5 328.9 L551 328.9 L550.5 329.6 L550 330.4 L549.5 329.4 L549 329.9 L548.5 330.9 L548 330.4 L547.5 331.7 L547 332.3 L546.5 331.9 L546 333 L545.5 333.2 L545 332.8 L544.5 333.5 L544 334.3 L543.5 335.4 L543 336.6 L542.5 335.5 L542 335.8 L541.5 336.1 L541 336.1 L540.5 336.9 L540 338.3 L539.5 339.2 L539 338.8 L538.5 340.6 L538 340.9 L537.5 341.6 L537 341 L536.5 342 L536 343.7 L535.5 343.6 L535 342.3 L534.5 344 L534 344.4 L533.5 343.3 L533 343.8 L532.5 344.5 L532 345.4 L531.5 346.4 L531 347.6 L530.5 348.7 L530 348.6 L529.5 348.5 L529 350.7 L528.5 350.7 L528 349.9 L527.5 349.9 L527 350.4 L526.5 352 L526 351 L525.5 351.4 L525 353.2 L524.5 352.3 L524 353.9 L523.5 354.1 L523 354 L522.5 355.1 L522 354.8 L521.5 355.5 L521 355.9 L520.5 356.2 L520 357.5 L519.5 358.3 L519 359.8 L518.5 358.7 L518 360.1 L517.5 360.7 L517 361.2 L516.5 359.6 L516 359.5 L515.5 359 L515 357.9 L514.5 355.7 L514 355.1 L513.5 354.2 L513 354.3 L512.5 354.2 L512 352.8 L511.5 352.4 L511 351.3 L510.5 351.9 L510 352.1 L509.5 351.4 L509 350.3 L508.5 349.9 L508 349.3 L507.5 348 L507 346 L506.5 346 L506 346.6 L505.5 345.2 L505 345.3 L504.5 345 L504 343.4 L503.5 342.8 L503 342.7 L502.5 341.5 L502 341.9 L501.5 339.5 L501 339.3 L500.5 338.6 L500 338.7 L499.5 339.4 L499 337.7 L498.5 338.8 L498 337.3 L497.5 337.2 L497 337.1 L496.5 336.8 L496 335.3 L495.5 335.9 L495 334.4 L494.5 335.6 L494 335.2 L493.5 333.7 L493 332.4 L492.5 332.8 L492 331.6 L491.5 331.5 L491 331.6 L490.5 331 L490 331.5 L489.5 331.1 L489 331.6 L488.5 332.9 L488 332.3 L487.5 331.5 L487 331.9 L486.5 331.8 L486 330.9 L485.5 329.3 L485 330.6 L484.5 330.4 L484 330.1 L483.5 330.5 L483 329.2 L482.5 329 L482 329.4 L481.5 328.9 L481 329.9 L480.5 329.1 L480 329.5 L479.5 329.8 L479 330.1 L478.5 330.2 L478 330 L477.5 329 L477 330.3 L476.5 328.5 L476 329.2 L475.5 330.6 L475 330.7 L474.5 329.2 L474 329.6 L473.5 329.9 L473 331.3 L472.5 330 L472 330.7 L471.5 331.6 L471 330.2 L470.5 330.8 L470 331.9 L469.5 331.6 L469 332.8 L468.5 333.6 L468 333.3 L467.5 332.3 L467 332 L466.5 332.1 L466 331.9 L465.5 331.3 L465 330.5 L464.5 330.8 L464 332.2 L463.5 330.8 L463 331.3 L462.5 329.9 L462 329.6 L461.5 330.7 L461 329.8 L460.5 329.5 L460 330.1 L459.5 329.3 L459 328.6 L458.5 327.8 L458 328.4 L457.5 327 L457 327.6 L456.5 328.8 L456 328.7 L455.5 327 L455 327.6 L454.5 326.4 L454 326.5 L453.5 327.2 L453 326.1 L452.5 326 L452 325.6 L451.5 325.8 L451 325.5 L450.5 324.1 L450 322.5 L449.5 322.4 L449 322 L448.5 322.7 L448 321.7 L447.5 320 L447 320.9 L446.5 318.6 L446 318.5 L445.5 319.1 L445 317.4 L444.5 317.8 L444 317.9 L443.5 317.5 L443 318.4 L442.5 317.5 L442 315.9 L441.5 317 L441 317.3 L440.5 316.4 L440 314.6 L439.5 314.3 L439 315.1 L438.5 315.4 L438 314.2 L437.5 313.8 L437 313.3 L436.5 314.7 L436 314.1 L435.5 314.1 L435 313.1 L434.5 314.5 L434 313.9 L433.5 313 L433 312.3 L432.5 313.1 L432 311.9 L431.5 309.6 L431 308.3 L430.5 306.3 L430 303.1 L429.5 302.7 L429 300.3 L428.5 299.5 L428 297.2 L427.5 295.5 L427 294.2 L426.5 293.6 L426 290.8 L425.5 290.7 L425 291.2 L424.5 290.2 L424 289.3 L423.5 286.7 L423 286.9 L422.5 285.7 L422 285.6 L421.5 287.3 L421 287.9 L420.5 287.1 L420 287.5 L419.5 287.2 L419 286.4 L418.5 287.4 L418 287.4 L417.5 287.1 L417 286.7 L416.5 288.3 L416 288.2 L415.5 287.2 L415 286.7 L414.5 287.4 L414 287.3 L413.5 286.9 L413 286.4 L412.5 286.6 L412 285.9 L411.5 284.9 L411 285.3 L410.5 285.1 L410 284.1 L409.5 284.1 L409 283.2 L408.5 282.6 L408 283.7 L407.5 282.7 L407 281.3 L406.5 282.2 L406 281.7 L405.5 281.9 L405 280.4 L404.5 281.5 L404 279.6 L403.5 279.7 L403 279.7 L402.5 278.6 L402 278.9 L401.5 277.4 L401 277.1 L400.5 277.3 L400 276.7 L399.5 277.5 L399 279.2 L398.5 279 L398 278.8 L397.5 278.2 L397 276.7 L396.5 276.4 L396 275.7 L395.5 276.7 L395 277.1 L394.5 277.2 L394 276.5 L393.5 275.7 L393 277.1 L392.5 275.5 L392 275.7 L391.5 273.4 L391 273.7 L390.5 272.8 L390 272.6 L389.5 273.2 L389 273 L388.5 273.1 L388 272 L387.5 273.8 L387 273.7 L386.5 274.4 L386 273.7 L385.5 274.5 L385 274.8 L384.5 276.1 L384 274.6 L383.5 276.6 L383 275.8 L382.5 276 L382 277.3 L381.5 276.8 L381 276.5 L380.5 277.6 L380 277 L379.5 277.1 L379 276.6 L378.5 278.6 L378 278.1 L377.5 277.9 L377 276.9 L376.5 278.4 L376 278.1 L375.5 278 L375 278.9 L374.5 278.7 L374 277 L373.5 277.4 L373 278.1 L372.5 279.2 L372 278 L371.5 279.1 L371 279.3 L370.5 277.8 L370 278.1 L369.5 277.5 L369 278.3 L368.5 276.9 L368 275.6 L367.5 275.5 L367 275.5 Z" fill="#97c9ec" opacity="1"/>
<path d="M367 267.5 L367.5 267.3 L368 268.1 L368.5 268.3 L369 268.4 L369.5 268.4 L370 267.7 L370.5 267.6 L371 267.5 L371.5 268.1 L372 267.3 L372.5 267.4 L373 267.8 L373.5 267.9 L374 267.1 L374.5 267 L375 267.1 L375.5 267.1 L376 267.5 L376.5 267 L377 267.8 L377.5 267.5 L378 267.7 L378.5 267.4 L379 267.8 L379.5 267.1 L380 267.7 L380.5 267.2 L381 267.3 L381.5 267.4 L382 267.5 L382.5 267.4 L383 267.6 L383.5 266.8 L384 267.1 L384.5 267.2 L385 267.3 L385.5 266.7 L386 267.3 L386.5 266.6 L387 266.4 L387.5 266.3 L388 267.4 L388.5 266.7 L389 267.1 L389.5 266.5 L390 267 L390.5 266.7 L391 267.1 L391.5 267.3 L392 267.4 L392.5 267.2 L393 267.4 L393.5 266.6 L394 266.4 L394.5 266.6 L395 266.9 L395.5 267.4 L396 266.6 L396.5 266.6 L397 267 L397.5 266.9 L398 266.6 L398.5 266.7 L399 266.5 L399.5 266.4 L400 267.4 L400.5 267 L401 267.3 L401.5 266.7 L402 267.1 L402.5 267.3 L403 266.3 L403.5 266.6 L404 267.1 L404.5 267 L405 266.1 L405.5 266.5 L406 266.6 L406.5 265.9 L407 266.2 L407.5 266.2 L408 265.9 L408.5 266.8 L409 267.3 L409.5 266.7 L410 267.2 L410.5 267.7 L411 267.3 L411.5 268 L412 268.9 L412.5 268.7 L413 269 L413.5 269.8 L414 270.1 L414.5 270.5 L415 269.8 L415.5 270.8 L416 270.4 L416.5 270.3 L417 270.2 L417.5 271 L418 271.1 L418.5 271 L419 271.1 L419.5 271.3 L420 271.5 L420.5 271.1 L421 271.8 L421.5 271.5 L422 271.2 L422.5 272.4 L423 271.8 L423.5 272.5 L424 272.8 L424.5 272.6 L425 272.8 L425.5 272.5 L426 272.5 L426.5 273.4 L427 273.6 L427.5 273.8 L428 273.5 L428.5 273 L429 273.9 L429.5 274.4 L430 273.9 L430.5 274.2 L431 273.9 L431.5 274.8 L432 274.9 L432.5 274.3 L433 274.9 L433.5 275.2 L434 275.1 L434.5 275.4 L435 276 L435.5 275.9 L436 275.8 L436.5 276.4 L437 276.3 L437.5 276.6 L438 276.5 L438.5 276.9 L439 277.3 L439.5 277.3 L440 277.4 L440.5 277.4 L441 278.1 L441.5 278.7 L442 278.6 L442.5 278.4 L443 279.4 L443.5 279.8 L444 280.1 L444.5 279.8 L445 280.8 L445.5 281.2 L446 281.4 L446.5 280.8 L447 280.8 L447.5 281.2 L448 280.7 L448.5 281.8 L449 281.3 L449.5 281.1 L450 281.9 L450.5 281.6 L451 281.9 L451.5 282.2 L452 281.8 L452.5 281.6 L453 282.4 L453.5 282.9 L454 283 L454.5 282.2 L455 282.3 L455.5 282.5 L456 282.1 L456.5 283 L457 283.3 L457.5 283.5 L458 283.6 L458.5 283.6 L459 282.9 L459.5 283.2 L460 283.6 L460.5 282.7 L461 282.6 L461.5 283.4 L462 282.5 L462.5 283.1 L463 282.6 L463.5 282.1 L464 282 L464.5 282.5 L465 282.3 L465.5 281.5 L466 282 L466.5 281.4 L467 281.7 L467.5 281.3 L468 281.5 L468.5 281.1 L469 280.7 L469.5 281.3 L470 281.4 L470.5 280.8 L471 280.5 L471.5 280.5 L472 280.5 L472.5 279.9 L473 280.5 L473.5 280 L474 280.4 L474.5 280 L475 280.2 L475.5 280.2 L476 279.4 L476.5 278.8 L477 279.3 L477.5 279.4 L478 279.1 L478.5 279.1 L479 278.9 L479.5 278.6 L480 279 L480.5 279.1 L481 279.1 L481.5 279.5 L482 279.1 L482.5 279.4 L483 279.4 L483.5 279.1 L484 279 L484.5 278.6 L485 279.1 L485.5 279.4 L486 279.6 L486.5 279.4 L487 279.6 L487.5 279.1 L488 278.8 L488.5 279.3 L489 279.1 L489.5 278.3 L490 279 L490.5 278.9 L491 279.1 L491.5 278.6 L492 278.8 L492.5 278.7 L493 278.7 L493.5 279.1 L494 278.6 L494.5 278.7 L495 279.1 L495.5 278.2 L496 278.8 L496.5 278.8 L497 278.5 L497.5 277.9 L498 278.3 L498.5 278 L499 277.9 L499.5 278.2 L500 278.5 L500.5 278.9 L501 278.7 L501.5 278.8 L502 278.5 L502.5 277.8 L503 277.9 L503.5 277.7 L504 278.2 L504.5 278 L505 278.3 L505.5 278.1 L506 277.6 L506.5 277.7 L507 278.6 L507.5 278.2 L508 278.3 L508.5 278.2 L509 278.1 L509.5 278.3 L510 278.6 L510.5 278.3 L511 278.4 L511.5 277.9 L512 277.6 L512.5 277.2 L513 277.7 L513.5 277.3 L514 277.4 L514.5 277.6 L515 277.6 L515.5 277.3 L516 277.5 L516.5 278.1 L517 277.9 L517.5 277.9 L518 278.3 L518.5 278 L519 278.2 L519.5 278 L520 278 L520.5 277.8 L521 278.1 L521.5 277.7 L522 277.3 L522.5 277.5 L523 276.9 L523.5 277.1 L524 277.8 L524.5 277 L525 277.1 L525.5 276.9 L526 277.3 L526.5 277.6 L527 277.1 L527.5 277.2 L528 276.5 L528.5 276.6 L529 276.8 L529.5 277.1 L530 277.5 L530.5 277.6 L531 277.1 L531.5 276.7 L532 277.2 L532.5 277.4 L533 277.3 L533.5 277.2 L534 277 L534.5 276.7 L535 276.8 L535.5 276.6 L536 276.9 L536.5 277.2 L537 276.6 L537.5 276.9 L538 276.2 L538.5 275.9 L539 276 L539.5 276.1 L540 276.3 L540.5 276.3 L541 276.9 L541.5 276 L542 276.7 L542.5 276.1 L543 276 L543.5 276.2 L544 276.2 L544.5 276.3 L545 275.7 L545.5 276.1 L546 275.6 L546.5 275.6 L547 275.7 L547.5 276 L548 276.3 L548.5 275.6 L549 275.3 L549.5 275.7 L550 275.5 L550.5 276.1 L551 276.3 L551.5 276.5 L552 276.6 L552.5 276.6 L553 275.7 L553.5 275.8 L554 275.3 L554.5 275.7 L555 275.9 L555.5 275.9 L556 276.3 L556.5 275.7 L557 275.5 L557.5 276 L558 276.1 L558.5 275.3 L559 275.3 L559.5 275.8 L560 275 L560.5 275.7 L561 275.9 L561.5 275.7 L562 275 L562.5 275.3 L563 274.9 L563.5 275.6 L564 275.1 L564.5 274.6 L565 275 L565.5 274.8 L566 275.5 L566.5 274.8 L567 274.5 L567.5 274.7 L568 274.8 L568.5 274.9 L569 275.4 L569.5 274.8 L570 275.2 L570.5 274.4 L571 274.5 L571.5 275 L572 275 L572.5 274.7 L573 274 L573.5 274.8 L574 274.2 L574.5 274.4 L575 273.7 L575.5 273.4 L576 273.7 L576.5 274.2 L577 274.3 L577.5 273.8 L578 273.4 L578.5 273.7 L579 273.6 L579.5 273.2 L580 273 L580.5 272.7 L581 272.7 L581.5 273.4 L582 273.8 L582.5 273.7 L582.5 278.1 L582 278.3 L581.5 278.6 L581 278 L580.5 278 L580 278.4 L579.5 278.7 L579 278.5 L578.5 279.4 L578 278.9 L577.5 279 L577 279.2 L576.5 279.5 L576 279.2 L575.5 279.9 L575 279.4 L574.5 279.1 L574 279.8 L573.5 279.4 L573 279.6 L572.5 280.3 L572 279.9 L571.5 279.7 L571 280.6 L570.5 279.8 L570 280.5 L569.5 280.5 L569 281 L568.5 280.7 L568 280.9 L567.5 280.8 L567 281.8 L566.5 281.8 L566 281.4 L565.5 281.5 L565 280.8 L564.5 281.4 L564 281.9 L563.5 282.1 L563 281.5 L562.5 282.2 L562 282.1 L561.5 282.1 L561 281.7 L560.5 282.4 L560 282.3 L559.5 282.2 L559 283 L558.5 282.9 L558 283.1 L557.5 283.5 L557 283.5 L556.5 283.2 L556 283 L555.5 283.1 L555 283.8 L554.5 283.3 L554 284.1 L553.5 283.4 L553 283.6 L552.5 284.1 L552 284.3 L551.5 284.1 L551 285.1 L550.5 285 L550 284.9 L549.5 285.3 L549 285.2 L548.5 285.5 L548 285.6 L547.5 285.9 L547 285.6 L546.5 286.2 L546 286.1 L545.5 286.4 L545 286.3 L544.5 286.4 L544 286.5 L543.5 286.7 L543 286.9 L542.5 286.8 L542 287.8 L541.5 287.6 L541 287.6 L540.5 287.8 L540 287.2 L539.5 287.3 L539 287.9 L538.5 288.9 L538 288.7 L537.5 288.7 L537 289.3 L536.5 289 L536 288.8 L535.5 288.9 L535 288.7 L534.5 289.1 L534 289.9 L533.5 290.2 L533 290.6 L532.5 290.4 L532 289.9 L531.5 290.3 L531 290.1 L530.5 290.6 L530 291 L529.5 291.1 L529 290.8 L528.5 291.1 L528 292 L527.5 291.5 L527 292.2 L526.5 291.9 L526 291.5 L525.5 291.4 L525 292.2 L524.5 292.5 L524 291.8 L523.5 292 L523 292 L522.5 292.2 L522 293 L521.5 292.9 L521 292.4 L520.5 292.8 L520 292.6 L519.5 292.9 L519 292.7 L518.5 292.8 L518 293.1 L517.5 293.3 L517 292.9 L516.5 292.4 L516 292.5 L515.5 292.3 L515 292.3 L514.5 292.5 L514 292.7 L513.5 292.8 L513 293.3 L512.5 293 L512 292.4 L511.5 292.6 L511 293.2 L510.5 293.1 L510 292.9 L509.5 292.1 L509 293.1 L508.5 292.8 L508 292.6 L507.5 292.4 L507 292.5 L506.5 292.8 L506 292.8 L505.5 292.7 L505 292 L504.5 292.7 L504 292.1 L503.5 291.7 L503 291.5 L502.5 291.7 L502 291.9 L501.5 292 L501 292.1 L500.5 291.9 L500 292.4 L499.5 292.1 L499 292 L498.5 291.8 L498 292.3 L497.5 292.1 L497 292.2 L496.5 291.8 L496 291.9 L495.5 291.7 L495 292.6 L494.5 292.6 L494 292.8 L493.5 292.6 L493 292.6 L492.5 293.3 L492 294 L491.5 294 L491 294 L490.5 295.2 L490 295.3 L489.5 294.9 L489 295.6 L488.5 296.2 L488 296.7 L487.5 296.2 L487 296.2 L486.5 295.7 L486 296.3 L485.5 295.9 L485 296.1 L484.5 295.2 L484 295.3 L483.5 295.3 L483 295.4 L482.5 295.2 L482 295.7 L481.5 295.1 L481 294.5 L480.5 294.3 L480 294.2 L479.5 294.3 L479 294.1 L478.5 294 L478 293.8 L477.5 293.3 L477 293.9 L476.5 293.6 L476 294.1 L475.5 294.4 L475 294.1 L474.5 293.9 L474 294.4 L473.5 294.5 L473 295.1 L472.5 294.8 L472 294.3 L471.5 294.6 L471 295.1 L470.5 295.8 L470 296 L469.5 296.3 L469 296.4 L468.5 296.5 L468 295.9 L467.5 297.4 L467 298.3 L466.5 299.6 L466 301.2 L465.5 302.4 L465 302.7 L464.5 302.3 L464 303.1 L463.5 303.1 L463 303.1 L462.5 302.3 L462 303.2 L461.5 302.5 L461 302.7 L460.5 303.1 L460 303 L459.5 302.1 L459 301.7 L458.5 301.3 L458 301.1 L457.5 301.3 L457 301.1 L456.5 301.1 L456 300.3 L455.5 300.5 L455 299.9 L454.5 299.5 L454 300 L453.5 299.8 L453 299.8 L452.5 299.6 L452 300 L451.5 299.2 L451 300 L450.5 300 L450 299.5 L449.5 299.8 L449 299.2 L448.5 298.8 L448 298.3 L447.5 296.9 L447 297.1 L446.5 296.1 L446 295.3 L445.5 294 L445 293.3 L444.5 292.8 L444 291.7 L443.5 291.4 L443 290.9 L442.5 290 L442 290.4 L441.5 289.1 L441 288.6 L440.5 288.6 L440 288.2 L439.5 287.3 L439 286.5 L438.5 286.4 L438 285.4 L437.5 284.5 L437 284.1 L436.5 284 L436 283.7 L435.5 283.8 L435 283.4 L434.5 282.6 L434 281.8 L433.5 282.3 L433 281.5 L432.5 280.6 L432 280.8 L431.5 280.3 L431 279.2 L430.5 279.1 L430 279.2 L429.5 279.5 L429 279.2 L428.5 278.8 L428 278.4 L427.5 277.9 L427 277.2 L426.5 277.3 L426 277.1 L425.5 277.1 L425 277.1 L424.5 275.9 L424 275.9 L423.5 275.5 L423 275.2 L422.5 275.6 L422 274.9 L421.5 274.7 L421 275.2 L420.5 275.3 L420 274.5 L419.5 274.9 L419 273.9 L418.5 274.3 L418 273.3 L417.5 273.4 L417 273.7 L416.5 273.1 L416 272.5 L415.5 273.2 L415 272.8 L414.5 272 L414 272.4 L413.5 271.6 L413 272 L412.5 271.5 L412 271.3 L411.5 271 L411 270.9 L410.5 270.1 L410 270.6 L409.5 270.5 L409 270.3 L408.5 269.9 L408 269.8 L407.5 269.9 L407 269.5 L406.5 269.3 L406 268.9 L405.5 269.4 L405 269.9 L404.5 269.7 L404 269.2 L403.5 269.4 L403 270.1 L402.5 269.5 L402 269.5 L401.5 269.3 L401 269.3 L400.5 270.1 L400 269.9 L399.5 269.8 L399 269.9 L398.5 269.3 L398 270 L397.5 269.6 L397 269.6 L396.5 269.7 L396 269.1 L395.5 269 L395 269.1 L394.5 269.1 L394 268.8 L393.5 268.8 L393 269.2 L392.5 269.5 L392 269.2 L391.5 269.7 L391 269.4 L390.5 269 L390 269.5 L389.5 269.7 L389 269.5 L388.5 269.7 L388 269.1 L387.5 269.9 L387 270 L386.5 270 L386 269.4 L385.5 269.5 L385 269.6 L384.5 269.9 L384 269.5 L383.5 269.3 L383 269.4 L382.5 269.5 L382 269.4 L381.5 269.4 L381 269.3 L380.5 269.9 L380 270 L379.5 269.1 L379 269.7 L378.5 269.8 L378 270.3 L377.5 270.2 L377 270 L376.5 269.6 L376 270.3 L375.5 269.5 L375 270.1 L374.5 270 L374 270.4 L373.5 270.4 L373 270.7 L372.5 270.6 L372 270.5 L371.5 270.1 L371 269.7 L370.5 270 L370 270.6 L369.5 270.3 L369 269.8 L368.5 269.9 L368 269.7 L367.5 270 L367 270.2 Z" fill="#80c083" opacity="1"/>
<path d="M443 291.7 L443.5 291.5 L444 291.7 L444.5 291.9 L445 292 L445.5 291.6 L446 291.4 L446.5 291.5 L447 291.3 L447.5 291 L448 290.9 L448.5 291.1 L449 291 L449.5 291 L450 290.9 L450.5 290.6 L451 290.5 L451.5 290.4 L452 290.3 L452.5 290.1 L453 290.1 L453.5 290 L454 290.2 L454.5 290.5 L455 290.6 L455.5 290.6 L456 290.9 L456.5 291.3 L457 291.6 L457.5 291.7 L458 291.9 L458.5 291.7 L459 292.1 L459.5 292.1 L460 292.2 L460.5 292.4 L461 292.8 L461.5 292.5 L462 292.2 L462.5 291.7 L463 291.6 L463.5 291.1 L464 290.9 L464.5 290.8 L465 290.7 L465.5 290.3 L466 290 L466.5 289.6 L467 289.2 L467.5 289.5 L468 289.8 L468.5 289.7 L469 290 L469.5 290.2 L470 290.7 L470.5 291 L471 291 L471.5 291.1 L472 291.4 L472.5 291.5 L473 291.7 L473.5 291.8 L474 291.6 L474.5 291.8 L475 291.4 L475.5 291.6 L476 291.6 L476.5 291.3 L477 291.2 L477.5 291.2 L478 291.3 L478.5 290.8 L479 291 L479.5 290.7 L480 290.9 L480.5 290.9 L481 290.8 L481.5 290.6 L482 290.7 L482.5 290.9 L483 290.9 L483.5 290.7 L484 290.6 L484.5 290.7 L485 290.5 L485.5 290.8 L486 291 L486.5 290.6 L487 290.5 L487.5 290.8 L488 290.9 L488.5 291.1 L489 291.1 L489.5 291.5 L490 291.7 L490.5 291.6 L491 291.7 L491.5 291.7 L492 292.1 L492.5 292.4 L493 292.6 L493.5 292.8 L494 293.1 L494.5 293.4 L495 293.1 L495.5 293 L496 293 L496.5 293.5 L497 293.3 L497.5 293.7 L498 293.6 L498 293.7 L497.5 293.6 L497 293.6 L496.5 293.6 L496 293.6 L495.5 293.3 L495 293.4 L494.5 293.6 L494 293.3 L493.5 293.6 L493 293.5 L492.5 293.7 L492 293.9 L491.5 294.2 L491 294.8 L490.5 295 L490 295 L489.5 295.5 L489 296 L488.5 296 L488 296.2 L487.5 296.1 L487 295.8 L486.5 295.9 L486 296.2 L485.5 296 L485 295.9 L484.5 295.5 L484 295.8 L483.5 295.4 L483 295.6 L482.5 295.2 L482 295.1 L481.5 294.8 L481 294.6 L480.5 294.4 L480 294.1 L479.5 294.1 L479 293.6 L478.5 293.2 L478 293.2 L477.5 293.3 L477 293.6 L476.5 293.7 L476 293.8 L475.5 294 L475 293.9 L474.5 294.1 L474 294.1 L473.5 294.6 L473 294.9 L472.5 295 L472 295 L471.5 295.2 L471 295.4 L470.5 295.6 L470 295.8 L469.5 295.8 L469 296.1 L468.5 296.2 L468 296.2 L467.5 297.3 L467 298.7 L466.5 299.9 L466 301.3 L465.5 302.4 L465 302.4 L464.5 302.3 L464 302.7 L463.5 302.7 L463 302.7 L462.5 302.9 L462 302.7 L461.5 303.1 L461 303.2 L460.5 302.8 L460 302.7 L459.5 302.4 L459 302.3 L458.5 301.9 L458 301.6 L457.5 301.4 L457 301.3 L456.5 301 L456 300.7 L455.5 300.3 L455 300.2 L454.5 299.9 L454 299.6 L453.5 299.6 L453 299.6 L452.5 299.5 L452 299.6 L451.5 299.7 L451 299.7 L450.5 299.4 L450 299.6 L449.5 299.4 L449 299.2 L448.5 298.6 L448 298 L447.5 297.3 L447 296.7 L446.5 295.5 L446 294.8 L445.5 294.1 L445 293.5 L444.5 292.7 L444 292.1 L443.5 292 L443 291.6 Z" fill="#2f9e8e" opacity="1"/>
<path d="M426 277.3 L426.5 277.4 L427 277.6 L427.5 277.6 L428 277.8 L428.5 278.2 L429 278.3 L429.5 279 L430 278.8 L430.5 279.4 L431 279.8 L431.5 280.5 L432 280.8 L432.5 281 L433 281.2 L433.5 281.8 L434 281.9 L434.5 282.3 L435 283.2 L435.5 283.8 L436 284.3 L436.5 284.7 L437 284.8 L437.5 284.7 L438 285.5 L438.5 286.3 L439 286.3 L439.5 287 L440 287.9 L440.5 288.1 L441 288.6 L441.5 289.1 L442 290.1 L442.5 290.2 L443 290.7 L443.5 291.3 L444 292.1 L444.5 292.8 L445 293.9 L445.5 294.1 L446 294.8 L446.5 295.7 L447 296.2 L447.5 297 L448 298.3 L448.5 299.2 L449 299.4 L449.5 299.7 L450 299.3 L450.5 299.6 L451 299.8 L451.5 300 L452 299.5 L452.5 299.7 L453 300.1 L453.5 300.1 L454 300.1 L454.5 300 L455 300.4 L455.5 300.7 L456 300.4 L456.5 301 L457 301 L457.5 301.5 L458 301.4 L458.5 301.8 L459 302.4 L459.5 302.1 L460 302.5 L460.5 302.5 L461 302.6 L461.5 302.4 L462 302.5 L462.5 302.4 L463 302.8 L463.5 302.3 L464 302.4 L464.5 302 L465 301.9 L465.5 302.3 L466 301.4 L466.5 300.1 L467 298.7 L467.5 296.9 L468 296 L468.5 295.8 L469 296 L469.5 295.9 L470 295.6 L470.5 295.3 L471 294.9 L471.5 295 L472 294.5 L472.5 295 L473 294.4 L473.5 294.6 L474 294.5 L474.5 294.3 L475 293.8 L475.5 293.7 L476 293.6 L476.5 293.3 L477 293.5 L477.5 293 L478 292.9 L478.5 293.5 L479 293.4 L479.5 294.2 L480 294.4 L480.5 294.2 L481 295 L481.5 295.1 L482 295 L482.5 295.3 L483 295.7 L483.5 295.5 L484 295.7 L484.5 295.6 L485 295.4 L485.5 295.7 L486 295.8 L486.5 295.8 L487 296.3 L487.5 296.5 L488 296.3 L488.5 296.4 L489 296.1 L489.5 295.4 L490 295.3 L490.5 294.5 L491 294.2 L491.5 293.8 L492 293.8 L492.5 293.1 L493 293.4 L493.5 293.1 L494 293.1 L494.5 292.6 L495 292.8 L495.5 292.5 L496 292.4 L496.5 292 L497 291.7 L497.5 291.8 L498 291.4 L498.5 291.4 L499 291.6 L499.5 291.7 L500 291.5 L500.5 291.6 L501 291.6 L501.5 292.1 L502 292.3 L502.5 292.4 L503 292.5 L503.5 292.6 L504 292.6 L504.5 292.3 L505 292 L505.5 292.1 L506 292.2 L506.5 292.2 L507 292 L507.5 292.3 L508 292.8 L508.5 292.3 L509 292.4 L509.5 292.2 L510 292.3 L510.5 292.8 L511 292.7 L511.5 292.9 L512 292.4" fill="none" stroke="#eef6f2" stroke-width="0.9" opacity="0.95"/>
<path d="M367 272.4 L367.4 273.4 L367.7 273.4 L368.1 274.6 L368.4 275.5 L368.8 277 L369.1 277.9 L369.5 276.9 L369.8 276.9 L370.2 275.6 L370.5 274.6 L370.9 273.6 L371.2 273.3 L371.6 274.2 L371.9 273.8 L372.3 273.6 L372.6 272.3 L373 273.3 L373.3 272.5 L373.7 272.7 L374 273.6 L374.4 273.7 L374.7 274.4 L375.1 273.8 L375.4 274.6 L375.8 274.8 L376.1 274.7 L376.5 273.7 L376.8 274.7 L377.2 274.2 L377.5 275.1 L377.9 276.4 L378.2 276 L378.6 277.3 L378.9 277.5 L379.3 276.9 L379.6 275.9 L380 275.5 L380.3 276.2 L380.7 275.7 L381 274.7 L381.4 274 L381.7 273.8 L382.1 273.2 L382.4 272.3 L382.8 272.8 L383.1 273.9 L383.5 273.7 L383.8 272.6 L384.2 272.8 L384.5 272.7 L384.9 271.4 L385.2 272.6 L385.6 271.9 L385.9 270.4 L386.3 271.1 L386.6 270.3 L387 270.8 L387.3 271.3 L387.7 269.6 L388 270.1 L388.4 270.2 L388.7 269.5 L389.1 268.9 L389.4 269.2 L389.8 268.4 L390.1 268.1 L390.5 268.9 L390.8 268.5 L391.2 270.4 L391.5 271.2 L391.9 270.6 L392.2 271.2 L392.6 270.6 L392.9 272.2 L393.3 271.2 L393.6 271.2 L394 272.1 L394.3 274.7 L394.7 274 L395 272 L395.4 273.4 L395.7 274.1 L396.1 273.1 L396.4 275.5 L396.8 275.7 L397.1 273.7 L397.5 274.6 L397.8 276 L398.2 276 L398.5 276 L398.9 274 L399.2 276.4 L399.6 275.6 L399.9 274 L400.3 275 L400.6 274.8 L401 275.6 L401.3 276.6 L401.7 273.8 L402 276.2 L402.4 277.4 L402.7 274.3 L403.1 276.7 L403.4 276.2 L403.8 276.5 L404.1 276 L404.5 276.8 L404.8 275.4 L405.2 274.4 L405.5 275 L405.9 274.6 L406.2 274.9 L406.6 275 L406.9 274.9 L407.3 277.1 L407.6 278.3 L408 276.3 L408.3 278.1 L408.7 278.1 L409 276.3 L409.4 276.8 L409.7 278.4 L410.1 279.5 L410.4 280.6 L410.8 277.4 L411.1 278.8 L411.5 280.5 L411.8 279.6 L412.2 279.1 L412.5 278.7 L412.9 279.1 L413.2 281 L413.6 279.2 L413.9 279.5 L414.3 279.8 L414.6 282.2 L415 279.9 L415.3 283 L415.7 282.2 L416 283.5 L416.4 282 L416.7 281.5 L417.1 281.7 L417.4 282.7 L417.8 280.2 L418.1 279.4 L418.5 280.5 L418.8 280.1 L419.2 283 L419.5 283.2 L419.9 281.4 L420.2 281.3 L420.6 279.5 L420.9 279.4 L421.3 279.8 L421.6 280.4 L422 281.8 L422.3 280.1 L422.7 280.2 L423 278.9 L423.4 282.2 L423.7 282.1 L424.1 283.1 L424.4 281.6 L424.8 282.7 L425.1 283.5 L425.5 284.8 L425.8 283 L426.2 285.7 L426.5 285.9 L426.9 285.5 L427.2 286 L427.6 289.1 L427.9 286.7 L428.3 289.9 L428.6 290.8 L429 290.6 L429.3 289.7 L429.7 291.3 L430 294.8 L430.4 295.9 L430.7 293.3 L431.1 296.1 L431.4 298.3 L431.8 295.8 L432.1 299.5 L432.5 298.5 L432.8 296.7 L433.2 297.3 L433.5 298.7 L433.9 297.1 L434.2 297.7 L434.6 300.2 L434.9 298.1 L435.3 300.3 L435.6 301.3 L436 301.5 L436.3 298.3 L436.7 299 L437 299.5 L437.4 300.1 L437.7 298.6 L438.1 300.6 L438.4 299.5 L438.8 302.6 L439.1 302.3 L439.5 301.1 L439.8 302.4 L440.2 301.1 L440.5 304.1 L440.9 303 L441.2 302.9 L441.6 303.5 L441.9 302.8 L442.3 303 L442.6 306 L443 306 L443.3 305.3 L443.7 303.3 L444 305.7 L444.4 307.3 L444.7 304.3 L445.1 305.4 L445.4 308.4 L445.8 308.7 L446.1 306.6 L446.5 305.5 L446.8 306.8 L447.2 307.3 L447.5 307.1 L447.9 308.7 L448.2 309.6 L448.6 310.6 L448.9 310.9 L449.3 310.8 L449.6 308.8 L450 310 L450.3 310.7 L450.7 311.6 L451 309 L451.4 311 L451.7 311.3 L452.1 311.2 L452.4 312.3 L452.8 312 L453.1 309 L453.5 312.2 L453.8 309.9 L454.2 309.6 L454.5 310.3 L454.9 312.1 L455.2 309.9 L455.6 309.3 L455.9 309.5 L456.3 308.3 L456.6 309.4 L457 309.6 L457.3 311.6 L457.7 311.6 L458 308.7 L458.4 310.1 L458.7 311.3 L459.1 308.4 L459.4 308.5 L459.8 310.2 L460.1 309.4 L460.5 311.4 L460.8 310.1 L461.2 311.5 L461.5 310.3 L461.9 310.8 L462.2 308.4 L462.6 310.4 L462.9 309.9 L463.3 310.1 L463.6 309.9 L464 311.7 L464.3 310.2 L464.7 310.5 L465 312 L465.4 311.2 L465.7 310.7 L466.1 311.5 L466.4 309.5 L466.8 311.6 L467.1 309.6 L467.5 312.3 L467.8 310.7 L468.2 310.2 L468.5 312 L468.9 312.5 L469.2 313.4 L469.6 313.3 L469.9 310.5 L470.3 310.6 L470.6 311.8 L471 313.4 L471.3 311.6 L471.7 312.3 L472 311.1 L472.4 312.4 L472.7 309.7 L473.1 310.6 L473.4 311.8 L473.8 312.5 L474.1 311.3 L474.5 310.1 L474.8 311.5 L475.2 313.3 L475.5 311.5 L475.9 311.7 L476.2 312.6 L476.6 312.2 L476.9 312.5 L477.3 311.7 L477.6 311.1 L478 312.3 L478.3 311.7 L478.7 310.9 L479 309.1 L479.4 308.8 L479.7 309.6 L480.1 312.1 L480.4 311.7 L480.8 310.8 L481.1 310.4 L481.5 309.1 L481.8 308.1 L482.2 307.7 L482.5 309.9 L482.9 309 L483.2 307.4 L483.6 309.5 L483.9 308.7 L484.3 310.4 L484.6 310.8 L485 307.7 L485.3 307.5 L485.7 309.6 L486 308.5 L486.4 309.8 L486.7 311.7 L487.1 309.8 L487.4 309.1 L487.8 311.3 L488.1 309.4 L488.5 312.7 L488.8 312.6 L489.2 312.7 L489.5 311.7 L489.9 310.7 L490.2 312.8 L490.6 310.4 L490.9 312.3 L491.3 310.6 L491.6 310.2 L492 314 L492.3 314.7 L492.7 314.9 L493 312.7 L493.4 312.4 L493.7 314.1 L494.1 312.8 L494.4 315 L494.8 315.6 L495.1 312.9 L495.5 312.2 L495.8 313.4 L496.2 313.9 L496.5 315.8 L496.9 314.9 L497.2 314.6 L497.6 317 L497.9 313.6 L498.3 313.7 L498.6 313.6 L499 313.7 L499.3 317.5 L499.7 317.5 L500 318.8 L500.4 316.3 L500.7 319 L501.1 316.7 L501.4 318.2 L501.8 320.4 L502.1 319.2 L502.5 317.5 L502.8 319.6 L503.2 319.6 L503.5 320.4 L503.9 319.5 L504.2 320.1 L504.6 322.2 L504.9 320.2 L505.3 320.2 L505.6 324.2 L506 322.6 L506.3 322.4 L506.7 322.9 L507 324.1 L507.4 322.2 L507.7 324.4 L508.1 326.5 L508.4 324.9 L508.8 326.7 L509.1 327.1 L509.5 325.3 L509.8 325 L510.2 324 L510.5 326 L510.9 327.9 L511.2 328.7 L511.6 327.6 L511.9 325.5 L512.3 327.9 L512.6 326 L513 327.3 L513.3 328.7 L513.7 328.8 L514 329.2 L514.4 328.6 L514.7 329.3 L515.1 330.5 L515.4 331.5 L515.8 329.1 L516.1 330 L516.5 331.7 L516.8 329.6 L517.2 331.1 L517.5 330.9 L517.9 333.2 L518.2 330.8 L518.6 330.9 L518.9 332.3 L519.3 329.5 L519.6 330.8 L520 328.5 L520.3 328.5 L520.7 331.3 L521 328.5 L521.4 327.7 L521.7 328.1 L522.1 330.7 L522.4 327.6 L522.8 330.1 L523.1 328 L523.5 327.2 L523.8 327 L524.2 328.9 L524.5 328.4 L524.9 327.4 L525.2 326.1 L525.6 325.2 L525.9 326.9 L526.3 328.2 L526.6 325.3 L527 325.4 L527.3 326 L527.7 326.7 L528 324.1 L528.4 323.9 L528.7 326 L529.1 325.1 L529.4 326.6 L529.8 323.3 L530.1 323.4 L530.5 323.1 L530.8 324.1 L531.2 321.8 L531.5 323 L531.9 321.3 L532.2 321.2 L532.6 321.2 L532.9 322.3 L533.3 322.3 L533.6 321.2 L534 319.6 L534.3 318.8 L534.7 319.3 L535 320.8 L535.4 321.1 L535.7 320.6 L536.1 319.9 L536.4 317.6 L536.8 315.9 L537.1 317.3 L537.5 317.3 L537.8 315.6 L538.2 317.6 L538.5 316.7 L538.9 314.7 L539.2 316.4 L539.6 315.8 L539.9 316.3 L540.3 314 L540.6 316.2 L541 315.8 L541.3 313.6 L541.7 314.6 L542 312.9 L542.4 313.6 L542.7 314.4 L543.1 315 L543.4 314.2 L543.8 312.7 L544.1 311.7 L544.5 313.3 L544.8 313.4 L545.2 313.5 L545.5 313.6 L545.9 313.2 L546.2 313.8 L546.6 312.4 L546.9 310.3 L547.3 310.6 L547.6 309.8 L548 312 L548.3 311.8 L548.7 308.9 L549 310.9 L549.4 310.7 L549.7 309.4 L550.1 311.2 L550.4 309 L550.8 310.6 L551.1 308.6 L551.5 309.8 L551.8 308.8 L552.2 308.2 L552.5 309.8 L552.9 308.6 L553.2 310.3 L553.6 307 L553.9 308.1 L554.3 307 L554.6 309.1 L555 308.8 L555.3 307.1 L555.7 306.3 L556 305.8 L556.4 305.3 L556.7 307.1 L557.1 308.6 L557.4 305.7 L557.8 306.5 L558.1 305.5 L558.5 306.8 L558.8 307 L559.2 307.5 L559.5 306.2 L559.9 307.3 L560.2 303.7 L560.6 306.2 L560.9 303.6 L561.3 304.7 L561.6 303.1 L562 305.2 L562.3 303.9 L562.7 304 L563 306 L563.4 304.1 L563.7 303.6 L564.1 302.9 L564.4 301.9 L564.8 301.9 L565.1 304.2 L565.5 303.3 L565.8 301.2 L566.2 304.3 L566.5 301.6 L566.9 301.5 L567.2 302.2 L567.6 303.6 L567.9 302.8 L568.3 300.7 L568.6 300.6 L569 300.7 L569.3 299.8 L569.7 301.9 L570 299.7 L570.4 300.3 L570.7 298.4 L571.1 298.7 L571.4 297.7 L571.8 298.4 L572.1 298.1 L572.5 297.1 L572.8 297.3 L573.2 298.9 L573.5 299.4 L573.9 297.8 L574.2 300.5 L574.6 299.6 L574.9 300.3 L575.3 302.5 L575.6 302.4 L576 300 L576.3 300.2 L576.7 300 L577 302.6 L577.4 304.1 L577.7 300.9 L578.1 302.6 L578.4 303.7 L578.8 303.3 L579.1 302.9 L579.5 303.5 L579.8 301 L580.2 304.1 L580.5 303.1 L580.9 303.8 L581.2 304 L581.6 302.3 L581.9 304.1" fill="none" stroke="#1b78be" stroke-width="1.5" stroke-linejoin="round"/>
<path d="M367 268.4 L367.4 269.6 L367.8 268.2 L368.2 268.8 L368.6 268.1 L369 268.6 L369.4 269.6 L369.8 269.2 L370.2 268.4 L370.6 269.4 L371 269 L371.4 268.5 L371.8 268 L372.2 268.1 L372.6 268.6 L373 268.4 L373.4 268.2 L373.8 268.1 L374.2 268.2 L374.6 269 L375 268.3 L375.4 269.3 L375.8 268.6 L376.2 268.4 L376.6 268.2 L377 269.2 L377.4 268 L377.8 268 L378.2 268.4 L378.6 268.5 L379 268 L379.4 268.8 L379.8 268.2 L380.2 268.7 L380.6 267.8 L381 268.3 L381.4 268.9 L381.8 268.2 L382.2 268.8 L382.6 268.2 L383 267.9 L383.4 268.6 L383.8 268.8 L384.2 268.9 L384.6 267.5 L385 268.3 L385.4 268.8 L385.8 268.7 L386.2 268 L386.6 268.8 L387 267.5 L387.4 268 L387.8 267.7 L388.2 268.7 L388.6 268.3 L389 268.3 L389.4 268.4 L389.8 267.3 L390.2 267.4 L390.6 267.7 L391 268 L391.4 267.5 L391.8 267.8 L392.2 267.6 L392.6 268 L393 268.5 L393.4 267.5 L393.8 268.2 L394.2 267.8 L394.6 267.8 L395 267.1 L395.4 267.3 L395.8 268.5 L396.2 268.8 L396.6 267.4 L397 268.4 L397.4 267.6 L397.8 267.4 L398.2 267.6 L398.6 268.5 L399 267.7 L399.4 267.4 L399.8 268.2 L400.2 268.5 L400.6 268.7 L401 268.2 L401.4 267.9 L401.8 268.3 L402.2 268.1 L402.6 268.2 L403 267.8 L403.4 266.6 L403.8 267.7 L404.2 268.2 L404.6 267.8 L405 266.4 L405.4 266.2 L405.8 267.2 L406.2 267.5 L406.6 267.4 L407 266.1 L407.4 266.5 L407.8 265.9 L408.2 267.3 L408.6 267.4 L409 267.3 L409.4 267.7 L409.8 267.8 L410.2 267.3 L410.6 267.8 L411 268.9 L411.4 268.6 L411.8 269.9 L412.2 269.8 L412.6 269.2 L413 269.2 L413.4 270.5 L413.8 270.7 L414.2 269.7 L414.6 270.2 L415 271.4 L415.4 270.5 L415.8 271.1 L416.2 271.6 L416.6 271.2 L417 271.9 L417.4 272.4 L417.8 272.7 L418.2 271.5 L418.6 272.8 L419 272.8 L419.4 273.5 L419.8 272.8 L420.2 273.5 L420.6 273.2 L421 274.1 L421.4 272.9 L421.8 273.3 L422.2 273.9 L422.6 274.7 L423 274.2 L423.4 274.9 L423.8 275.1 L424.2 275.6 L424.6 275 L425 275.7 L425.4 275.9 L425.8 274.8 L426.2 276.3 L426.6 276.2 L427 276.9 L427.4 275.8 L427.8 276.9 L428.2 275.9 L428.6 277.7 L429 277.4 L429.4 276.6 L429.8 277.9 L430.2 278.5 L430.6 278.9 L431 278.3 L431.4 277.9 L431.8 278.1 L432.2 279.4 L432.6 278.3 L433 279 L433.4 280.2 L433.8 279.9 L434.2 279.1 L434.6 280.2 L435 280.3 L435.4 281 L435.8 280.1 L436.2 281.5 L436.6 281.4 L437 280.4 L437.4 282 L437.8 282.2 L438.2 281.1 L438.6 281.1 L439 281.2 L439.4 282.6 L439.8 282.1 L440.2 282.4 L440.6 283.2 L441 282.7 L441.4 283.2 L441.8 283.3 L442.2 284.6 L442.6 284.7 L443 283.8 L443.4 285 L443.8 284.2 L444.2 284.5 L444.6 284.4 L445 285.9 L445.4 286 L445.8 286.3 L446.2 287.9 L446.6 287.3 L447 288.1 L447.4 288.4 L447.8 290 L448.2 290.1 L448.6 289.7 L449 290.6 L449.4 290.9 L449.8 290.2 L450.2 292 L450.6 291.8 L451 290.7 L451.4 291 L451.8 292 L452.2 291 L452.6 292.3 L453 292.3 L453.4 291.7 L453.8 292.9 L454.2 291.5 L454.6 291.6 L455 291.5 L455.4 292.2 L455.8 291.9 L456.2 291.9 L456.6 291.8 L457 292 L457.4 293.3 L457.8 292.1 L458.2 292.1 L458.6 292.2 L459 293.7 L459.4 292.5 L459.8 292.1 L460.2 292.1 L460.6 292.5 L461 292.3 L461.4 292.8 L461.8 292 L462.2 292.1 L462.6 292.7 L463 293.3 L463.4 292.6 L463.8 291.8 L464.2 292 L464.6 291.5 L465 292.3 L465.4 292.3 L465.8 291.6 L466.2 291.9 L466.6 291 L467 292.2 L467.4 291.6 L467.8 291.8 L468.2 291.6 L468.6 290.9 L469 289.2 L469.4 289.6 L469.8 289.8 L470.2 288.6 L470.6 289 L471 289.3 L471.4 288.1 L471.8 287.6 L472.2 287.7 L472.6 287.4 L473 287.5 L473.4 287.7 L473.8 287 L474.2 287.9 L474.6 287.1 L475 287.6 L475.4 287.8 L475.8 287.1 L476.2 287.8 L476.6 288.1 L477 286.9 L477.4 287.4 L477.8 287 L478.2 287.8 L478.6 287.9 L479 287 L479.4 287.4 L479.8 287.4 L480.2 286.6 L480.6 286.3 L481 286.6 L481.4 286.2 L481.8 287.3 L482.2 286.2 L482.6 286.3 L483 285.9 L483.4 286.4 L483.8 286.8 L484.2 287.1 L484.6 286.7 L485 286.1 L485.4 286.6 L485.8 287 L486.2 286.8 L486.6 286.2 L487 285.7 L487.4 286.1 L487.8 285.6 L488.2 285.1 L488.6 285.8 L489 285.1 L489.4 285.7 L489.8 286.1 L490.2 286 L490.6 286.4 L491 285.2 L491.4 286.1 L491.8 286.1 L492.2 284.7 L492.6 285.3 L493 286.1 L493.4 285.3 L493.8 284.5 L494.2 285.2 L494.6 285.8 L495 284.6 L495.4 285.6 L495.8 284.7 L496.2 285.4 L496.6 285.8 L497 284.4 L497.4 285.7 L497.8 284.5 L498.2 285.6 L498.6 284.6 L499 284.8 L499.4 285.6 L499.8 285.1 L500.2 284.6 L500.6 283.7 L501 284.3 L501.4 284 L501.8 284.5 L502.2 284.7 L502.6 284 L503 284.1 L503.4 284.7 L503.8 284.3 L504.2 284.4 L504.6 284.7 L505 284.1 L505.4 283.3 L505.8 284.1 L506.2 284.4 L506.6 284.4 L507 283.4 L507.4 284.3 L507.8 284.7 L508.2 284.6 L508.6 284.7 L509 283.2 L509.4 284.3 L509.8 284.7 L510.2 283.6 L510.6 284.5 L511 284.5 L511.4 284.2 L511.8 283.8 L512.2 284.2 L512.6 283.1 L513 284.4 L513.4 283.3 L513.8 282.7 L514.2 283.4 L514.6 283.3 L515 284 L515.4 283.9 L515.8 282.9 L516.2 283.4 L516.6 283.7 L517 283.7 L517.4 283 L517.8 283.5 L518.2 282.7 L518.6 283.1 L519 284.1 L519.4 284.2 L519.8 283 L520.2 282.8 L520.6 282.6 L521 282.7 L521.4 283.3 L521.8 283.1 L522.2 282.9 L522.6 282.2 L523 283.2 L523.4 283 L523.8 282.6 L524.2 282.7 L524.6 282.6 L525 282.2 L525.4 282.5 L525.8 283.3 L526.2 282.6 L526.6 283.7 L527 282.9 L527.4 283.7 L527.8 282.4 L528.2 283.6 L528.6 282.3 L529 282.1 L529.4 282.1 L529.8 282.1 L530.2 283.1 L530.6 282.6 L531 282.3 L531.4 281.8 L531.8 281.5 L532.2 282.7 L532.6 281.8 L533 281.4 L533.4 282.2 L533.8 282.4 L534.2 281.6 L534.6 281.8 L535 282.3 L535.4 281 L535.8 281.9 L536.2 281.3 L536.6 281.4 L537 281.6 L537.4 281.4 L537.8 282.2 L538.2 280.7 L538.6 280.3 L539 280.5 L539.4 281.3 L539.8 280.7 L540.2 280.9 L540.6 281 L541 281.2 L541.4 280.6 L541.8 280.1 L542.2 280.9 L542.6 281.2 L543 280.5 L543.4 280.3 L543.8 280.8 L544.2 280 L544.6 280.5 L545 279.8 L545.4 280.8 L545.8 280.7 L546.2 279.5 L546.6 280.8 L547 279.7 L547.4 279.2 L547.8 279.6 L548.2 280.3 L548.6 279.2 L549 280.5 L549.4 279.7 L549.8 279.9 L550.2 279.6 L550.6 279.6 L551 279.8 L551.4 279.4 L551.8 279.1 L552.2 279.1 L552.6 278.9 L553 279 L553.4 279.9 L553.8 279.2 L554.2 279.9 L554.6 279.9 L555 279.2 L555.4 280.1 L555.8 278.6 L556.2 279 L556.6 278.9 L557 278.2 L557.4 278.1 L557.8 279.8 L558.2 278.7 L558.6 279.8 L559 279.3 L559.4 279.8 L559.8 278.7 L560.2 278.9 L560.6 277.8 L561 278.2 L561.4 277.9 L561.8 278.5 L562.2 279.3 L562.6 278.2 L563 278.3 L563.4 278.9 L563.8 278.6 L564.2 278.4 L564.6 278.1 L565 278.2 L565.4 277.6 L565.8 277.5 L566.2 278.4 L566.6 277.6 L567 277.2 L567.4 278.8 L567.8 277.3 L568.2 278 L568.6 278.2 L569 277 L569.4 278.3 L569.8 278.2 L570.2 277.9 L570.6 277.6 L571 277.4 L571.4 276.4 L571.8 277.3 L572.2 277.7 L572.6 277.4 L573 277.3 L573.4 276.9 L573.8 276.5 L574.2 276.3 L574.6 276.2 L575 277 L575.4 276.8 L575.8 277.2 L576.2 276.4 L576.6 275.5 L577 276.2 L577.4 276.6 L577.8 275.2 L578.2 275.2 L578.6 275.7 L579 275.2 L579.4 276 L579.8 276.3 L580.2 276 L580.6 275.7 L581 276.2 L581.4 274.7 L581.8 275.7 L582.2 276" fill="none" stroke="#1e7f3c" stroke-width="1.4" stroke-linejoin="round"/>
<line x1="365.1" y1="253.7" x2="365.1" y2="370.9" stroke="#111" stroke-width="1.9" />
<line x1="364.2" y1="369.9" x2="585" y2="369.9" stroke="#111" stroke-width="1.9" />
<line x1="361.4" y1="270.8" x2="365.1" y2="270.8" stroke="#111" stroke-width="1.5" />
<text x="359.6" y="274.5" font-size="10.6" fill="#111" font-weight="700" text-anchor="end" >0</text>
<line x1="361.4" y1="290.1" x2="365.1" y2="290.1" stroke="#111" stroke-width="1.5" />
<text x="359.6" y="293.8" font-size="10.6" fill="#111" font-weight="700" text-anchor="end" >- 2</text>
<line x1="361.4" y1="309.6" x2="365.1" y2="309.6" stroke="#111" stroke-width="1.5" />
<text x="359.6" y="313.3" font-size="10.6" fill="#111" font-weight="700" text-anchor="end" >- 4</text>
<line x1="361.4" y1="330.9" x2="365.1" y2="330.9" stroke="#111" stroke-width="1.5" />
<text x="359.6" y="334.6" font-size="10.6" fill="#111" font-weight="700" text-anchor="end" >- 6</text>
<line x1="361.4" y1="352.7" x2="365.1" y2="352.7" stroke="#111" stroke-width="1.5" />
<text x="359.6" y="356.4" font-size="10.6" fill="#111" font-weight="700" text-anchor="end" >- 8</text>
<text x="360.8" y="372.2" font-size="10.6" fill="#111" font-weight="700" text-anchor="end" >-10</text>
<text x="365.7" y="384" font-size="10.6" fill="#111" font-weight="700" text-anchor="middle" >- 10</text>
<line x1="386.9" y1="369.9" x2="386.9" y2="374.2" stroke="#111" stroke-width="1.8" />
<text x="386.9" y="384" font-size="10.6" fill="#111" font-weight="700" text-anchor="middle" >0</text>
<line x1="408.6" y1="369.9" x2="408.6" y2="374.2" stroke="#111" stroke-width="1.8" />
<text x="408.6" y="384" font-size="10.6" fill="#111" font-weight="700" text-anchor="middle" >10</text>
<line x1="430.3" y1="369.9" x2="430.3" y2="374.2" stroke="#111" stroke-width="1.8" />
<text x="430.3" y="384" font-size="10.6" fill="#111" font-weight="700" text-anchor="middle" >20</text>
<line x1="452" y1="369.9" x2="452" y2="374.2" stroke="#111" stroke-width="1.8" />
<text x="452" y="384" font-size="10.6" fill="#111" font-weight="700" text-anchor="middle" >30</text>
<line x1="473.7" y1="369.9" x2="473.7" y2="374.2" stroke="#111" stroke-width="1.8" />
<text x="473.7" y="384" font-size="10.6" fill="#111" font-weight="700" text-anchor="middle" >40</text>
<line x1="495.4" y1="369.9" x2="495.4" y2="374.2" stroke="#111" stroke-width="1.8" />
<text x="495.4" y="384" font-size="10.6" fill="#111" font-weight="700" text-anchor="middle" >50</text>
<line x1="517.1" y1="369.9" x2="517.1" y2="374.2" stroke="#111" stroke-width="1.8" />
<text x="517.1" y="384" font-size="10.6" fill="#111" font-weight="700" text-anchor="middle" >60</text>
<line x1="538.8" y1="369.9" x2="538.8" y2="374.2" stroke="#111" stroke-width="1.8" />
<text x="538.8" y="384" font-size="10.6" fill="#111" font-weight="700" text-anchor="middle" >70</text>
<line x1="560.5" y1="369.9" x2="560.5" y2="374.2" stroke="#111" stroke-width="1.8" />
<text x="560.5" y="384" font-size="10.6" fill="#111" font-weight="700" text-anchor="middle" >80</text>
<text transform="translate(343.8 314.8) rotate(-90)" font-size="10.6" fill="#111" text-anchor="middle" font-weight="700">&#916;F/F(%)</text>
<text x="466.2" y="397.1" font-size="10.6" fill="#111" font-weight="700" text-anchor="middle" >Time (s)</text>
<rect x="385.1" y="250.2" width="3.7" height="120.4" fill="#111" />
</g>
<g id="panel-j">
<text x="596.2" y="239.9" font-size="14.8" fill="#111" font-weight="700" >j</text>
<text x="631.9" y="248.5" font-size="10.4" fill="#21a055" font-weight="700" textLength="56.7" lengthAdjust="spacingAndGlyphs" >4w abDGCs</text>
<text x="719.6" y="246" font-size="10.4" fill="#4a90d2" font-weight="700" textLength="55.9" lengthAdjust="spacingAndGlyphs" >8w abDGCs</text>
<text x="683.2" y="262.2" font-size="13.5" fill="#111" font-weight="700" text-anchor="middle" >*</text>
<text x="766.6" y="262.2" font-size="13.5" fill="#111" font-weight="700" text-anchor="middle" >*</text>
<line x1="629.4" y1="262" x2="702.2" y2="262" stroke="#111" stroke-width="2.4" stroke-dasharray="0 2.75" stroke-linecap="round"/>
<line x1="711.3" y1="262" x2="784.6" y2="262" stroke="#111" stroke-width="2.4" stroke-dasharray="0 2.75" stroke-linecap="round"/>
<line x1="628.6" y1="261" x2="628.6" y2="371.4" stroke="#111" stroke-width="1.8" />
<line x1="627.7" y1="370.5" x2="784.4" y2="370.5" stroke="#111" stroke-width="1.8" />
<line x1="625.2" y1="262" x2="628.6" y2="262" stroke="#111" stroke-width="1.5" />
<text x="619.8" y="265.7" font-size="10.6" fill="#111" font-weight="700" text-anchor="end" >0</text>
<line x1="625.2" y1="288.7" x2="628.6" y2="288.7" stroke="#111" stroke-width="1.5" />
<text x="623.4" y="292.4" font-size="10.6" fill="#111" font-weight="700" text-anchor="end" >-5</text>
<line x1="625.2" y1="315.8" x2="628.6" y2="315.8" stroke="#111" stroke-width="1.5" />
<text x="623.4" y="319.5" font-size="10.6" fill="#111" font-weight="700" text-anchor="end" >-10</text>
<line x1="625.2" y1="343" x2="628.6" y2="343" stroke="#111" stroke-width="1.5" />
<text x="623.4" y="346.7" font-size="10.6" fill="#111" font-weight="700" text-anchor="end" >-15</text>
<line x1="625.2" y1="369.7" x2="628.6" y2="369.7" stroke="#111" stroke-width="1.5" />
<text x="623.4" y="373.4" font-size="10.6" fill="#111" font-weight="700" text-anchor="end" >-20</text>
<line x1="647.9" y1="370.5" x2="647.9" y2="374" stroke="#111" stroke-width="1.5" />
<line x1="684" y1="370.5" x2="684" y2="374" stroke="#111" stroke-width="1.5" />
<line x1="723.7" y1="370.5" x2="723.7" y2="374" stroke="#111" stroke-width="1.5" />
<line x1="763.8" y1="370.5" x2="763.8" y2="374" stroke="#111" stroke-width="1.5" />
<line x1="647.9" y1="262" x2="684" y2="262" stroke="#111" stroke-width="1.7" />
<line x1="647.9" y1="262" x2="684" y2="265.8" stroke="#111" stroke-width="1.7" />
<line x1="647.9" y1="262" x2="684" y2="269.1" stroke="#111" stroke-width="1.7" />
<line x1="647.9" y1="262" x2="684" y2="298.4" stroke="#111" stroke-width="1.7" />
<line x1="647.9" y1="262" x2="684" y2="306" stroke="#111" stroke-width="1.7" />
<line x1="647.9" y1="262" x2="684" y2="311.6" stroke="#111" stroke-width="1.7" />
<line x1="729.8" y1="262" x2="766.6" y2="266.6" stroke="#111" stroke-width="1.7" />
<line x1="729.8" y1="262" x2="766.6" y2="280.6" stroke="#111" stroke-width="1.7" />
<line x1="729.8" y1="262" x2="766.6" y2="310.3" stroke="#111" stroke-width="1.7" />
<line x1="729.8" y1="262" x2="766.6" y2="338" stroke="#111" stroke-width="1.7" />
<line x1="729.8" y1="262" x2="766.6" y2="357" stroke="#111" stroke-width="1.7" />
<circle cx="684" cy="262" r="3.1" fill="#1da552"/>
<circle cx="684" cy="265.8" r="3.1" fill="#1da552"/>
<circle cx="684" cy="269.1" r="3.1" fill="#1da552"/>
<circle cx="684" cy="298.4" r="3.1" fill="#1da552"/>
<circle cx="684" cy="306" r="3.1" fill="#1da552"/>
<circle cx="684" cy="311.6" r="3.1" fill="#1da552"/>
<circle cx="766.6" cy="266.6" r="3.1" fill="#5b90d2"/>
<circle cx="766.6" cy="280.6" r="3.1" fill="#5b90d2"/>
<circle cx="766.6" cy="310.3" r="3.1" fill="#5b90d2"/>
<circle cx="766.6" cy="338" r="3.1" fill="#5b90d2"/>
<circle cx="766.6" cy="357" r="3.1" fill="#5b90d2"/>
<circle cx="647.9" cy="262" r="3.1" fill="#111"/>
<circle cx="729.8" cy="262" r="3.1" fill="#111"/>
<text transform="translate(608.4 317.7) rotate(-90)" font-size="10.6" fill="#111" text-anchor="middle" font-weight="700">&#916;F/F(%)</text>
<text transform="translate(656.6 379.6) rotate(-45)" font-size="10.8" fill="#111" text-anchor="end" font-weight="700">baseline</text>
<text transform="translate(696.3 378.4) rotate(-45)" font-size="10.8" fill="#111" text-anchor="end" font-weight="700">kindled</text>
<text transform="translate(735.9 379.6) rotate(-45)" font-size="10.8" fill="#111" text-anchor="end" font-weight="700">baseline</text>
<text transform="translate(775 378.4) rotate(-45)" font-size="10.8" fill="#111" text-anchor="end" font-weight="700">kindled</text>
</g>
<g id="panel-k">
<text x="5.4" y="438.3" font-size="14.8" fill="#111" font-weight="700" >k</text>
<g clip-path="url(#ck)">
<rect x="14" y="453.5" width="152" height="106.5" fill="#0a3320" />
<g filter="url(#kb5)">
<path d="M10 450 L76.7 450 L70.7 464.2 L44.4 468.2 L32.2 482.4 L22.1 502.6 L10 516.7 Z" fill="#07102a" opacity="0.9"/>
<path d="M34.3 480.3 L50.5 469.2 L70.7 468.2 L72.7 490.5 L56.5 504.6 L34.3 516.7 L22.1 516.7 Z" fill="#10502c" opacity="0.9"/>
<path d="M119.2 450 L165.7 450 L165.7 500.6 L143.5 486.4 L123.3 468.2 Z" fill="#0e4a28" opacity="0.9"/>
<path d="M88.9 500.6 L115.2 504.6 L151.6 518.8 L165.7 526.9 L165.7 539 L139.4 535 L111.1 522.8 L90.9 517.8 L70.7 522.8 L46.4 532.9 L60.6 518.8 L78.8 506.6 Z" fill="#125a30" opacity="0.9"/>
<path d="M60.6 545.1 L78.8 536 L95 533.9 L115.2 539 L139.4 551.1 L151.6 563.3 L60.6 563.3 Z" fill="#03100c" opacity="0.9"/>
<path d="M10 563.3 L10 555.2 L34.3 559.2 L50.5 563.3 Z" fill="#0a2038" opacity="0.8"/>
</g>
<g filter="url(#kb2)">
<path d="M92.9 487.4 L111.1 485.4 L131.4 491.5 L151.6 501.6 L165.7 510.7 L165.7 523.8 L149.6 513.7 L129.3 503.6 L111.1 498.5 L95 499.6 Z" fill="#18648a" opacity="0.8"/>
<path d="M89.9 458.1 L101 458.1 L117.2 467.2 L133.4 480.3 L147.5 493.5 L131.4 489.4 L111.1 484.4 L92.9 488.4 L87.9 474.3 Z" fill="#17924c" opacity="0.8"/>
<path d="M10 533.9 L32.2 522.8 L54.5 510.7 L70.7 496.5 L72.7 474.3 L77.8 462.1 L83.8 472.2 L85.8 496.5 L76.7 510.7 L58.5 522.8 L34.3 535 L10 546.1 Z" fill="#178672" opacity="0.9"/>
<path d="M10 547.1 L34.3 540 L58.5 529.9 L78.8 523.2 L92.9 522 L113.2 527.9 L139.4 539 L165.7 547.1 L165.7 559.2 L139.4 551.1 L113.2 539.4 L92.9 533.3 L78.8 535 L58.5 541.4 L34.3 552.1 L10 559.2 Z" fill="#187698" opacity="0.9"/>
<path d="M10 558.2 L34.3 551.1 L58.5 541 L78.8 534.5 L92.9 532.9 L113.2 539 L139.4 550.5 L165.7 558.8 L165.7 563.3 L139.4 556.2 L113.2 544.1 L92.9 537.4 L78.8 539 L58.5 546.1 L34.3 556.8 L10 563.3 Z" fill="#1d2a8c" opacity="0.8"/>
<path d="M10 530.9 L32.2 519.8 L53.5 507.6 L53.5 511.7 L32.2 523.8 L10 536 Z" fill="#1d2a8c" opacity="0.6"/>
</g>
<g filter="url(#kb1)">
<path d="M91.9 462.1 L101 462.1 L115.2 471.2 L123.3 480.3 L111.1 482.4 L95 484.4 L90.9 474.3 Z" fill="#2ccc70" opacity="0.8"/>
<path d="M44.4 518.8 L62.6 508.7 L74.7 497.5 L76.7 478.3 L80.8 478.3 L81.8 497.5 L74.7 508.7 L60.6 518.8 L46.4 525.8 Z" fill="#28bc88" opacity="0.7"/>
<path d="M16.1 545.1 L38.3 539 L60.6 530.9 L76.7 525.8 L76.7 529.9 L60.6 536 L38.3 545.1 L16.1 552.1 Z" fill="#30c8a8" opacity="0.6"/>
<path d="M95 525.8 L115.2 530.9 L139.4 542 L139.4 545.1 L115.2 535 L95 529.3 Z" fill="#2cb8b0" opacity="0.5"/>
</g>
<g fill="#04140e" opacity="0.6"><circle cx="39.6" cy="526.7" r="0.9"/><circle cx="86.3" cy="477.1" r="1"/><circle cx="135.2" cy="508.1" r="0.8"/><circle cx="50.1" cy="454.8" r="0.7"/><circle cx="102.1" cy="461.7" r="1"/><circle cx="49.6" cy="478.8" r="0.5"/><circle cx="163.4" cy="531.8" r="1"/><circle cx="106.6" cy="458" r="0.7"/><circle cx="89" cy="466.6" r="1.1"/><circle cx="69.8" cy="470.7" r="1"/><circle cx="33.6" cy="551.7" r="0.8"/><circle cx="97.1" cy="490.4" r="0.8"/><circle cx="42.8" cy="458.3" r="1"/><circle cx="50" cy="536.2" r="0.6"/><circle cx="159.1" cy="548.1" r="1"/><circle cx="128.5" cy="515.3" r="0.9"/><circle cx="33.3" cy="504.4" r="1"/><circle cx="45" cy="551.2" r="1"/><circle cx="76" cy="492.7" r="0.8"/><circle cx="72.4" cy="558.7" r="0.7"/><circle cx="19" cy="464.2" r="0.9"/><circle cx="162.7" cy="506.4" r="0.8"/><circle cx="96.9" cy="532.8" r="0.6"/><circle cx="105.6" cy="512.8" r="0.9"/><circle cx="41.9" cy="472.3" r="0.7"/><circle cx="152.9" cy="490.8" r="0.9"/><circle cx="60.6" cy="465.3" r="0.5"/><circle cx="136" cy="535.9" r="0.7"/><circle cx="116.6" cy="525.3" r="1"/><circle cx="157.5" cy="497.1" r="1.1"/><circle cx="158" cy="516.3" r="1"/><circle cx="88" cy="493.8" r="0.6"/><circle cx="145.3" cy="471.5" r="0.5"/><circle cx="134.8" cy="535.5" r="0.8"/><circle cx="139.5" cy="459.9" r="0.7"/><circle cx="58.2" cy="498.4" r="0.6"/><circle cx="25.4" cy="489.9" r="1"/><circle cx="161.3" cy="532.6" r="0.8"/><circle cx="52.6" cy="554.9" r="0.8"/><circle cx="123.4" cy="457.4" r="0.6"/><circle cx="139.7" cy="537.8" r="1"/><circle cx="104.5" cy="499.1" r="0.8"/><circle cx="141.3" cy="486.7" r="0.8"/><circle cx="56.1" cy="534.9" r="0.5"/><circle cx="116.9" cy="554.4" r="0.5"/><circle cx="103.3" cy="521.9" r="1"/><circle cx="101.9" cy="481.4" r="0.7"/><circle cx="157.6" cy="549.3" r="0.6"/><circle cx="29.2" cy="464.3" r="0.5"/><circle cx="81.5" cy="469.2" r="1"/><circle cx="112.5" cy="467.7" r="0.8"/><circle cx="63.3" cy="506.2" r="0.6"/><circle cx="39.7" cy="473.7" r="0.7"/><circle cx="120.6" cy="512.1" r="0.5"/><circle cx="120.7" cy="546" r="1"/><circle cx="132.6" cy="455.3" r="0.8"/><circle cx="24.5" cy="534.5" r="0.6"/><circle cx="120.8" cy="480.9" r="0.9"/><circle cx="61.7" cy="458.8" r="0.7"/><circle cx="61.1" cy="548.8" r="0.7"/><circle cx="89.9" cy="512" r="1.1"/><circle cx="29.7" cy="517.4" r="0.8"/><circle cx="124.3" cy="555.8" r="0.7"/><circle cx="119" cy="509.5" r="0.8"/><circle cx="24.5" cy="539.8" r="1.1"/><circle cx="67.9" cy="487.8" r="1.1"/><circle cx="31.1" cy="462.4" r="0.5"/><circle cx="136.1" cy="534.1" r="0.8"/><circle cx="107.4" cy="456.5" r="0.9"/><circle cx="80.9" cy="508.7" r="0.7"/><circle cx="74.7" cy="478.1" r="0.5"/><circle cx="79.6" cy="480.3" r="0.9"/><circle cx="136.6" cy="530.3" r="0.8"/><circle cx="50.2" cy="494.8" r="0.8"/><circle cx="109" cy="555.4" r="0.6"/><circle cx="86.4" cy="506" r="0.9"/><circle cx="147.4" cy="536.1" r="0.9"/><circle cx="127.8" cy="524.4" r="1"/><circle cx="119" cy="526" r="0.6"/><circle cx="151.3" cy="494.9" r="0.9"/><circle cx="137.7" cy="555.4" r="1.1"/><circle cx="16" cy="487.2" r="0.7"/><circle cx="73.2" cy="469.7" r="0.8"/><circle cx="26.9" cy="486.2" r="1.1"/><circle cx="125.4" cy="502.9" r="0.6"/><circle cx="157.2" cy="528.2" r="0.6"/><circle cx="64.9" cy="521.7" r="0.9"/><circle cx="53.8" cy="554.1" r="0.7"/><circle cx="52.9" cy="543" r="0.6"/><circle cx="116.3" cy="475.4" r="0.9"/><circle cx="56.3" cy="494.2" r="1.1"/><circle cx="84.5" cy="500.2" r="0.9"/><circle cx="56.8" cy="472.7" r="0.7"/><circle cx="55.6" cy="474.2" r="1.1"/><circle cx="20.2" cy="539.4" r="1.1"/><circle cx="119.8" cy="456.4" r="0.8"/><circle cx="20.9" cy="518.1" r="0.9"/><circle cx="50.8" cy="455.2" r="0.8"/><circle cx="29.1" cy="486.8" r="0.8"/><circle cx="148" cy="493.2" r="0.6"/><circle cx="132.8" cy="540.6" r="0.8"/><circle cx="22.4" cy="474.1" r="0.7"/><circle cx="97.1" cy="478" r="1"/><circle cx="140.5" cy="551.4" r="1"/><circle cx="17.7" cy="515.4" r="0.5"/><circle cx="148.8" cy="532.7" r="1"/><circle cx="43" cy="460.7" r="1"/><circle cx="105.2" cy="519.4" r="0.8"/><circle cx="134" cy="489.9" r="0.7"/><circle cx="67.6" cy="485.7" r="0.9"/><circle cx="147.4" cy="461.9" r="0.5"/><circle cx="91.1" cy="525.5" r="0.6"/><circle cx="55.2" cy="460.6" r="0.5"/><circle cx="88.7" cy="525.8" r="0.9"/><circle cx="38.6" cy="465.4" r="1.1"/><circle cx="95.1" cy="497.2" r="0.9"/><circle cx="123.3" cy="509.4" r="0.5"/><circle cx="138" cy="476.8" r="0.5"/><circle cx="67.4" cy="510.2" r="0.9"/><circle cx="40.9" cy="528.8" r="0.8"/><circle cx="39.1" cy="543.6" r="1"/><circle cx="149.8" cy="525.6" r="0.6"/><circle cx="130.7" cy="549" r="0.8"/><circle cx="150.1" cy="556.1" r="0.7"/><circle cx="155.1" cy="552.6" r="1"/><circle cx="16.7" cy="491.3" r="0.9"/><circle cx="105.3" cy="533.6" r="0.9"/><circle cx="39.1" cy="552" r="0.8"/><circle cx="146.1" cy="476.1" r="1.1"/><circle cx="97.5" cy="535.7" r="0.9"/><circle cx="146.3" cy="492.4" r="0.5"/><circle cx="75.4" cy="473.1" r="0.8"/><circle cx="136.2" cy="492.4" r="0.6"/><circle cx="19.1" cy="498.8" r="0.8"/><circle cx="19" cy="524.2" r="0.6"/><circle cx="31" cy="551.6" r="0.8"/><circle cx="148.1" cy="508.3" r="0.6"/><circle cx="50.7" cy="498.9" r="0.9"/><circle cx="129.7" cy="533.2" r="0.9"/><circle cx="52.7" cy="499.5" r="0.7"/><circle cx="87.8" cy="482.3" r="0.8"/><circle cx="83.3" cy="458.2" r="1"/><circle cx="102.2" cy="538.6" r="0.9"/><circle cx="123.7" cy="558.5" r="0.7"/><circle cx="73.6" cy="454.8" r="0.9"/><circle cx="101.5" cy="514.8" r="1.1"/><circle cx="44.3" cy="478.3" r="0.9"/><circle cx="135.8" cy="505" r="0.5"/><circle cx="70.1" cy="541" r="0.8"/><circle cx="83.7" cy="495.3" r="0.9"/><circle cx="104" cy="527.1" r="1"/><circle cx="126.7" cy="493.7" r="0.7"/><circle cx="131.3" cy="537.5" r="1.1"/><circle cx="44.6" cy="543.3" r="1"/><circle cx="26.5" cy="486.7" r="0.9"/><circle cx="36.8" cy="541.5" r="0.7"/><circle cx="116.5" cy="485.4" r="0.6"/><circle cx="45.8" cy="506.6" r="0.9"/><circle cx="47.4" cy="526.4" r="0.7"/><circle cx="111.6" cy="493" r="0.6"/><circle cx="36" cy="460.5" r="0.9"/><circle cx="76.6" cy="467.4" r="1"/><circle cx="112.4" cy="456.7" r="0.9"/><circle cx="103.5" cy="500.9" r="0.8"/><circle cx="158.1" cy="493.6" r="0.9"/><circle cx="109.6" cy="492.8" r="0.7"/><circle cx="127.3" cy="521.1" r="0.8"/><circle cx="91.4" cy="477.9" r="1"/><circle cx="18" cy="521.8" r="0.8"/><circle cx="48" cy="515.9" r="0.8"/><circle cx="28" cy="505.8" r="0.6"/><circle cx="133.9" cy="488.7" r="0.7"/><circle cx="47.1" cy="459.5" r="0.6"/><circle cx="37.6" cy="519.8" r="1"/><circle cx="47.9" cy="466.2" r="0.8"/><circle cx="32.2" cy="496.9" r="1"/><circle cx="45.3" cy="527.8" r="0.8"/><circle cx="27.7" cy="479.9" r="0.9"/><circle cx="29.4" cy="475.8" r="0.8"/><circle cx="136.7" cy="509" r="0.9"/><circle cx="16.4" cy="486.2" r="0.7"/><circle cx="150.9" cy="491.9" r="1"/><circle cx="20.2" cy="506.7" r="1"/><circle cx="129.7" cy="515.2" r="0.6"/><circle cx="152.8" cy="462.8" r="1.1"/><circle cx="130.5" cy="529.9" r="0.8"/><circle cx="39.4" cy="490.2" r="0.9"/><circle cx="112.6" cy="495.2" r="1"/><circle cx="23" cy="484.5" r="0.6"/><circle cx="63.3" cy="537.5" r="1"/><circle cx="37.3" cy="486.8" r="0.6"/><circle cx="113.5" cy="500.8" r="0.6"/><circle cx="70.7" cy="545.1" r="0.8"/><circle cx="117.8" cy="520.2" r="0.8"/><circle cx="97.8" cy="492.6" r="0.6"/><circle cx="88.6" cy="486.4" r="0.7"/><circle cx="42.8" cy="550.1" r="0.8"/><circle cx="44.8" cy="457.8" r="0.6"/><circle cx="144.2" cy="489.7" r="0.9"/><circle cx="49.3" cy="522.6" r="0.8"/><circle cx="124.5" cy="509.8" r="0.7"/><circle cx="56.7" cy="516.7" r="1"/><circle cx="117.9" cy="504.8" r="0.7"/><circle cx="147.6" cy="543.1" r="0.6"/><circle cx="116" cy="535.3" r="0.9"/><circle cx="158.4" cy="546.5" r="0.6"/><circle cx="163.2" cy="488.8" r="0.7"/><circle cx="160.2" cy="472" r="0.7"/><circle cx="108.1" cy="483" r="0.7"/><circle cx="133.1" cy="518.6" r="0.9"/><circle cx="132.5" cy="545.8" r="1"/><circle cx="137.5" cy="557" r="0.8"/><circle cx="119.4" cy="508.3" r="1.1"/><circle cx="112.4" cy="499.6" r="0.9"/><circle cx="58.9" cy="468" r="0.7"/><circle cx="35.4" cy="454.9" r="0.6"/><circle cx="82.6" cy="534.4" r="0.5"/><circle cx="109.7" cy="466.1" r="0.8"/><circle cx="59" cy="501.2" r="0.9"/><circle cx="76.5" cy="495.5" r="0.9"/><circle cx="32.3" cy="491" r="0.9"/><circle cx="139.2" cy="557.1" r="0.7"/><circle cx="108" cy="487.2" r="0.9"/><circle cx="140.9" cy="468.6" r="0.7"/><circle cx="154.2" cy="491.4" r="0.9"/><circle cx="136.7" cy="483.6" r="1"/><circle cx="15.6" cy="490.1" r="0.6"/><circle cx="66.5" cy="476.8" r="0.5"/><circle cx="134.5" cy="472.6" r="0.8"/><circle cx="97.4" cy="543.5" r="1"/><circle cx="107.5" cy="472.1" r="1"/><circle cx="29.6" cy="551.7" r="0.7"/><circle cx="52.6" cy="477.1" r="0.7"/><circle cx="132.7" cy="544" r="0.9"/><circle cx="123.5" cy="480" r="0.7"/><circle cx="60.3" cy="499.9" r="1"/><circle cx="163.1" cy="463.2" r="1.1"/><circle cx="151.6" cy="502.7" r="0.9"/><circle cx="131.7" cy="474" r="0.9"/><circle cx="161" cy="546.7" r="1"/><circle cx="27.7" cy="529.3" r="0.8"/><circle cx="150.2" cy="471.9" r="0.8"/><circle cx="33" cy="538.7" r="0.9"/><circle cx="19.7" cy="486.9" r="0.6"/><circle cx="109.5" cy="520.5" r="0.5"/><circle cx="156.4" cy="555.6" r="0.8"/><circle cx="100.4" cy="492.5" r="0.9"/><circle cx="74.3" cy="500.6" r="0.9"/><circle cx="42.8" cy="485.7" r="1"/><circle cx="48.5" cy="461.7" r="1"/><circle cx="38.8" cy="497.5" r="0.7"/><circle cx="54" cy="491.4" r="0.8"/><circle cx="32.3" cy="510.3" r="0.5"/><circle cx="26.8" cy="475.6" r="0.6"/><circle cx="65.8" cy="485" r="1"/><circle cx="112.9" cy="504" r="1"/><circle cx="117" cy="487.5" r="0.9"/><circle cx="125.9" cy="510.4" r="1"/><circle cx="109.1" cy="551.7" r="0.7"/><circle cx="114.9" cy="556.8" r="0.8"/></g>
<g fill="#2c2cb0" opacity="0.75"><circle cx="149.6" cy="464.4" r="0.9"/><circle cx="54.5" cy="533.1" r="0.7"/><circle cx="94.6" cy="480.5" r="0.6"/><circle cx="143.7" cy="521.9" r="0.8"/><circle cx="32.3" cy="485.2" r="1"/><circle cx="45.3" cy="510.8" r="0.8"/><circle cx="90.9" cy="512.5" r="1"/><circle cx="131.2" cy="479.3" r="0.7"/><circle cx="77.5" cy="526.1" r="0.8"/><circle cx="53.9" cy="527" r="0.7"/><circle cx="17.3" cy="485" r="0.7"/><circle cx="44.3" cy="524.7" r="1"/><circle cx="153.5" cy="520.4" r="0.9"/><circle cx="88.1" cy="515.9" r="0.9"/><circle cx="23.9" cy="492.4" r="0.7"/><circle cx="65.8" cy="499.3" r="0.5"/><circle cx="116" cy="554.7" r="0.6"/><circle cx="42.7" cy="489.5" r="0.9"/><circle cx="48.7" cy="535.2" r="0.6"/><circle cx="103.5" cy="530" r="0.8"/><circle cx="27.6" cy="554.7" r="0.9"/><circle cx="86.6" cy="544.5" r="0.8"/><circle cx="40.1" cy="496" r="0.9"/><circle cx="84" cy="458.8" r="0.6"/><circle cx="42.7" cy="515.8" r="0.8"/><circle cx="81.6" cy="496.8" r="1"/><circle cx="66" cy="524.9" r="0.6"/><circle cx="91.5" cy="473.3" r="0.6"/><circle cx="65.1" cy="466.5" r="0.7"/><circle cx="112.1" cy="512" r="0.9"/><circle cx="86" cy="463.3" r="0.9"/><circle cx="74.8" cy="533.2" r="1"/><circle cx="93" cy="480.7" r="0.7"/><circle cx="89.2" cy="487.9" r="0.6"/><circle cx="74.3" cy="523.2" r="0.9"/><circle cx="128.3" cy="547.1" r="0.9"/><circle cx="76.2" cy="522" r="0.5"/><circle cx="133.1" cy="528.6" r="0.6"/><circle cx="85.3" cy="482.9" r="0.9"/><circle cx="78.5" cy="536.3" r="1"/><circle cx="130.7" cy="494.3" r="0.7"/><circle cx="155.7" cy="549.2" r="0.6"/><circle cx="68.9" cy="537" r="0.9"/><circle cx="57.1" cy="501.2" r="1"/><circle cx="28.5" cy="483.2" r="0.8"/><circle cx="150" cy="553.7" r="0.7"/><circle cx="132.5" cy="556.3" r="0.7"/><circle cx="48.9" cy="481.6" r="0.9"/><circle cx="35.8" cy="511.7" r="1"/><circle cx="44.9" cy="520.3" r="0.8"/><circle cx="158.7" cy="508.2" r="0.7"/><circle cx="149.4" cy="533.3" r="0.6"/><circle cx="134.6" cy="496.3" r="1"/><circle cx="158.2" cy="506.1" r="0.7"/><circle cx="48.8" cy="483.4" r="0.6"/><circle cx="40.1" cy="531" r="0.5"/><circle cx="104.1" cy="517.1" r="0.9"/><circle cx="99.4" cy="551.6" r="0.6"/><circle cx="28.9" cy="515.5" r="0.6"/><circle cx="162" cy="551" r="0.8"/><circle cx="139" cy="480.1" r="0.7"/><circle cx="72" cy="490.6" r="0.7"/><circle cx="86.1" cy="523" r="0.5"/><circle cx="95.2" cy="467.9" r="1"/><circle cx="97.1" cy="516.2" r="0.7"/><circle cx="120" cy="528.8" r="1"/><circle cx="101.4" cy="482.7" r="0.8"/><circle cx="22.5" cy="532.4" r="0.7"/><circle cx="122" cy="468.3" r="0.8"/><circle cx="40.2" cy="458.3" r="0.6"/><circle cx="141.2" cy="495.2" r="0.8"/><circle cx="132.6" cy="557" r="0.6"/><circle cx="118.2" cy="536.4" r="0.9"/><circle cx="66.6" cy="504.2" r="0.9"/><circle cx="52.3" cy="505.3" r="0.8"/><circle cx="141.6" cy="480" r="0.8"/><circle cx="47.3" cy="470.9" r="0.7"/><circle cx="111.4" cy="521.5" r="1"/><circle cx="39.5" cy="510" r="0.7"/><circle cx="53.5" cy="550.6" r="0.6"/><circle cx="53.8" cy="458.7" r="0.8"/><circle cx="112.8" cy="477.9" r="1"/><circle cx="109.4" cy="475.6" r="1"/><circle cx="141.9" cy="487.3" r="0.9"/><circle cx="34.4" cy="490.9" r="0.7"/><circle cx="157" cy="485.8" r="0.7"/><circle cx="45.9" cy="540.3" r="0.6"/><circle cx="141.1" cy="490.2" r="0.8"/><circle cx="145.4" cy="482.4" r="0.8"/><circle cx="109.6" cy="515" r="0.7"/><circle cx="111.1" cy="487.4" r="0.6"/><circle cx="16.4" cy="517.9" r="0.8"/><circle cx="133.9" cy="470.9" r="0.8"/><circle cx="82.4" cy="509.5" r="0.9"/><circle cx="92.2" cy="500.1" r="0.8"/><circle cx="37" cy="545.9" r="0.8"/><circle cx="21.4" cy="504.9" r="1"/><circle cx="160.6" cy="499.1" r="0.6"/><circle cx="154.3" cy="484.2" r="0.5"/><circle cx="51.8" cy="503.8" r="0.8"/><circle cx="25" cy="489.5" r="0.9"/><circle cx="66.3" cy="472.9" r="0.9"/><circle cx="80" cy="527.3" r="0.7"/><circle cx="135.8" cy="508.1" r="1"/><circle cx="135.9" cy="530.1" r="0.7"/><circle cx="105.7" cy="493.9" r="0.5"/><circle cx="146.6" cy="539" r="0.9"/><circle cx="142.8" cy="512.2" r="1"/><circle cx="85.4" cy="557.2" r="0.5"/><circle cx="71.3" cy="514.3" r="0.9"/><circle cx="92.5" cy="537.2" r="0.7"/><circle cx="115.7" cy="537.9" r="0.8"/><circle cx="18.2" cy="523.3" r="0.5"/><circle cx="60.1" cy="466.5" r="0.9"/><circle cx="40.1" cy="529.8" r="0.5"/><circle cx="45.8" cy="527.3" r="1"/><circle cx="25.7" cy="518.8" r="0.7"/><circle cx="107.5" cy="462.5" r="0.5"/><circle cx="26.8" cy="547.8" r="0.7"/><circle cx="106.1" cy="468.4" r="0.8"/><circle cx="149" cy="475.2" r="0.9"/><circle cx="141.2" cy="558.4" r="0.8"/><circle cx="110.9" cy="490.6" r="0.9"/><circle cx="61.2" cy="519.8" r="0.8"/><circle cx="162.1" cy="536.9" r="0.5"/><circle cx="41.4" cy="491.9" r="0.7"/><circle cx="121.6" cy="481.7" r="0.8"/><circle cx="82.3" cy="486.4" r="0.8"/><circle cx="79.6" cy="557.1" r="0.6"/><circle cx="148.7" cy="521.2" r="0.7"/><circle cx="26.6" cy="522.2" r="0.9"/><circle cx="67.1" cy="529.1" r="0.8"/><circle cx="28.5" cy="544.5" r="0.7"/><circle cx="86.5" cy="534.2" r="0.9"/><circle cx="142" cy="493" r="0.9"/><circle cx="37.8" cy="512.3" r="0.7"/><circle cx="143.8" cy="530.1" r="0.8"/><circle cx="135.6" cy="490.9" r="0.7"/><circle cx="30.3" cy="491.2" r="0.6"/><circle cx="123.8" cy="468" r="1"/><circle cx="104.3" cy="501.2" r="0.6"/><circle cx="81.4" cy="513.5" r="0.6"/><circle cx="160.2" cy="492.3" r="0.7"/><circle cx="57.4" cy="493.5" r="0.6"/><circle cx="142" cy="462" r="0.7"/><circle cx="103.9" cy="504.7" r="0.7"/><circle cx="87" cy="461" r="0.7"/><circle cx="79.8" cy="534.8" r="0.7"/><circle cx="76.8" cy="523" r="0.6"/><circle cx="96.9" cy="474.9" r="0.8"/><circle cx="95.2" cy="523" r="0.9"/><circle cx="133.3" cy="558" r="0.6"/><circle cx="156.9" cy="501.1" r="0.7"/><circle cx="82.7" cy="551" r="1"/><circle cx="134.7" cy="486" r="0.6"/><circle cx="45.3" cy="524.9" r="0.9"/><circle cx="24.8" cy="454.8" r="1"/><circle cx="65.3" cy="458.8" r="0.7"/><circle cx="29.6" cy="539.8" r="0.8"/><circle cx="106.1" cy="551.6" r="0.6"/><circle cx="47" cy="536.9" r="0.8"/><circle cx="80.2" cy="491.8" r="0.8"/><circle cx="155.5" cy="553.8" r="1"/><circle cx="160.5" cy="468.2" r="0.5"/><circle cx="138.3" cy="480.3" r="0.8"/><circle cx="84.7" cy="556.5" r="0.7"/><circle cx="35.1" cy="475.8" r="1"/><circle cx="136.3" cy="469.1" r="1"/><circle cx="70.3" cy="530.7" r="0.8"/><circle cx="142.6" cy="505.7" r="0.5"/><circle cx="98" cy="543.6" r="0.7"/><circle cx="137.9" cy="501.2" r="0.7"/><circle cx="68.4" cy="478.4" r="0.8"/><circle cx="157.7" cy="516.3" r="0.9"/><circle cx="41.7" cy="493.2" r="0.8"/><circle cx="72.1" cy="455.4" r="0.9"/><circle cx="34.2" cy="523.5" r="1"/><circle cx="58.1" cy="482.7" r="0.7"/><circle cx="95.6" cy="557.1" r="0.6"/><circle cx="51.5" cy="548.4" r="0.6"/><circle cx="114.2" cy="530.1" r="0.5"/><circle cx="19.1" cy="534" r="1"/><circle cx="118.3" cy="503.4" r="0.6"/><circle cx="93.4" cy="466" r="0.7"/><circle cx="20.3" cy="508.4" r="0.7"/><circle cx="57.3" cy="477.6" r="0.5"/><circle cx="19.2" cy="467.7" r="1"/><circle cx="20" cy="529.5" r="0.7"/><circle cx="102.4" cy="486.4" r="1"/><circle cx="135.1" cy="496.8" r="0.7"/><circle cx="151.5" cy="470.8" r="0.9"/><circle cx="107.1" cy="513.9" r="0.8"/><circle cx="102.9" cy="464" r="0.6"/><circle cx="67.6" cy="477.6" r="0.5"/><circle cx="121" cy="498.6" r="0.9"/><circle cx="73.3" cy="553.1" r="0.6"/><circle cx="91.2" cy="498.8" r="0.9"/><circle cx="34.5" cy="511.6" r="0.7"/><circle cx="107.9" cy="478.8" r="0.8"/><circle cx="161.5" cy="465.2" r="1"/><circle cx="158.8" cy="501.4" r="0.5"/><circle cx="88.9" cy="555.3" r="0.5"/><circle cx="127" cy="536.2" r="0.6"/><circle cx="104.7" cy="470" r="0.5"/><circle cx="92.6" cy="485.7" r="0.8"/><circle cx="93.4" cy="478.5" r="1"/><circle cx="16" cy="538.5" r="0.6"/><circle cx="148.7" cy="518.1" r="0.7"/><circle cx="47.2" cy="544.2" r="0.9"/><circle cx="157.9" cy="516.2" r="1"/><circle cx="148.1" cy="524.3" r="0.7"/><circle cx="104.8" cy="490.4" r="0.9"/><circle cx="97.3" cy="545.3" r="0.9"/><circle cx="127.2" cy="475.7" r="0.7"/><circle cx="27.8" cy="489.6" r="0.6"/><circle cx="59.6" cy="537.6" r="0.6"/><circle cx="151.5" cy="551" r="0.9"/><circle cx="50.5" cy="484.9" r="0.7"/><circle cx="107.1" cy="551.5" r="0.5"/><circle cx="27.9" cy="540.6" r="0.5"/><circle cx="147.9" cy="474" r="1"/><circle cx="85.1" cy="517.9" r="0.9"/><circle cx="137.4" cy="497.9" r="0.7"/><circle cx="132.3" cy="481.3" r="0.7"/><circle cx="144.5" cy="546.9" r="0.9"/><circle cx="66.2" cy="490.4" r="0.6"/><circle cx="138.8" cy="459.5" r="0.6"/><circle cx="18.6" cy="502.4" r="1"/><circle cx="25.5" cy="480.9" r="0.6"/><circle cx="119.3" cy="491.8" r="0.6"/><circle cx="117.9" cy="548.8" r="0.6"/><circle cx="24.4" cy="497.1" r="1"/><circle cx="23.9" cy="468.9" r="0.8"/><circle cx="128.2" cy="501.8" r="0.5"/><circle cx="96.9" cy="464.9" r="0.5"/><circle cx="23.5" cy="552.6" r="0.6"/><circle cx="85.7" cy="540.5" r="0.6"/><circle cx="73" cy="537.6" r="0.8"/><circle cx="43.9" cy="510.7" r="1"/><circle cx="136.8" cy="555.3" r="0.5"/><circle cx="23.7" cy="507.1" r="0.5"/><circle cx="158.1" cy="485.1" r="0.8"/><circle cx="145.5" cy="499" r="0.9"/><circle cx="38" cy="501.1" r="0.9"/><circle cx="84.6" cy="473.9" r="0.9"/><circle cx="68.2" cy="550.1" r="0.7"/><circle cx="138.1" cy="467.4" r="0.8"/><circle cx="156.5" cy="520.2" r="0.7"/><circle cx="160.9" cy="555.7" r="0.9"/><circle cx="48.1" cy="463.8" r="0.8"/><circle cx="35" cy="460.8" r="0.8"/><circle cx="155.4" cy="482.8" r="0.9"/><circle cx="157.9" cy="553.1" r="0.5"/><circle cx="35" cy="554.5" r="1"/><circle cx="40.6" cy="473.4" r="0.9"/><circle cx="29.5" cy="465.3" r="0.6"/><circle cx="101" cy="493.4" r="0.9"/><circle cx="37.8" cy="548.4" r="0.9"/><circle cx="70.7" cy="517.8" r="0.8"/><circle cx="33.2" cy="552.1" r="0.7"/><circle cx="91.6" cy="543.7" r="0.5"/><circle cx="54.8" cy="457.7" r="0.9"/><circle cx="47.6" cy="529.7" r="0.9"/><circle cx="163.1" cy="473.3" r="0.7"/><circle cx="132.2" cy="501" r="0.6"/><circle cx="115.4" cy="537.7" r="0.7"/><circle cx="71.8" cy="468.3" r="0.7"/><circle cx="140" cy="491.6" r="1"/><circle cx="68.2" cy="504.3" r="0.9"/><circle cx="150.6" cy="543" r="0.7"/><circle cx="82.2" cy="468" r="0.8"/><circle cx="136.8" cy="474.4" r="0.7"/><circle cx="24.8" cy="502" r="0.7"/><circle cx="162.2" cy="524.7" r="1"/><circle cx="44.8" cy="500.3" r="0.9"/><circle cx="26.1" cy="514.3" r="0.8"/><circle cx="19.1" cy="475.7" r="0.9"/><circle cx="39.1" cy="521.3" r="0.7"/><circle cx="73" cy="546.2" r="0.7"/><circle cx="145.8" cy="540.4" r="0.8"/><circle cx="30.2" cy="489.4" r="1"/><circle cx="54.3" cy="516.3" r="0.6"/><circle cx="123.9" cy="526.5" r="0.9"/><circle cx="103.3" cy="466" r="0.9"/><circle cx="100.7" cy="553.3" r="0.8"/><circle cx="63.3" cy="500.9" r="0.8"/><circle cx="118.9" cy="520.7" r="0.9"/><circle cx="94.7" cy="475.9" r="0.9"/><circle cx="120.8" cy="471" r="0.7"/><circle cx="141.6" cy="514.9" r="0.6"/><circle cx="143.8" cy="531" r="0.6"/><circle cx="118.3" cy="544.9" r="0.8"/><circle cx="156" cy="510.8" r="0.5"/><circle cx="113.1" cy="541.4" r="1"/><circle cx="127.3" cy="553.1" r="0.9"/><circle cx="85.5" cy="460.8" r="0.6"/><circle cx="22.4" cy="551.4" r="0.9"/><circle cx="149.8" cy="535.8" r="0.7"/><circle cx="98.9" cy="457.1" r="0.6"/><circle cx="74.6" cy="460.1" r="0.7"/><circle cx="92.2" cy="471.4" r="0.6"/><circle cx="27.8" cy="502.4" r="0.9"/><circle cx="81.6" cy="528.2" r="0.9"/><circle cx="134.6" cy="537.8" r="0.8"/><circle cx="21.9" cy="472.1" r="0.6"/><circle cx="65.2" cy="517.2" r="0.7"/><circle cx="57.9" cy="472" r="0.9"/><circle cx="163.1" cy="528" r="0.6"/><circle cx="118.4" cy="538.2" r="0.8"/><circle cx="109.3" cy="544.8" r="0.7"/><circle cx="120.1" cy="472.2" r="0.9"/><circle cx="99.9" cy="474.5" r="0.8"/><circle cx="137.7" cy="501.1" r="0.7"/><circle cx="120.7" cy="558.7" r="1"/><circle cx="61.1" cy="505.4" r="0.7"/><circle cx="36.2" cy="511.7" r="0.6"/><circle cx="86.1" cy="541.3" r="0.8"/><circle cx="162.2" cy="475.7" r="0.6"/><circle cx="24.6" cy="528.4" r="0.6"/><circle cx="47.6" cy="521.2" r="1"/><circle cx="127" cy="554.7" r="1"/><circle cx="93.4" cy="477.5" r="0.9"/><circle cx="47.4" cy="461.7" r="0.7"/><circle cx="124.9" cy="520.8" r="0.7"/><circle cx="33.7" cy="472.5" r="0.8"/><circle cx="88.5" cy="511.3" r="0.9"/><circle cx="100.3" cy="545.4" r="1"/><circle cx="92.2" cy="492.2" r="0.8"/><circle cx="52.2" cy="472.8" r="0.9"/><circle cx="80.7" cy="456.8" r="0.7"/><circle cx="62.8" cy="460.8" r="0.5"/><circle cx="106.3" cy="538.8" r="0.9"/><circle cx="103.8" cy="478.1" r="0.8"/><circle cx="55.1" cy="478.6" r="0.7"/><circle cx="35.1" cy="466.1" r="1"/><circle cx="27.6" cy="556.2" r="0.8"/><circle cx="125.4" cy="466.1" r="0.8"/><circle cx="44.8" cy="507.7" r="0.7"/><circle cx="149.1" cy="465" r="0.5"/><circle cx="101.9" cy="509.5" r="0.8"/></g>
<line x1="85.2" y1="458.1" x2="89.9" y2="516.7" stroke="#082028" stroke-width="2" opacity="0.65"/>
<line x1="77.5" y1="454.3" x2="83.9" y2="493.9" stroke="#fff" stroke-width="3" stroke-dasharray="7 2.9"/>
<line x1="87.9" y1="454.3" x2="93.9" y2="489.6" stroke="#fff" stroke-width="3" stroke-dasharray="7 2.9"/>
<line x1="144.1" y1="543.3" x2="155.6" y2="543.3" stroke="#fff" stroke-width="1.7" />
<text x="48.3" y="553.5" font-size="9.8" fill="#10924a" font-weight="700" font-style="italic" textLength="85" lengthAdjust="spacingAndGlyphs" >CaMKII&#945;-GCaMP6s</text>
</g>
</g>
<g id="panel-l">
<text x="199" y="433.5" font-size="14.8" fill="#111" font-weight="700" >l</text>
<text x="230.8" y="422.3" font-size="9.2" fill="#111" font-weight="700" textLength="36.3" lengthAdjust="spacingAndGlyphs" >Kindling</text>
<text x="296.2" y="426.8" font-size="9" fill="#d23a4a" font-weight="700" textLength="37.8" lengthAdjust="spacingAndGlyphs" >ebDGCs</text>
<line x1="281.1" y1="415.6" x2="281.1" y2="430" stroke="#d8243c" stroke-width="1.8" />
<path d="M275.6 427 L281.1 429.6 L286.4 427 L281.2 437.4 Z" fill="#d8243c" />
<path d="M230 439.9 L230.3 438.6 L230.6 439.6 L230.9 438.3 L231.2 439.8 L231.5 438.8 L231.8 440.2 L232.1 438.5 L232.4 439.7 L232.7 438.7 L233 439.5 L233.3 438.4 L233.6 440.2 L233.9 438.7 L234.2 439.7 L234.5 438.8 L234.8 439.7 L235.1 438.8 L235.4 439.2 L235.7 439 L236 439.7 L236.3 438.7 L236.6 440 L236.9 438.9 L237.2 439.7 L237.5 438.8 L237.8 440.1 L238.1 438.9 L238.4 439.6 L238.7 438.5 L239 439.5 L239.3 439 L239.6 439.4 L239.9 438.4 L240.2 440.4 L240.5 438.8 L240.8 439.9 L241.1 438.8 L241.4 440 L241.7 438.3 L242 440.3 L242.3 438.9 L242.6 439.5 L242.9 438.6 L243.2 439.2 L243.5 439.1 L243.8 439.4 L244.1 438.6 L244.4 439.4 L244.7 438 L245 439.3 L245.3 438.7 L245.6 439.9 L245.9 438.9 L246.2 440.3 L246.5 438.3 L246.8 439.9 L247.1 438.5 L247.4 439.7 L247.7 438.7 L248 439.9 L248.3 438.7 L248.6 439.1 L248.9 438.3 L249.2 439.9 L249.5 438.5 L249.8 439.5 L250.1 438.4 L250.4 440 L250.7 438.9 L251 440.1 L251.3 438.9 L251.6 438.9 L251.9 439 L252.2 440.2 L252.5 438.3 L252.8 439.4 L253.1 438.3 L253.4 439.4 L253.7 439.2 L254 439.4 L254.3 438.2 L254.6 439.7 L254.9 438.4 L255.2 439.5 L255.5 438 L255.8 440.3 L256.1 438.6 L256.4 439.3 L256.7 438.2 L257 439.4 L257.3 438.4 L257.6 440.9 L257.9 438.4 L258.2 439.8 L258.5 439 L258.8 439.4 L259.1 438.7 L259.4 439.8 L259.7 438.4 L260 439.9 L260.3 438.7 L260.6 439.2 L260.9 438.8 L261.2 440 L261.5 438.7 L261.8 439.4 L262.1 438.9 L262.4 440.2 L262.7 437.5 L263 439.4 L263.3 438.4 L263.6 440.6 L263.9 438.5 L264.2 440.3 L264.5 437.6 L264.8 440.9 L265.1 437.6 L265.4 439.8 L265.7 438.5 L266 440.4 L266.3 438.8 L266.6 440.9 L266.9 437.5 L267.2 439.5 L267.5 437 L267.8 440.2 L268.1 437.9 L268.4 439.2 L268.7 437.5 L269 439.2 L269.3 438.2 L269.6 439.3 L269.9 437.3 L270.2 440.4 L270.5 437.5 L270.8 440.3 L271.1 437.7 L271.4 441.8 L271.7 438.3 L272 440.9 L272.3 437.3 L272.6 440.9 L272.9 437.2 L273.2 439.6 L273.5 438.1 L273.8 441 L274.1 436.9 L274.4 440.3 L274.7 437.4 L275 440.5 L275.3 436.1 L275.6 440.6 L275.9 438.8 L276.2 443.1 L276.5 436.8 L276.8 439.8 L277.1 438 L277.4 441.7 L277.7 438.9 L278 441.1 L278.3 438.6 L278.6 439.6 L278.9 437.5 L279.2 440.7 L279.5 437.4 L279.8 439.7 L280.1 437.1 L280.4 442.4 L280.7 437.5 L281 441.1 L281.3 438.2 L281.6 441.6 L281.9 438.6 L282.2 440 L282.5 437.9 L282.8 439.8 L283.1 437.2 L283.4 441.3 L283.7 438 L284 440.7 L284.3 437.1 L284.6 440.8 L284.9 438.5 L285.2 440 L285.5 436.7 L285.8 441.8 L286.1 436.2 L286.4 441 L286.7 437.9 L287 442.2 L287.3 436.3 L287.6 440.1 L287.9 435.6 L288.2 441.8 L288.5 438.1 L288.8 439.6 L289.1 437.4 L289.4 439.9 L289.7 438.3 L290 440 L290.3 437.2 L290.6 442 L290.9 435.6 L291.2 439.5 L291.5 436.3 L291.8 442.3 L292.1 438.6 L292.4 441.1 L292.7 436.2 L293 439.9 L293.3 435.9 L293.6 443.8 L293.9 433.3 L294.2 441.2 L294.5 436.7 L294.8 444.8 L295.1 437.2 L295.4 443.7 L295.7 440.6 L296 442 L296.3 440.4 L296.6 440.9 L296.9 439.7 L297.2 441 L297.5 439.6 L297.8 440.4 L298.1 438.6 L298.4 440.6 L298.7 438.2 L299 439.6 L299.3 438.5 L299.6 439.7 L299.9 438.2 L300.2 439.2 L300.5 438 L300.8 439.1 L301.1 437.8 L301.4 438.9 L301.7 438.1 L302 438.5 L302.3 438.2 L302.6 438.9 L302.9 438.4 L303.2 439.2 L303.5 439 L303.8 439.9 L304.1 438.3 L304.4 439.6 L304.7 438.5 L305 439.5 L305.3 438.7 L305.6 440.1 L305.9 438.9 L306.2 440 L306.5 438.5 L306.8 439.6 L307.1 438.7 L307.4 440.1 L307.7 438.7 L308 439.6 L308.3 438.3 L308.6 440.1 L308.9 438.6 L309.2 439.9 L309.5 439 L309.8 439.3 L310.1 437.9 L310.4 440.8 L310.7 438.6 L311 439.6 L311.3 438.8 L311.6 439.9 L311.9 438.3 L312.2 439.4 L312.5 438.2 L312.8 439.5 L313.1 438.5 L313.4 439.2 L313.7 439.2 L314 440 L314.3 438.4 L314.6 440.3 L314.9 438 L315.2 440.1 L315.5 437.9 L315.8 439.5 L316.1 438.6 L316.4 439.3 L316.7 439 L317 439.4 L317.3 439.1 L317.6 439.4 L317.9 438.9 L318.2 439.3 L318.5 438.4 L318.8 439.7 L319.1 438.7 L319.4 439 L319.7 438.4 L320 439.8 L320.3 439 L320.6 439.8 L320.9 438.7 L321.2 439.6 L321.5 438.3 L321.8 439.2 L322.1 438.3 L322.4 439.8 L322.7 438.5 L323 439.9 L323.3 438.5 L323.6 439.7 L323.9 438.6 L324.2 440 L324.5 438.6 L324.8 440.3 L325.1 438.9 L325.4 439.6 L325.7 438.6 L326 439.3 L326.3 438.9 L326.6 439.4 L326.9 437.9 L327.2 440.6 L327.5 438.6 L327.8 439.5 L328.1 438.5 L328.4 439.3 L328.7 439 L329 439.5 L329.3 439.2 L329.6 440.2 L329.9 438.6 L330.2 440.2 L330.5 438.4 L330.8 439.7 L331.1 438.8 L331.4 439.5 L331.7 438.3 L332 440.3 L332.3 437.4 L332.6 439.6 L332.9 438 L333.2 439.4 L333.5 438.2 L333.8 439.7 L334.1 438.4 L334.4 440 L334.7 438.2 L335 439.6 L335.3 438.6 L335.6 439.2 L335.9 438.8 L336.2 440.2 L336.5 438.3 L336.8 439.1 L337.1 438.9 L337.4 439.6 L337.7 438.1 L338 439.3 L338.3 439 L338.6 439.1 L338.9 438.6 L339.2 439.7 L339.5 439 L339.8 439 L340.1 438.1 L340.4 439.3 L340.7 438.2 L341 439.5 L341.3 438.9 L341.6 439.2 L341.9 438.1 L342.2 439.5 L342.5 438 L342.8 439.5 L343.1 438.6 L343.4 439.5 L343.7 438.8 L344 439.5 L344.3 438 L344.6 439.8 L344.9 438.7 L345.2 440.1 L345.5 439 L345.8 440 L346.1 438.5 L346.4 439.5 L346.7 438.5 L347 439.6 L347.3 438.7 L347.6 439.8 L347.9 438.8 L348.2 439.3 L348.5 438.5 L348.8 439.3 L349.1 438.1 L349.4 439.5 L349.7 438.4 L350 439.7 L350.3 438.8 L350.6 439.5 L350.9 439 L351.2 440.5 L351.5 439.1 L351.8 439.7 L352.1 439 L352.4 439.8 L352.7 438.6 L353 439.9 L353.3 438.8 L353.6 440 L353.9 438.2 L354.2 439.1 L354.5 438 L354.8 439 L355.1 438.7 L355.4 439.6 L355.7 438.5 L356 440 L356.3 437.9 L356.6 440.1 L356.9 438.8 L357.2 439.3 L357.5 438.6 L357.8 439.7 L358.1 438.9 L358.4 440 L358.7 438.4 L359 439.5 L359.3 438.8 L359.6 439.6 L359.9 439.2 L360.2 440.3 L360.5 438.7 L360.8 439.6 L361.1 438.8 L361.4 440 L361.7 438.6 L362 439.6 L362.3 439.3 L362.6 439.5 L362.9 439 L363.2 439.3 L363.5 438.7 L363.8 439.5 L364.1 437.8 L364.4 439.7 L364.7 438.8 L365 439.3 L365.3 438.9 L365.6 439.7 L365.9 438.2 L366.2 439.6 L366.5 438.5 L366.8 439.9 L367.1 437.7 L367.4 439.9 L367.7 437.9 L368 440 L368.3 438.8 L368.6 439.9 L368.9 439.1 L369.2 439.6 L369.5 438.6 L369.8 439.5 L370.1 439.1 L370.4 440 L370.7 438.6 L371 440.2 L371.3 438.7 L371.6 439.9 L371.9 438.6 L372.2 439.4 L372.5 438.5 L372.8 440.1 L373.1 438.8 L373.4 439.5 L373.7 438.5 L374 439.5 L374.3 438.3 L374.6 439.6 L374.9 438.3 L375.2 440.2 L375.5 439 L375.8 439.6 L376.1 439 L376.4 440.2 L376.7 439 L377 440.5 L377.3 438.8 L377.6 439.8 L377.9 438.7 L378.2 439.8 L378.5 438.1 L378.8 439.7 L379.1 438.9 L379.4 439.3 L379.7 438 L380 440.2 L380.3 439.2 L380.6 439.7 L380.9 438.9 L381.2 439.4 L381.5 439.1 L381.8 439.9 L382.1 439 L382.4 440 L382.7 438 L383 439.8 L383.3 437.8 L383.6 439.3 L383.9 438.2 L384.2 439.3 L384.5 439.2 L384.8 439.3 L385.1 438.5 L385.4 439.3 L385.7 438.2 L386 439.3 L386.3 438.3 L386.6 439.3 L386.9 438.5 L387.2 439.6 L387.5 438.6 L387.8 439.9 L388.1 438.5 L388.4 440.1 L388.7 438.8 L389 440.1 L389.3 438.1 L389.6 439.5 L389.9 438.9 L390.2 439.4 L390.5 438.4 L390.8 439.6 L391.1 438.5 L391.4 439.3 L391.7 438.4 L392 439.6 L392.3 438.9 L392.6 439.9 L392.9 438.9" fill="none" stroke="#e0212f" stroke-width="1.05" stroke-linejoin="round"/>
<line x1="230" y1="439.1" x2="393" y2="439.1" stroke="#e0212f" stroke-width="1.5" />
<line x1="251.2" y1="439" x2="251.2" y2="445.2" stroke="#e0212f" stroke-width="0.9" />
<line x1="252.6" y1="439" x2="252.6" y2="445" stroke="#e0212f" stroke-width="0.9" />
<line x1="254" y1="439" x2="254" y2="444.8" stroke="#e0212f" stroke-width="0.9" />
<line x1="255.4" y1="439" x2="255.4" y2="444.7" stroke="#e0212f" stroke-width="0.9" />
<line x1="256.8" y1="439" x2="256.8" y2="444.5" stroke="#e0212f" stroke-width="0.9" />
<line x1="258.2" y1="439" x2="258.2" y2="444.3" stroke="#e0212f" stroke-width="0.9" />
<line x1="259.6" y1="439" x2="259.6" y2="444.2" stroke="#e0212f" stroke-width="0.9" />
<line x1="261" y1="439" x2="261" y2="444" stroke="#e0212f" stroke-width="0.9" />
<line x1="288.5" y1="431.5" x2="288.5" y2="444.5" stroke="#e0212f" stroke-width="0.8" />
<line x1="290.5" y1="431.5" x2="290.5" y2="444.5" stroke="#e0212f" stroke-width="0.8" />
<line x1="292.5" y1="431.5" x2="292.5" y2="444.5" stroke="#e0212f" stroke-width="0.8" />
<text x="352.2" y="465.1" font-size="9.2" fill="#111" font-weight="700" textLength="21.8" lengthAdjust="spacingAndGlyphs" >2 mV</text>
<path d="M378.2 458.1 L378.2 469.9 L393.6 469.9" fill="none" stroke="#111" stroke-width="1.4" />
<text x="378.2" y="479.9" font-size="9.2" fill="#111" font-weight="700" textLength="16" lengthAdjust="spacingAndGlyphs" >10 s</text>
<line x1="230" y1="455.3" x2="230" y2="559" stroke="#111" stroke-width="1.6" />
<line x1="229.2" y1="558.2" x2="396.3" y2="558.2" stroke="#111" stroke-width="1.6" />
<line x1="226.6" y1="457.6" x2="230" y2="457.6" stroke="#111" stroke-width="1.4" />
<text x="223.2" y="461" font-size="9.8" fill="#111" font-weight="700" text-anchor="end" >6</text>
<line x1="226.6" y1="484.1" x2="230" y2="484.1" stroke="#111" stroke-width="1.4" />
<text x="223.2" y="487.5" font-size="9.8" fill="#111" font-weight="700" text-anchor="end" >4</text>
<line x1="226.6" y1="513.5" x2="230" y2="513.5" stroke="#111" stroke-width="1.4" />
<text x="223.2" y="516.9" font-size="9.8" fill="#111" font-weight="700" text-anchor="end" >2</text>
<line x1="226.6" y1="542.6" x2="230" y2="542.6" stroke="#111" stroke-width="1.4" />
<text x="223.2" y="546" font-size="9.8" fill="#111" font-weight="700" text-anchor="end" >0</text>
<text x="230.8" y="569.9" font-size="9.8" fill="#111" font-weight="700" text-anchor="middle" >- 10</text>
<line x1="247.6" y1="558.2" x2="247.6" y2="560.4" stroke="#111" stroke-width="1.4" />
<text x="247.6" y="569.9" font-size="9.8" fill="#111" font-weight="700" text-anchor="middle" >0</text>
<line x1="264.4" y1="558.2" x2="264.4" y2="560.4" stroke="#111" stroke-width="1.4" />
<text x="264.4" y="569.9" font-size="9.8" fill="#111" font-weight="700" text-anchor="middle" >10</text>
<line x1="281.1" y1="558.2" x2="281.1" y2="560.4" stroke="#111" stroke-width="1.4" />
<text x="281.1" y="569.9" font-size="9.8" fill="#111" font-weight="700" text-anchor="middle" >20</text>
<line x1="297.9" y1="558.2" x2="297.9" y2="560.4" stroke="#111" stroke-width="1.4" />
<text x="297.9" y="569.9" font-size="9.8" fill="#111" font-weight="700" text-anchor="middle" >30</text>
<line x1="314.7" y1="558.2" x2="314.7" y2="560.4" stroke="#111" stroke-width="1.4" />
<text x="314.7" y="569.9" font-size="9.8" fill="#111" font-weight="700" text-anchor="middle" >40</text>
<line x1="331.4" y1="558.2" x2="331.4" y2="560.4" stroke="#111" stroke-width="1.4" />
<text x="331.4" y="569.9" font-size="9.8" fill="#111" font-weight="700" text-anchor="middle" >50</text>
<line x1="348.2" y1="558.2" x2="348.2" y2="560.4" stroke="#111" stroke-width="1.4" />
<text x="348.2" y="569.9" font-size="9.8" fill="#111" font-weight="700" text-anchor="middle" >60</text>
<line x1="365" y1="558.2" x2="365" y2="560.4" stroke="#111" stroke-width="1.4" />
<text x="365" y="569.9" font-size="9.8" fill="#111" font-weight="700" text-anchor="middle" >70</text>
<line x1="381.8" y1="558.2" x2="381.8" y2="560.4" stroke="#111" stroke-width="1.4" />
<text x="381.8" y="569.9" font-size="9.8" fill="#111" font-weight="700" text-anchor="middle" >80</text>
<text transform="translate(211.6 496.4) rotate(-90)" font-size="9.8" fill="#111" text-anchor="middle" font-weight="700">&#916;F/F(%)</text>
<text x="306" y="581.6" font-size="9.8" fill="#111" font-weight="700" text-anchor="middle" >Time (s)</text>
<path d="M230 543 L230.2 541.6 L230.4 543.9 L230.7 541.8 L230.9 542.4 L231.1 542.8 L231.3 540.4 L231.5 544.2 L231.8 543.3 L232 541.6 L232.2 544.4 L232.4 544 L232.6 543.1 L232.9 542.6 L233.1 543.4 L233.3 541.3 L233.5 542.2 L233.7 540.3 L234 540.2 L234.2 542.7 L234.4 542.6 L234.6 544.1 L234.8 543.3 L235.1 543.7 L235.3 543.4 L235.5 542.1 L235.7 543.5 L235.9 541.1 L236.2 544.5 L236.4 543.2 L236.6 542.2 L236.8 543.2 L237 542.2 L237.3 541.5 L237.5 542.9 L237.7 544.6 L237.9 543 L238.1 544.3 L238.4 542.1 L238.6 544.5 L238.8 544.6 L239 543.8 L239.2 540.6 L239.5 544.1 L239.7 542.8 L239.9 542.2 L240.1 543.8 L240.3 542.9 L240.6 543.9 L240.8 542.8 L241 540.9 L241.2 544.2 L241.4 541.2 L241.7 542.3 L241.9 541.1 L242.1 540.2 L242.3 542.1 L242.5 541.8 L242.8 540.4 L243 543.6 L243.2 542.7 L243.4 542.8 L243.6 540.7 L243.9 541.4 L244.1 543.3 L244.3 542.9 L244.5 541.8 L244.7 541.5 L245 544 L245.2 542.3 L245.4 540.9 L245.6 542.9 L245.8 542.9 L246.1 543.2 L246.3 541.3 L246.5 541.9 L246.7 541.5 L246.9 540 L247.2 541.9 L247.4 542.8 L247.6 542.2 L247.8 544 L248 541.4 L248.3 543 L248.5 543.7 L248.7 543.4 L248.9 540.7 L249.1 544.2 L249.4 540.9 L249.6 539.9 L249.8 542.3 L250 541.2 L250.2 541.3 L250.5 540.4 L250.7 543.3 L250.9 540.1 L251.1 541.1 L251.3 544.2 L251.6 540.6 L251.8 542.8 L252 542.8 L252.2 541.5 L252.4 542.6 L252.7 540.6 L252.9 543.4 L253.1 543.8 L253.3 543.1 L253.5 540 L253.8 541 L254 540.4 L254.2 544 L254.4 540 L254.6 543 L254.9 544.2 L255.1 544.2 L255.3 540.9 L255.5 543.6 L255.7 540.4 L256 541.5 L256.2 543 L256.4 541.8 L256.6 540.7 L256.8 542.3 L257.1 541.4 L257.3 543.4 L257.5 543.5 L257.7 540.1 L257.9 543.2 L258.2 540.6 L258.4 540.4 L258.6 543.9 L258.8 544.1 L259 542.4 L259.3 543.6 L259.5 542.4 L259.7 540.7 L259.9 541.7 L260.1 542.5 L260.4 540 L260.6 540.8 L260.8 542.8 L261 542.5 L261.2 539.8 L261.5 539.8 L261.7 543.7 L261.9 540.1 L262.1 543.2 L262.3 542.9 L262.6 540.8 L262.8 540.5 L263 541 L263.2 539.8 L263.4 540 L263.7 543.7 L263.9 541.7 L264.1 543.1 L264.3 543.1 L264.5 540.3 L264.8 542.5 L265 543 L265.2 539.5 L265.4 540.3 L265.6 540.4 L265.9 541 L266.1 541 L266.3 540.3 L266.5 542.1 L266.7 542.6 L267 540.1 L267.2 541.7 L267.4 538.7 L267.6 541.3 L267.8 537.5 L268.1 540.1 L268.3 539.6 L268.5 539.8 L268.7 537.9 L268.9 539.2 L269.2 538.3 L269.4 537 L269.6 537.7 L269.8 538.7 L270 540.2 L270.3 539.6 L270.5 538.6 L270.7 537 L270.9 537.5 L271.1 535 L271.4 534.9 L271.6 536.6 L271.8 534 L272 532.1 L272.2 531.5 L272.5 530.9 L272.7 533.6 L272.9 530.4 L273.1 533.2 L273.3 531.3 L273.6 531 L273.8 529.9 L274 531.1 L274.2 530.6 L274.4 529.7 L274.7 528.6 L274.9 526.7 L275.1 527.3 L275.3 526.3 L275.5 526 L275.8 527.6 L276 525.3 L276.2 527.5 L276.4 523.9 L276.6 522.6 L276.9 526.5 L277.1 520.2 L277.3 524.4 L277.5 524 L277.7 518.6 L278 517 L278.2 523.4 L278.4 524 L278.6 519.1 L278.8 515.5 L279.1 515.3 L279.3 518.9 L279.5 516 L279.7 514 L279.9 519.8 L280.2 522.8 L280.4 515 L280.6 522.9 L280.8 514.7 L281 515.6 L281.3 515.1 L281.5 518.4 L281.7 517.1 L281.9 518.9 L282.1 516.4 L282.4 519.2 L282.6 521.5 L282.8 518.3 L283 516.5 L283.2 521.4 L283.5 522 L283.7 522.6 L283.9 525.3 L284.1 519.2 L284.3 521.1 L284.6 521.4 L284.8 519.8 L285 520.1 L285.2 520.1 L285.4 519.8 L285.7 520.9 L285.9 525.3 L286.1 524.9 L286.3 528.3 L286.5 529.4 L286.8 524.5 L287 524.1 L287.2 527.6 L287.4 532.4 L287.6 525.7 L287.9 528 L288.1 530.1 L288.3 529 L288.5 533.1 L288.7 534 L289 532.2 L289.2 534.7 L289.4 532.9 L289.6 532.8 L289.8 535.8 L290.1 535.3 L290.3 536 L290.5 538.7 L290.7 539.2 L290.9 539.3 L291.2 541 L291.4 539.2 L291.6 541.6 L291.8 541.3 L292 539.8 L292.3 537.9 L292.5 538.3 L292.7 539.5 L292.9 540 L293.1 536.9 L293.4 537.9 L293.6 538.6 L293.8 538 L294 533.6 L294.2 533.7 L294.5 531.6 L294.7 533.3 L294.9 532.6 L295.1 532.5 L295.3 529.3 L295.6 529.5 L295.8 525.2 L296 523.7 L296.2 522.7 L296.4 521.1 L296.7 518.9 L296.9 517.1 L297.1 515 L297.3 513.4 L297.5 508.5 L297.8 509.6 L298 504.4 L298.2 501.9 L298.4 502.6 L298.6 498.1 L298.9 499.3 L299.1 495.9 L299.3 494.5 L299.5 494.2 L299.7 491.2 L300 489.6 L300.2 484.5 L300.4 483 L300.6 480.6 L300.8 477.3 L301.1 476.2 L301.3 473.5 L301.5 471.2 L301.7 468.2 L301.9 469.7 L302.2 468.2 L302.4 466.5 L302.6 468.8 L302.8 468.4 L303 467 L303.3 471.4 L303.5 472.5 L303.7 469.6 L303.9 470.5 L304.1 471.3 L304.4 475.9 L304.6 475.1 L304.8 473.9 L305 474.1 L305.2 475.8 L305.5 473.3 L305.7 470.2 L305.9 470.7 L306.1 470.9 L306.3 473 L306.6 471.3 L306.8 473.2 L307 470.1 L307.2 473.7 L307.4 470.6 L307.7 470.5 L307.9 473.8 L308.1 469.9 L308.3 470.1 L308.5 472.8 L308.8 474.6 L309 470 L309.2 470.3 L309.4 472.9 L309.6 471.5 L309.9 474.1 L310.1 471.7 L310.3 471.2 L310.5 473.3 L310.7 470 L311 474.5 L311.2 471 L311.4 473.7 L311.6 474.6 L311.8 474.7 L312.1 473.4 L312.3 470.4 L312.5 472 L312.7 471.2 L312.9 474.3 L313.2 470.9 L313.4 471.7 L313.6 474.9 L313.8 475.1 L314 476.6 L314.3 476.6 L314.5 477.4 L314.7 475.8 L314.9 475.2 L315.1 477.9 L315.4 474.4 L315.6 473.7 L315.8 475.2 L316 479.1 L316.2 477 L316.5 476.7 L316.7 476.4 L316.9 480 L317.1 477.8 L317.3 477.7 L317.6 480.9 L317.8 481.7 L318 479.7 L318.2 482.7 L318.4 482.7 L318.7 481.9 L318.9 484.8 L319.1 484 L319.3 481 L319.5 480.9 L319.8 485 L320 485.2 L320.2 482.8 L320.4 487.2 L320.6 483.9 L320.9 484 L321.1 485.2 L321.3 487.5 L321.5 488.5 L321.7 490.3 L322 487.1 L322.2 485.8 L322.4 486.9 L322.6 487.3 L322.8 491.4 L323.1 489.7 L323.3 490 L323.5 490.9 L323.7 493.5 L323.9 489.7 L324.2 491.1 L324.4 490.7 L324.6 491.1 L324.8 495.3 L325 491.6 L325.3 493 L325.5 496.6 L325.7 497.6 L325.9 496.9 L326.1 495.6 L326.4 496.5 L326.6 498 L326.8 500.4 L327 500.6 L327.2 499.4 L327.5 501.6 L327.7 499.3 L327.9 499.8 L328.1 502.4 L328.3 503.2 L328.6 503.5 L328.8 502.7 L329 500 L329.2 502.8 L329.4 505 L329.7 504.2 L329.9 505.4 L330.1 507.3 L330.3 504.9 L330.5 506.7 L330.8 509.4 L331 510.7 L331.2 511.1 L331.4 506.7 L331.6 510.2 L331.9 511.5 L332.1 513 L332.3 513.9 L332.5 512.4 L332.7 512.4 L333 511.2 L333.2 515.7 L333.4 516.3 L333.6 517.5 L333.8 515.3 L334.1 515 L334.3 515.9 L334.5 518.3 L334.7 516.6 L334.9 515.6 L335.2 518.5 L335.4 518.8 L335.6 520.5 L335.8 520.8 L336 524.1 L336.3 520.1 L336.5 524.6 L336.7 525.9 L336.9 524.7 L337.1 524.2 L337.4 523.6 L337.6 527.7 L337.8 525.7 L338 528.3 L338.2 527.3 L338.5 524.8 L338.7 527 L338.9 526.8 L339.1 527.4 L339.3 526.3 L339.6 528.4 L339.8 528.1 L340 528.2 L340.2 531.7 L340.4 529.6 L340.7 530.5 L340.9 529.2 L341.1 529.6 L341.3 534.6 L341.5 530.3 L341.8 533.2 L342 531.2 L342.2 533.4 L342.4 535.1 L342.6 534.5 L342.9 535.3 L343.1 534.6 L343.3 537.1 L343.5 534.8 L343.7 533.9 L344 534.1 L344.2 537.8 L344.4 537.4 L344.6 537.7 L344.8 537.5 L345.1 537.5 L345.3 536 L345.5 539 L345.7 539.2 L345.9 538.6 L346.2 540.2 L346.4 539.5 L346.6 536.7 L346.8 540.2 L347 539.5 L347.3 540.5 L347.5 538.9 L347.7 536.8 L347.9 538 L348.1 539.7 L348.4 537.8 L348.6 537.3 L348.8 541.5 L349 539.1 L349.2 540.7 L349.5 538.9 L349.7 538.8 L349.9 541.7 L350.1 539.5 L350.3 540.9 L350.6 540.7 L350.8 540.2 L351 542.7 L351.2 543.6 L351.4 542.1 L351.7 540.8 L351.9 539.5 L352.1 542.7 L352.3 543.7 L352.5 544.1 L352.8 540 L353 542.8 L353.2 540.4 L353.4 541.1 L353.6 543.3 L353.9 543.5 L354.1 541 L354.3 542.8 L354.5 542.7 L354.7 541.7 L355 544.5 L355.2 544 L355.4 541 L355.6 540.6 L355.8 543.2 L356.1 542.2 L356.3 543.4 L356.5 544.4 L356.7 543.4 L356.9 544 L357.2 545.4 L357.4 544.8 L357.6 543.3 L357.8 544.4 L358 545.9 L358.3 543.8 L358.5 544.9 L358.7 543.9 L358.9 541.8 L359.1 544.6 L359.4 542.2 L359.6 545.5 L359.8 545.5 L360 544.8 L360.2 546.1 L360.5 542 L360.7 545.1 L360.9 546.1 L361.1 543.2 L361.3 543.5 L361.6 542 L361.8 545 L362 542 L362.2 544.7 L362.4 544.4 L362.7 545.1 L362.9 545.4 L363.1 546.6 L363.3 545.4 L363.5 546.3 L363.8 542.7 L364 544.4 L364.2 545.3 L364.4 546.8 L364.6 543.8 L364.9 546.3 L365.1 545.1 L365.3 546.6 L365.5 544.3 L365.7 543.9 L366 546.3 L366.2 545.5 L366.4 545.6 L366.6 545.4 L366.8 546.4 L367.1 544.4 L367.3 542.9 L367.5 546.5 L367.7 545.7 L367.9 543.1 L368.2 547 L368.4 547.3 L368.6 545.6 L368.8 544.4 L369 546.2 L369.3 546.7 L369.5 547 L369.7 545.8 L369.9 546.7 L370.1 547.6 L370.4 546.5 L370.6 545.1 L370.8 543.8 L371 544.2 L371.2 545.6 L371.5 547.6 L371.7 544 L371.9 545.9 L372.1 547.2 L372.3 545.2 L372.6 545.3 L372.8 546.9 L373 545.3 L373.2 543.4 L373.4 544.7 L373.7 543.6 L373.9 547.6 L374.1 545.7 L374.3 547.6 L374.5 544.4 L374.8 545.1 L375 546.8 L375.2 544.4 L375.4 545.5 L375.6 545.7 L375.9 543.8 L376.1 545.1 L376.3 548.2 L376.5 546.1 L376.7 544.2 L377 546.9 L377.2 545.5 L377.4 546 L377.6 547.9 L377.8 545 L378.1 544.3 L378.3 545.5 L378.5 546.3 L378.7 546.3 L378.9 546 L379.2 548.1 L379.4 547.8 L379.6 547.9 L379.8 547.7 L380 546 L380.3 546.4 L380.5 546.2 L380.7 546 L380.9 547.7 L381.1 545.8 L381.4 546 L381.6 544.8 L381.8 545.1 L382 546 L382.2 548.3 L382.5 545.6 L382.7 547.2 L382.9 546.7 L383.1 544.4 L383.3 544.3 L383.6 545.7 L383.8 547.4 L384 545.1 L384.2 544.9 L384.4 545.3 L384.7 546.3 L384.9 544.8 L385.1 547.8 L385.3 546.6 L385.5 548.4 L385.8 548.4 L386 549.1 L386.2 545.3 L386.4 548.4 L386.6 546.9 L386.9 546.8 L387.1 548.2 L387.3 544.9 L387.5 545.9 L387.7 548.3 L388 544.9 L388.2 548.1 L388.4 547.4 L388.6 544.8 L388.8 544.9 L389.1 546 L389.3 547.7 L389.5 549.1 L389.7 548.5 L389.9 545.1 L390.2 547.5 L390.4 547.3 L390.6 547 L390.8 546.4 L391 548.7 L391.3 548 L391.5 549.5 L391.7 546 L391.9 546.5 L392.1 545.6 L392.4 545.9 L392.6 545.6 L392.8 547.9 L393 546.6 L393.2 548.7 L393.5 548.2 L393.7 545.9 L393.9 546.7 L394.1 548.9 L394.3 548.7 L394.6 545.4 L394.8 549.4 L395 547.4 L395.2 549.6 L395.4 548.2 L395.7 548.6 L395.9 546.9 L396.1 546" fill="none" stroke="#e0212f" stroke-width="1.45" stroke-linejoin="round"/>
<line x1="277.6" y1="508" x2="277.6" y2="520" stroke="#e0212f" stroke-width="0.7" />
<line x1="279.4" y1="510.5" x2="279.4" y2="522.5" stroke="#e0212f" stroke-width="0.7" />
<line x1="281.4" y1="512" x2="281.4" y2="524" stroke="#e0212f" stroke-width="0.7" />
<line x1="283.2" y1="511" x2="283.2" y2="523" stroke="#e0212f" stroke-width="0.7" />
<line x1="285.2" y1="513.5" x2="285.2" y2="525.5" stroke="#e0212f" stroke-width="0.7" />
<line x1="286.6" y1="514" x2="286.6" y2="526" stroke="#e0212f" stroke-width="0.7" />
<rect x="245.3" y="426" width="3.4" height="132.9" fill="#111" />
</g>
<g id="panel-m">
<text x="424.2" y="435.9" font-size="14.8" fill="#111" font-weight="700" >m</text>
<rect x="475.5" y="421.5" width="8.6" height="6.4" fill="#e0203a" />
<text x="487.3" y="426.8" font-size="9.5" fill="#cf3048" font-weight="700" textLength="63" lengthAdjust="spacingAndGlyphs" >ebDGCs (n=5)</text>
<path d="M486.2 518.9 L486.6 519.2 L487 520.1 L487.4 517.7 L487.8 518.8 L488.2 518.9 L488.6 518.7 L489 516.4 L489.4 515.4 L489.8 516.4 L490.2 518.2 L490.6 516.7 L491 517.2 L491.4 516.6 L491.8 518.5 L492.2 519.4 L492.6 517.5 L493 519.3 L493.4 516 L493.8 518 L494.2 518.8 L494.6 516.1 L495 517.5 L495.4 517.3 L495.8 518.8 L496.2 516.2 L496.6 516.8 L497 518.2 L497.4 517.7 L497.8 516.2 L498.2 514.7 L498.6 517.4 L499 516.2 L499.4 517.7 L499.8 514.6 L500.2 516.1 L500.6 516.4 L501 516.7 L501.4 513 L501.8 513.1 L502.2 511.7 L502.6 513.9 L503 512.8 L503.4 514.7 L503.8 512.7 L504.2 513.5 L504.6 514 L505 511.4 L505.4 511.7 L505.8 513.2 L506.2 511.7 L506.6 510.4 L507 506.3 L507.4 504.7 L507.8 499.4 L508.2 497.1 L508.6 493.7 L509 490.3 L509.4 482.7 L509.8 478.4 L510.2 474 L510.6 466.2 L511 461.1 L511.4 462.5 L511.8 461.2 L512.2 459 L512.6 456.8 L513 458.7 L513.4 457.1 L513.8 456.6 L514.2 455.2 L514.6 455.7 L515 455.8 L515.4 453.6 L515.8 451.5 L516.2 454.1 L516.6 454 L517 450.8 L517.4 452.4 L517.8 453.6 L518.2 453.1 L518.6 454.5 L519 456.1 L519.4 455.4 L519.8 454.7 L520.2 454 L520.6 454.2 L521 454.2 L521.4 454.5 L521.8 455.4 L522.2 458.6 L522.6 458.8 L523 460.3 L523.4 461.7 L523.8 462.1 L524.2 459.6 L524.6 462.7 L525 460.8 L525.4 463.3 L525.8 464.8 L526.2 464.9 L526.6 464.3 L527 463.1 L527.4 462.9 L527.8 465.3 L528.2 464.6 L528.6 465.7 L529 465.2 L529.4 464.8 L529.8 465.4 L530.2 467.5 L530.6 467.4 L531 467.1 L531.4 465.5 L531.8 463.2 L532.2 460.6 L532.6 457.7 L533 457.1 L533.4 454.2 L533.8 448.2 L534.2 443.6 L534.6 438.7 L535 434.9 L535.4 429.4 L535.8 432.9 L536.2 433.9 L536.6 434.4 L537 437.1 L537.4 436.3 L537.8 437.8 L538.2 440 L538.6 439.5 L539 439.8 L539.4 439.3 L539.8 442 L540.2 442.1 L540.6 440.7 L541 440.8 L541.4 441.5 L541.8 440.8 L542.2 440.2 L542.6 438.2 L543 438.6 L543.4 438.8 L543.8 438.6 L544.2 437 L544.6 436.3 L545 436.1 L545.4 435.9 L545.8 435.4 L546.2 433.1 L546.6 433.2 L547 436.2 L547.4 437.5 L547.8 437.1 L548.2 438.9 L548.6 437.9 L549 438.6 L549.4 440.5 L549.8 442.9 L550.2 442 L550.6 444.6 L551 448.2 L551.4 449.1 L551.8 452 L552.2 450.4 L552.6 454.2 L553 455.5 L553.4 453 L553.8 454.8 L554.2 456.7 L554.6 455.6 L555 457.4 L555.4 459.2 L555.8 460 L556.2 459.3 L556.6 458 L557 460 L557.4 459.7 L557.8 461.5 L558.2 461.4 L558.6 462.2 L559 463.7 L559.4 465.7 L559.8 467.4 L560.2 466.1 L560.6 464.5 L561 467.5 L561.4 467.3 L561.8 469.3 L562.2 470.8 L562.6 468.5 L563 471.1 L563.4 470.5 L563.8 471 L564.2 471.7 L564.6 473.2 L565 473 L565.4 474.4 L565.8 474.5 L566.2 474.3 L566.6 475.3 L567 477.8 L567.4 477.5 L567.8 477.5 L568.2 478.7 L568.6 478.9 L569 482.5 L569.4 483.3 L569.8 481.5 L570.2 482 L570.6 483.2 L571 484.4 L571.4 484.7 L571.8 485.8 L572.2 487.6 L572.6 486.2 L573 487.9 L573.4 487.2 L573.8 489 L574.2 489.1 L574.6 491.5 L575 493 L575.4 494.2 L575.8 492.9 L576.2 493.7 L576.6 492.7 L577 495 L577.4 496.4 L577.8 495.9 L578.2 495.7 L578.6 497.9 L579 499 L579.4 499.9 L579.8 498.6 L580.2 498.5 L580.6 499 L581 499.3 L581.4 499.2 L581.8 500 L582.2 502.2 L582.6 503.1 L583 505.6 L583.4 504.8 L583.8 504.2 L584.2 507.5 L584.6 505.4 L585 506.1 L585.4 508.2 L585.8 507.4 L586.2 510 L586.6 510.2 L587 508.8 L587.4 510.9 L587.8 512 L588.2 511 L588.6 509.5 L589 509.2 L589.4 512.2 L589.8 513.7 L590.2 513.4 L590.6 514.1 L591 514.7 L591.4 512.9 L591.8 512.6 L592.2 515.4 L592.6 516.4 L593 515.3 L593.4 514.7 L593.8 514 L594.2 515.3 L594.6 518 L595 516.3 L595.4 516.5 L595.8 515.7 L596.2 517.8 L596.6 516.4 L597 518.6 L597.4 518.6 L597.8 518.5 L598.2 517.9 L598.6 518 L599 520.5 L599.4 521.6 L599.8 521.3 L600.2 519.1 L600.6 518.6 L601 519.1 L601.4 521.5 L601.8 522.6 L602.2 520.2 L602.6 521.2 L603 520.6 L603.4 520.8 L603.8 520 L604.2 521.9 L604.6 522.9 L605 523.9 L605.4 522.5 L605.8 522 L606.2 522.8 L606.6 521.1 L607 523.7 L607.4 524.1 L607.8 522.2 L608.2 522.5 L608.6 523 L609 524.7 L609.4 524.7 L609.8 523 L610.2 525.4 L610.6 526 L611 525.9 L611.4 524.4 L611.8 523.9 L612.2 523.5 L612.6 525.6 L613 524.3 L613.4 525.8 L613.8 523.2 L614.2 521.8 L614.6 523.1 L615 522.4 L615.4 522.5 L615.8 521.6 L616.2 521.7 L616.6 523 L617 522 L617.4 522.5 L617.8 523.9 L618.2 523 L618.6 522.9 L619 523.1 L619.4 522.8 L619.8 523.8 L620.2 525 L620.6 522.4 L621 523.6 L621.4 524 L621.8 525.7 L622.2 525.3 L622.6 523.5 L623 524.3 L623 543.6 L622.6 545.4 L622.2 543.1 L621.8 542.2 L621.4 543 L621 545.8 L620.6 543 L620.2 543.6 L619.8 542.7 L619.4 545.2 L619 544.6 L618.6 545 L618.2 543.1 L617.8 545.4 L617.4 545.3 L617 544.8 L616.6 546.6 L616.2 545.4 L615.8 542.4 L615.4 544.7 L615 545.8 L614.6 543.9 L614.2 544.9 L613.8 542.6 L613.4 542.9 L613 545.6 L612.6 543.6 L612.2 545 L611.8 545.1 L611.4 542.8 L611 544.1 L610.6 541.7 L610.2 542.3 L609.8 542.9 L609.4 544 L609 543.8 L608.6 543.8 L608.2 543.8 L607.8 542.9 L607.4 545.3 L607 545.3 L606.6 544.6 L606.2 543.9 L605.8 541 L605.4 541.1 L605 539.7 L604.6 540.8 L604.2 542.3 L603.8 543 L603.4 540.9 L603 539.8 L602.6 540.6 L602.2 541.3 L601.8 538.9 L601.4 540.2 L601 541.8 L600.6 539.5 L600.2 538.7 L599.8 540.4 L599.4 540.8 L599 540.1 L598.6 538.8 L598.2 539.2 L597.8 537.5 L597.4 537.1 L597 538.9 L596.6 538.7 L596.2 538.2 L595.8 537.8 L595.4 539.7 L595 538.7 L594.6 539.5 L594.2 538.6 L593.8 538.5 L593.4 538 L593 536.3 L592.6 537.9 L592.2 535.9 L591.8 537.2 L591.4 536.3 L591 534.7 L590.6 533.4 L590.2 533.2 L589.8 533.3 L589.4 533.3 L589 532.8 L588.6 533.2 L588.2 533.9 L587.8 533.2 L587.4 531.5 L587 530.9 L586.6 532.4 L586.2 530.4 L585.8 532.5 L585.4 531.4 L585 532 L584.6 529.5 L584.2 531.9 L583.8 530.1 L583.4 529.6 L583 531.5 L582.6 530.9 L582.2 528.1 L581.8 529.2 L581.4 526.8 L581 526 L580.6 526.6 L580.2 527 L579.8 526.7 L579.4 525.8 L579 525.4 L578.6 523.5 L578.2 524.7 L577.8 523.8 L577.4 526.1 L577 525.2 L576.6 524.4 L576.2 522.9 L575.8 523.9 L575.4 523.1 L575 523.8 L574.6 522.4 L574.2 520.1 L573.8 518.8 L573.4 519.4 L573 520 L572.6 519 L572.2 518.4 L571.8 519.5 L571.4 518.6 L571 515 L570.6 514.2 L570.2 514.4 L569.8 513.1 L569.4 513.6 L569 514.2 L568.6 511.7 L568.2 514 L567.8 510.9 L567.4 512.7 L567 512.1 L566.6 511.1 L566.2 510.1 L565.8 509 L565.4 508 L565 509.2 L564.6 506.8 L564.2 506.5 L563.8 505.1 L563.4 506.4 L563 505.5 L562.6 505.1 L562.2 504.7 L561.8 502.5 L561.4 501.3 L561 501.7 L560.6 503.3 L560.2 502.3 L559.8 501.5 L559.4 499.7 L559 497.4 L558.6 496.6 L558.2 497.7 L557.8 494.3 L557.4 495.2 L557 495.1 L556.6 493.4 L556.2 493.5 L555.8 490.9 L555.4 491 L555 493.1 L554.6 491.3 L554.2 490.3 L553.8 488.9 L553.4 488.9 L553 489.1 L552.6 488.2 L552.2 485.4 L551.8 487.3 L551.4 483.7 L551 485.3 L550.6 484.6 L550.2 484.1 L549.8 480.8 L549.4 480.4 L549 480.3 L548.6 479.7 L548.2 478 L547.8 477.9 L547.4 477.4 L547 477.9 L546.6 479.5 L546.2 479.4 L545.8 481.4 L545.4 483.8 L545 482.3 L544.6 485.3 L544.2 486 L543.8 486.9 L543.4 489.5 L543 489.1 L542.6 490.8 L542.2 492.4 L541.8 492.3 L541.4 494.1 L541 496.5 L540.6 497.4 L540.2 496.3 L539.8 498.4 L539.4 499.1 L539 497.4 L538.6 497.6 L538.2 499.9 L537.8 498.6 L537.4 498.7 L537 497 L536.6 497.7 L536.2 498.6 L535.8 499.4 L535.4 498.1 L535 498.5 L534.6 501.1 L534.2 506 L533.8 506.4 L533.4 506.7 L533 506.8 L532.6 508.4 L532.2 511.2 L531.8 515.7 L531.4 516.1 L531 518.3 L530.6 518.3 L530.2 519.3 L529.8 519.9 L529.4 521 L529 520 L528.6 522.9 L528.2 523.8 L527.8 523.4 L527.4 523.5 L527 526.2 L526.6 524.9 L526.2 523.9 L525.8 527.7 L525.4 526.2 L525 524.4 L524.6 525.7 L524.2 526.6 L523.8 524.9 L523.4 522.3 L523 520.9 L522.6 520.3 L522.2 520.5 L521.8 520.7 L521.4 521.8 L521 521.5 L520.6 519.2 L520.2 517.9 L519.8 518.2 L519.4 516.2 L519 515.5 L518.6 515.9 L518.2 517.3 L517.8 515.7 L517.4 516 L517 516 L516.6 515.3 L516.2 514 L515.8 511.8 L515.4 512.8 L515 512.8 L514.6 511.8 L514.2 512.3 L513.8 513.8 L513.4 512.2 L513 512.1 L512.6 510.6 L512.2 512.1 L511.8 513 L511.4 510.3 L511 511.4 L510.6 512.6 L510.2 515 L509.8 519 L509.4 521.8 L509 521 L508.6 522.2 L508.2 524.6 L507.8 525.7 L507.4 529.6 L507 530.6 L506.6 531.8 L506.2 532.5 L505.8 532.9 L505.4 530.9 L505 532.1 L504.6 530.9 L504.2 534 L503.8 533.4 L503.4 532.3 L503 532.2 L502.6 533.5 L502.2 534.4 L501.8 532.4 L501.4 530.9 L501 531.5 L500.6 531.8 L500.2 533.3 L499.8 533.7 L499.4 534.9 L499 533.8 L498.6 534.3 L498.2 533.3 L497.8 534.3 L497.4 537.3 L497 534.9 L496.6 536.7 L496.2 534.2 L495.8 536.6 L495.4 534.3 L495 534.8 L494.6 536.6 L494.2 534.4 L493.8 535.5 L493.4 535.2 L493 538.4 L492.6 536.8 L492.2 535.8 L491.8 535.4 L491.4 536.6 L491 535.8 L490.6 538 L490.2 535.9 L489.8 539.3 L489.4 537.7 L489 538.3 L488.6 536.9 L488.2 537.4 L487.8 537 L487.4 536.9 L487 539.8 L486.6 540.4 L486.2 539.8 Z" fill="#ef828a" opacity="1"/>
<path d="M467.7 533.7 L468.1 533.8 L468.5 533.7 L468.9 533.6 L469.3 533.7 L469.7 533.4 L470.1 533.4 L470.5 533.7 L470.9 533.4 L471.3 533.4 L471.7 533.3 L472.1 533.5 L472.5 533.8 L472.9 533.4 L473.3 533.5 L473.7 533.7 L474.1 533.3 L474.5 533.4 L474.9 533.4 L475.3 533.5 L475.7 533.8 L476.1 533.8 L476.5 533.5 L476.9 533.3 L477.3 533.4 L477.7 533.7 L478.1 533.4 L478.5 533.3 L478.9 533.3 L479.3 533.7 L479.7 533.4 L480.1 533.2 L480.5 533.3 L480.9 533.4 L481.3 533.2 L481.7 533.5 L482.1 533.3 L482.5 533.4 L482.9 532.5 L483.3 531.1 L483.7 529.6 L484.1 527.7 L484.5 525.9 L484.9 524.2 L485.3 522.6 L485.7 520.7 L486.1 518.9 L486.1 537.8 L485.7 537.9 L485.3 537.9 L484.9 538 L484.5 537.9 L484.1 537.9 L483.7 537.8 L483.3 537.5 L482.9 537.6 L482.5 537.7 L482.1 537.5 L481.7 537.5 L481.3 537.1 L480.9 537.4 L480.5 537.4 L480.1 537.2 L479.7 537.2 L479.3 537.2 L478.9 537.3 L478.5 537.3 L478.1 537.6 L477.7 537.6 L477.3 537.4 L476.9 537.4 L476.5 537.6 L476.1 537.3 L475.7 537.5 L475.3 537.1 L474.9 537.2 L474.5 537.6 L474.1 537.2 L473.7 537.6 L473.3 537.5 L472.9 537.1 L472.5 537.2 L472.1 537.1 L471.7 537.5 L471.3 537.3 L470.9 537 L470.5 537.2 L470.1 537.6 L469.7 537.5 L469.3 537.2 L468.9 537 L468.5 537.1 L468.1 537.2 L467.7 537.1 Z" fill="#ef828a" opacity="1"/>
<path d="M467.7 535.1 L468 535.3 L468.3 534.3 L468.6 536.6 L468.9 536.7 L469.2 534.8 L469.5 534.1 L469.8 533.9 L470.1 535.6 L470.4 536.2 L470.7 535.1 L471 536.2 L471.3 534.5 L471.6 534.7 L471.9 534.4 L472.2 533.7 L472.5 533.6 L472.8 536.5 L473.1 534.2 L473.4 533.9 L473.7 535.7 L474 534.8 L474.3 535.4 L474.6 533.8 L474.9 533.8 L475.2 535.2 L475.5 536.7 L475.8 534.3 L476.1 534.1 L476.4 536.1 L476.7 536.2 L477 535.4 L477.3 536 L477.6 534.8 L477.9 534.4 L478.2 534.7 L478.5 534.6 L478.8 535.5 L479.1 536.1 L479.4 536.3 L479.7 535.9 L480 534.3 L480.3 535.9 L480.6 534.5 L480.9 534.1 L481.2 535 L481.5 536.9 L481.8 535.1 L482.1 535.9 L482.4 536.2 L482.7 535.8 L483 533.7 L483.3 534.6 L483.6 534.1 L483.9 532.3 L484.2 531.1 L484.5 530.3 L484.8 531.8 L485.1 532 L485.4 528.6 L485.7 529.1 L486 530.3 L486.3 530.1 L486.6 529.5 L486.9 526.3 L487.2 527.1 L487.5 525.6 L487.8 527.1 L488.1 528.9 L488.4 526.5 L488.7 529.8 L489 526.4 L489.3 527.3 L489.6 527.5 L489.9 527.3 L490.2 528.2 L490.5 527.2 L490.8 528.5 L491.1 527.4 L491.4 529.2 L491.7 528.6 L492 528.7 L492.3 528.9 L492.6 527.4 L492.9 526.1 L493.2 524.8 L493.5 525 L493.8 526.2 L494.1 527.5 L494.4 526.1 L494.7 523.8 L495 524.8 L495.3 526 L495.6 524.2 L495.9 527.6 L496.2 524.8 L496.5 523.6 L496.8 527.5 L497.1 525.3 L497.4 523.9 L497.7 523.2 L498 525.2 L498.3 527.2 L498.6 524.1 L498.9 524 L499.2 526.4 L499.5 525.3 L499.8 525.7 L500.1 521.7 L500.4 525.7 L500.7 526.4 L501 523.2 L501.3 525.1 L501.6 521.6 L501.9 521.9 L502.2 525.1 L502.5 521.7 L502.8 522.1 L503.1 521.7 L503.4 520.7 L503.7 524.3 L504 520.2 L504.3 524.2 L504.6 521.2 L504.9 522.5 L505.2 520.8 L505.5 520.4 L505.8 521.7 L506.1 523.3 L506.4 521.8 L506.7 518.8 L507 518.8 L507.3 517.2 L507.6 516.7 L507.9 511.9 L508.2 512.3 L508.5 508.2 L508.8 508.8 L509.1 504.5 L509.4 500.3 L509.7 499.7 L510 498.1 L510.3 491.6 L510.6 489.8 L510.9 487.6 L511.2 489.6 L511.5 489.4 L511.8 485.8 L512.1 487.3 L512.4 487.1 L512.7 486.4 L513 483.5 L513.3 484.9 L513.6 487.1 L513.9 483.8 L514.2 486.7 L514.5 485.6 L514.8 483.5 L515.1 482.2 L515.4 482 L515.7 485.5 L516 484.5 L516.3 485.6 L516.6 483.7 L516.9 484.9 L517.2 483.5 L517.5 482.7 L517.8 484.2 L518.1 483.1 L518.4 484.6 L518.7 484.1 L519 483.3 L519.3 484.4 L519.6 487.8 L519.9 488.3 L520.2 488.7 L520.5 485.9 L520.8 487.4 L521.1 488.9 L521.4 486.9 L521.7 488.3 L522 490.7 L522.3 492.2 L522.6 488.6 L522.9 490.6 L523.2 491.1 L523.5 491.3 L523.8 493.9 L524.1 490.1 L524.4 494.4 L524.7 495.1 L525 493.2 L525.3 495.4 L525.6 496.1 L525.9 494.7 L526.2 493.6 L526.5 494.5 L526.8 498.5 L527.1 495.5 L527.4 497.3 L527.7 493.6 L528 496.8 L528.3 494 L528.6 495.6 L528.9 493.6 L529.2 495.2 L529.5 494.7 L529.8 495.5 L530.1 491.1 L530.4 491.5 L530.7 493.4 L531 491.6 L531.3 487.6 L531.6 485.7 L531.9 486.4 L532.2 482.5 L532.5 480.4 L532.8 480.5 L533.1 478.1 L533.4 477.3 L533.7 475.7 L534 474.9 L534.3 470.7 L534.6 472.8 L534.9 467 L535.2 468.7 L535.5 465.9 L535.8 466.4 L536.1 467.3 L536.4 466.7 L536.7 467.3 L537 470.2 L537.3 468.7 L537.6 468.7 L537.9 467.5 L538.2 471.2 L538.5 470.2 L538.8 468.7 L539.1 472.2 L539.4 469.1 L539.7 472.7 L540 472.1 L540.3 470.7 L540.6 467.3 L540.9 469.7 L541.2 466.9 L541.5 463.6 L541.8 465 L542.1 464.7 L542.4 463.3 L542.7 460.5 L543 460.4 L543.3 460 L543.6 459.9 L543.9 459 L544.2 460.1 L544.5 460.6 L544.8 459.1 L545.1 458.1 L545.4 456.1 L545.7 456.5 L546 455.4 L546.3 455.3 L546.6 454.1 L546.9 457 L547.2 455.7 L547.5 455.7 L547.8 458.8 L548.1 458 L548.4 460 L548.7 460.5 L549 461.9 L549.3 459.3 L549.6 462.2 L549.9 464.5 L550.2 463.2 L550.5 466.6 L550.8 463.7 L551.1 464.7 L551.4 466.2 L551.7 467.4 L552 467.4 L552.3 468.1 L552.6 469.9 L552.9 470.8 L553.2 469.9 L553.5 473.3 L553.8 474.5 L554.1 474.9 L554.4 474.2 L554.7 475.8 L555 475.3 L555.3 476.7 L555.6 475.1 L555.9 477.9 L556.2 473.8 L556.5 477.6 L556.8 478.1 L557.1 475.8 L557.4 479.7 L557.7 478.1 L558 481.2 L558.3 482.3 L558.6 480.1 L558.9 483.2 L559.2 479.7 L559.5 480.3 L559.8 484.1 L560.1 484.2 L560.4 482.4 L560.7 483.4 L561 484 L561.3 486 L561.6 483.2 L561.9 486.1 L562.2 487.4 L562.5 488.2 L562.8 485.4 L563.1 486.7 L563.4 487.2 L563.7 488.7 L564 490.5 L564.3 490.3 L564.6 490 L564.9 490.7 L565.2 493.3 L565.5 494.6 L565.8 494.1 L566.1 492.3 L566.4 491.5 L566.7 494.8 L567 492.4 L567.3 493.9 L567.6 493.9 L567.9 495 L568.2 494.5 L568.5 495.1 L568.8 500.1 L569.1 500.6 L569.4 496.7 L569.7 501.2 L570 501.7 L570.3 502.9 L570.6 502.7 L570.9 500.6 L571.2 503.2 L571.5 500.7 L571.8 503.5 L572.1 505.3 L572.4 502.2 L572.7 503 L573 507.3 L573.3 505.4 L573.6 504.4 L573.9 505.7 L574.2 505.9 L574.5 504.6 L574.8 509 L575.1 507.5 L575.4 508.8 L575.7 509.5 L576 511.3 L576.3 511.1 L576.6 510.1 L576.9 509.5 L577.2 511 L577.5 509.5 L577.8 509.5 L578.1 512.6 L578.4 514.3 L578.7 514.4 L579 510.8 L579.3 514.1 L579.6 514.6 L579.9 515.1 L580.2 513.8 L580.5 514.5 L580.8 516.4 L581.1 513.6 L581.4 515 L581.7 514.1 L582 517 L582.3 515.8 L582.6 518.5 L582.9 515.4 L583.2 519.9 L583.5 518.5 L583.8 518.4 L584.1 517 L584.4 518.4 L584.7 520.6 L585 519.5 L585.3 518.5 L585.6 518.4 L585.9 520.8 L586.2 518.4 L586.5 521.3 L586.8 521.1 L587.1 521.9 L587.4 519.8 L587.7 523.5 L588 520.5 L588.3 523.4 L588.6 523.7 L588.9 524.7 L589.2 523.7 L589.5 524 L589.8 524.2 L590.1 523 L590.4 522.7 L590.7 522.8 L591 526.1 L591.3 524.9 L591.6 524.7 L591.9 527.5 L592.2 526.8 L592.5 526.5 L592.8 526.7 L593.1 524.5 L593.4 526.4 L593.7 525 L594 528 L594.3 527.3 L594.6 525.8 L594.9 526.7 L595.2 529.9 L595.5 529.8 L595.8 528.1 L596.1 527 L596.4 526.9 L596.7 528.5 L597 526.6 L597.3 528.9 L597.6 528.9 L597.9 528.7 L598.2 530.5 L598.5 528.6 L598.8 530.8 L599.1 528.2 L599.4 530.8 L599.7 529.5 L600 529.4 L600.3 529.3 L600.6 528.4 L600.9 529.3 L601.2 527.8 L601.5 529.8 L601.8 530.9 L602.1 529 L602.4 530 L602.7 529.6 L603 529.2 L603.3 533.5 L603.6 533.7 L603.9 532.7 L604.2 530.6 L604.5 533.9 L604.8 530.4 L605.1 531.2 L605.4 529.6 L605.7 534.5 L606 530.6 L606.3 534.2 L606.6 534.1 L606.9 534 L607.2 534.8 L607.5 535.3 L607.8 533.1 L608.1 534.1 L608.4 533.2 L608.7 532.6 L609 532.8 L609.3 535.4 L609.6 535.6 L609.9 533 L610.2 533.4 L610.5 534 L610.8 533.4 L611.1 532.3 L611.4 534.2 L611.7 531.5 L612 536.3 L612.3 533 L612.6 534.7 L612.9 533.9 L613.2 535.1 L613.5 535.7 L613.8 532 L614.1 532.1 L614.4 536.1 L614.7 536.1 L615 533 L615.3 534.7 L615.6 532.5 L615.9 533.7 L616.2 534 L616.5 535.2 L616.8 533.6 L617.1 534.1 L617.4 533.4 L617.7 533 L618 531.8 L618.3 533.3 L618.6 535.4 L618.9 536.3 L619.2 533.5 L619.5 535.8 L619.8 532.4 L620.1 534.8 L620.4 535.8 L620.7 535.8 L621 536.5 L621.3 536.3 L621.6 536 L621.9 532.6 L622.2 535 L622.5 535.6 L622.8 535.5 L623.1 535.2" fill="none" stroke="#e0212f" stroke-width="1.9" stroke-linejoin="round"/>
<line x1="466.8" y1="425.6" x2="466.8" y2="549" stroke="#111" stroke-width="1.6" />
<line x1="466" y1="548.2" x2="623.6" y2="548.2" stroke="#111" stroke-width="1.6" />
<line x1="463.4" y1="426.7" x2="466.8" y2="426.7" stroke="#111" stroke-width="1.4" />
<text x="461.6" y="430.1" font-size="9.8" fill="#111" font-weight="700" text-anchor="end" >4</text>
<line x1="463.4" y1="454.1" x2="466.8" y2="454.1" stroke="#111" stroke-width="1.4" />
<text x="461.6" y="457.5" font-size="9.8" fill="#111" font-weight="700" text-anchor="end" >3</text>
<line x1="463.4" y1="480.6" x2="466.8" y2="480.6" stroke="#111" stroke-width="1.4" />
<text x="461.6" y="484" font-size="9.8" fill="#111" font-weight="700" text-anchor="end" >2</text>
<line x1="463.4" y1="508.5" x2="466.8" y2="508.5" stroke="#111" stroke-width="1.4" />
<text x="461.6" y="511.9" font-size="9.8" fill="#111" font-weight="700" text-anchor="end" >1</text>
<line x1="463.4" y1="534.5" x2="466.8" y2="534.5" stroke="#111" stroke-width="1.4" />
<text x="461.6" y="537.9" font-size="9.8" fill="#111" font-weight="700" text-anchor="end" >0</text>
<text x="467.9" y="559.4" font-size="9.8" fill="#111" font-weight="700" text-anchor="middle" >- 10</text>
<line x1="485" y1="548.2" x2="485" y2="551.2" stroke="#111" stroke-width="1.4" />
<text x="484.9" y="559.4" font-size="9.8" fill="#111" font-weight="700" text-anchor="middle" >0</text>
<line x1="500" y1="548.2" x2="500" y2="551.2" stroke="#111" stroke-width="1.4" />
<text x="501.3" y="559.4" font-size="9.8" fill="#111" font-weight="700" text-anchor="middle" >10</text>
<line x1="515" y1="548.2" x2="515" y2="551.2" stroke="#111" stroke-width="1.4" />
<text x="516.9" y="559.4" font-size="9.8" fill="#111" font-weight="700" text-anchor="middle" >20</text>
<line x1="530" y1="548.2" x2="530" y2="551.2" stroke="#111" stroke-width="1.4" />
<text x="532.1" y="559.4" font-size="9.8" fill="#111" font-weight="700" text-anchor="middle" >30</text>
<line x1="545" y1="548.2" x2="545" y2="551.2" stroke="#111" stroke-width="1.4" />
<text x="546.8" y="559.4" font-size="9.8" fill="#111" font-weight="700" text-anchor="middle" >40</text>
<line x1="560" y1="548.2" x2="560" y2="551.2" stroke="#111" stroke-width="1.4" />
<text x="561.6" y="559.4" font-size="9.8" fill="#111" font-weight="700" text-anchor="middle" >50</text>
<line x1="575" y1="548.2" x2="575" y2="551.2" stroke="#111" stroke-width="1.4" />
<text x="577.1" y="559.4" font-size="9.8" fill="#111" font-weight="700" text-anchor="middle" >60</text>
<line x1="590" y1="548.2" x2="590" y2="551.2" stroke="#111" stroke-width="1.4" />
<text x="590.3" y="559.4" font-size="9.8" fill="#111" font-weight="700" text-anchor="middle" >70</text>
<line x1="605" y1="548.2" x2="605" y2="551.2" stroke="#111" stroke-width="1.4" />
<text x="605.3" y="559.4" font-size="9.8" fill="#111" font-weight="700" text-anchor="middle" >80</text>
<text transform="translate(447.3 484.6) rotate(-90)" font-size="9.8" fill="#111" text-anchor="middle" font-weight="700">&#916;F/F(%)</text>
<text x="546.4" y="571.3" font-size="9.8" fill="#111" font-weight="700" text-anchor="middle" >Time (s)</text>
<rect x="482.7" y="431.6" width="3.5" height="117.4" fill="#111" />
</g>
<g id="panel-n">
<text x="648.4" y="430.8" font-size="14.8" fill="#111" font-weight="700" >n</text>
<line x1="683.9" y1="423.8" x2="683.9" y2="548.1" stroke="#111" stroke-width="1.6" />
<line x1="683.1" y1="547.3" x2="767.8" y2="547.3" stroke="#111" stroke-width="1.6" />
<line x1="680.5" y1="424.6" x2="683.9" y2="424.6" stroke="#111" stroke-width="1.4" />
<text x="679.4" y="428.1" font-size="10.3" fill="#111" font-weight="700" text-anchor="end" >15</text>
<line x1="680.5" y1="466.5" x2="683.9" y2="466.5" stroke="#111" stroke-width="1.4" />
<text x="679.4" y="470" font-size="10.3" fill="#111" font-weight="700" text-anchor="end" >10</text>
<line x1="680.5" y1="507" x2="683.9" y2="507" stroke="#111" stroke-width="1.4" />
<text x="679.4" y="510.5" font-size="10.3" fill="#111" font-weight="700" text-anchor="end" >5</text>
<line x1="680.5" y1="547.3" x2="683.9" y2="547.3" stroke="#111" stroke-width="1.4" />
<text x="679.4" y="550.8" font-size="10.3" fill="#111" font-weight="700" text-anchor="end" >0</text>
<line x1="747.1" y1="547.3" x2="747.1" y2="550.6" stroke="#111" stroke-width="1.4" />
<line x1="706.2" y1="547.3" x2="747.1" y2="439.6" stroke="#111" stroke-width="1.9" />
<line x1="706.2" y1="547.3" x2="747.1" y2="468.6" stroke="#111" stroke-width="1.9" />
<line x1="706.2" y1="547.3" x2="747.1" y2="505.5" stroke="#111" stroke-width="1.9" />
<line x1="706.2" y1="547.3" x2="747.1" y2="518.9" stroke="#111" stroke-width="1.9" />
<line x1="706.2" y1="547.3" x2="747.1" y2="534.2" stroke="#111" stroke-width="1.9" />
<circle cx="747.1" cy="439.6" r="3.3" fill="#e03545"/>
<circle cx="747.1" cy="468.6" r="3.3" fill="#e03545"/>
<circle cx="747.1" cy="505.5" r="3.3" fill="#e03545"/>
<circle cx="747.1" cy="518.9" r="3.3" fill="#e03545"/>
<circle cx="747.1" cy="534.2" r="3.3" fill="#e03545"/>
<circle cx="706.2" cy="547.3" r="3.3" fill="#111"/>
<text x="746.6" y="433.4" font-size="13.5" fill="#111" font-weight="700" text-anchor="middle" >*</text>
<text transform="translate(665.2 483) rotate(-90)" font-size="10.3" fill="#111" text-anchor="middle" font-weight="700">&#916;F/F(%)</text>
<text transform="translate(709.2 557.4) rotate(-45)" font-size="10.3" fill="#111" text-anchor="end" font-weight="700">baseline</text>
<text transform="translate(750.6 556.4) rotate(-45)" font-size="10.3" fill="#111" text-anchor="end" font-weight="700">kindled</text>
</g>
</svg>
</body>
</html>
